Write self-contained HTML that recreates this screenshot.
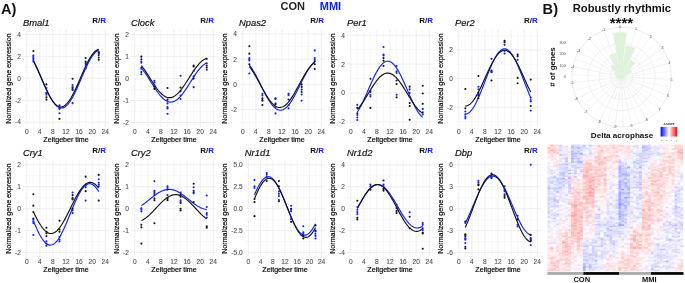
<!DOCTYPE html><html><head><meta charset="utf-8"><style>html,body{margin:0;padding:0;background:#fff;overflow:hidden}svg{display:block;will-change:transform}text{font-family:"Liberation Sans",sans-serif}</style></head><body><svg width="685" height="283" viewBox="0 0 685 283" font-family='"Liberation Sans", sans-serif'>
<rect width="685" height="283" fill="#fff"/>
<line x1="26.80" y1="29.70" x2="26.80" y2="126.90" stroke="#ebebeb" stroke-width="0.8"/>
<line x1="33.34" y1="29.70" x2="33.34" y2="126.90" stroke="#f3f3f3" stroke-width="0.6"/>
<line x1="39.88" y1="29.70" x2="39.88" y2="126.90" stroke="#ebebeb" stroke-width="0.8"/>
<line x1="46.42" y1="29.70" x2="46.42" y2="126.90" stroke="#f3f3f3" stroke-width="0.6"/>
<line x1="52.96" y1="29.70" x2="52.96" y2="126.90" stroke="#ebebeb" stroke-width="0.8"/>
<line x1="59.50" y1="29.70" x2="59.50" y2="126.90" stroke="#f3f3f3" stroke-width="0.6"/>
<line x1="66.04" y1="29.70" x2="66.04" y2="126.90" stroke="#ebebeb" stroke-width="0.8"/>
<line x1="72.58" y1="29.70" x2="72.58" y2="126.90" stroke="#f3f3f3" stroke-width="0.6"/>
<line x1="79.12" y1="29.70" x2="79.12" y2="126.90" stroke="#ebebeb" stroke-width="0.8"/>
<line x1="85.66" y1="29.70" x2="85.66" y2="126.90" stroke="#f3f3f3" stroke-width="0.6"/>
<line x1="92.20" y1="29.70" x2="92.20" y2="126.90" stroke="#ebebeb" stroke-width="0.8"/>
<line x1="98.74" y1="29.70" x2="98.74" y2="126.90" stroke="#f3f3f3" stroke-width="0.6"/>
<line x1="105.28" y1="29.70" x2="105.28" y2="126.90" stroke="#ebebeb" stroke-width="0.8"/>
<line x1="22.88" y1="122.09" x2="109.20" y2="122.09" stroke="#ebebeb" stroke-width="0.8"/>
<line x1="22.88" y1="100.17" x2="109.20" y2="100.17" stroke="#ebebeb" stroke-width="0.8"/>
<line x1="22.88" y1="78.25" x2="109.20" y2="78.25" stroke="#ebebeb" stroke-width="0.8"/>
<line x1="22.88" y1="56.33" x2="109.20" y2="56.33" stroke="#ebebeb" stroke-width="0.8"/>
<line x1="22.88" y1="34.41" x2="109.20" y2="34.41" stroke="#ebebeb" stroke-width="0.8"/>
<line x1="22.88" y1="111.13" x2="109.20" y2="111.13" stroke="#f3f3f3" stroke-width="0.6"/>
<line x1="22.88" y1="89.21" x2="109.20" y2="89.21" stroke="#f3f3f3" stroke-width="0.6"/>
<line x1="22.88" y1="67.29" x2="109.20" y2="67.29" stroke="#f3f3f3" stroke-width="0.6"/>
<line x1="22.88" y1="45.37" x2="109.20" y2="45.37" stroke="#f3f3f3" stroke-width="0.6"/>
<line x1="134.80" y1="29.70" x2="134.80" y2="126.90" stroke="#ebebeb" stroke-width="0.8"/>
<line x1="141.34" y1="29.70" x2="141.34" y2="126.90" stroke="#f3f3f3" stroke-width="0.6"/>
<line x1="147.88" y1="29.70" x2="147.88" y2="126.90" stroke="#ebebeb" stroke-width="0.8"/>
<line x1="154.42" y1="29.70" x2="154.42" y2="126.90" stroke="#f3f3f3" stroke-width="0.6"/>
<line x1="160.96" y1="29.70" x2="160.96" y2="126.90" stroke="#ebebeb" stroke-width="0.8"/>
<line x1="167.50" y1="29.70" x2="167.50" y2="126.90" stroke="#f3f3f3" stroke-width="0.6"/>
<line x1="174.04" y1="29.70" x2="174.04" y2="126.90" stroke="#ebebeb" stroke-width="0.8"/>
<line x1="180.58" y1="29.70" x2="180.58" y2="126.90" stroke="#f3f3f3" stroke-width="0.6"/>
<line x1="187.12" y1="29.70" x2="187.12" y2="126.90" stroke="#ebebeb" stroke-width="0.8"/>
<line x1="193.66" y1="29.70" x2="193.66" y2="126.90" stroke="#f3f3f3" stroke-width="0.6"/>
<line x1="200.20" y1="29.70" x2="200.20" y2="126.90" stroke="#ebebeb" stroke-width="0.8"/>
<line x1="206.74" y1="29.70" x2="206.74" y2="126.90" stroke="#f3f3f3" stroke-width="0.6"/>
<line x1="213.28" y1="29.70" x2="213.28" y2="126.90" stroke="#ebebeb" stroke-width="0.8"/>
<line x1="130.88" y1="122.50" x2="217.20" y2="122.50" stroke="#ebebeb" stroke-width="0.8"/>
<line x1="130.88" y1="100.55" x2="217.20" y2="100.55" stroke="#ebebeb" stroke-width="0.8"/>
<line x1="130.88" y1="78.60" x2="217.20" y2="78.60" stroke="#ebebeb" stroke-width="0.8"/>
<line x1="130.88" y1="56.65" x2="217.20" y2="56.65" stroke="#ebebeb" stroke-width="0.8"/>
<line x1="130.88" y1="34.70" x2="217.20" y2="34.70" stroke="#ebebeb" stroke-width="0.8"/>
<line x1="130.88" y1="111.52" x2="217.20" y2="111.52" stroke="#f3f3f3" stroke-width="0.6"/>
<line x1="130.88" y1="89.57" x2="217.20" y2="89.57" stroke="#f3f3f3" stroke-width="0.6"/>
<line x1="130.88" y1="67.62" x2="217.20" y2="67.62" stroke="#f3f3f3" stroke-width="0.6"/>
<line x1="130.88" y1="45.67" x2="217.20" y2="45.67" stroke="#f3f3f3" stroke-width="0.6"/>
<line x1="242.80" y1="29.70" x2="242.80" y2="126.90" stroke="#ebebeb" stroke-width="0.8"/>
<line x1="249.34" y1="29.70" x2="249.34" y2="126.90" stroke="#f3f3f3" stroke-width="0.6"/>
<line x1="255.88" y1="29.70" x2="255.88" y2="126.90" stroke="#ebebeb" stroke-width="0.8"/>
<line x1="262.42" y1="29.70" x2="262.42" y2="126.90" stroke="#f3f3f3" stroke-width="0.6"/>
<line x1="268.96" y1="29.70" x2="268.96" y2="126.90" stroke="#ebebeb" stroke-width="0.8"/>
<line x1="275.50" y1="29.70" x2="275.50" y2="126.90" stroke="#f3f3f3" stroke-width="0.6"/>
<line x1="282.04" y1="29.70" x2="282.04" y2="126.90" stroke="#ebebeb" stroke-width="0.8"/>
<line x1="288.58" y1="29.70" x2="288.58" y2="126.90" stroke="#f3f3f3" stroke-width="0.6"/>
<line x1="295.12" y1="29.70" x2="295.12" y2="126.90" stroke="#ebebeb" stroke-width="0.8"/>
<line x1="301.66" y1="29.70" x2="301.66" y2="126.90" stroke="#f3f3f3" stroke-width="0.6"/>
<line x1="308.20" y1="29.70" x2="308.20" y2="126.90" stroke="#ebebeb" stroke-width="0.8"/>
<line x1="314.74" y1="29.70" x2="314.74" y2="126.90" stroke="#f3f3f3" stroke-width="0.6"/>
<line x1="321.28" y1="29.70" x2="321.28" y2="126.90" stroke="#ebebeb" stroke-width="0.8"/>
<line x1="238.88" y1="109.60" x2="325.20" y2="109.60" stroke="#ebebeb" stroke-width="0.8"/>
<line x1="238.88" y1="84.40" x2="325.20" y2="84.40" stroke="#ebebeb" stroke-width="0.8"/>
<line x1="238.88" y1="59.20" x2="325.20" y2="59.20" stroke="#ebebeb" stroke-width="0.8"/>
<line x1="238.88" y1="34.00" x2="325.20" y2="34.00" stroke="#ebebeb" stroke-width="0.8"/>
<line x1="238.88" y1="122.20" x2="325.20" y2="122.20" stroke="#f3f3f3" stroke-width="0.6"/>
<line x1="238.88" y1="97.00" x2="325.20" y2="97.00" stroke="#f3f3f3" stroke-width="0.6"/>
<line x1="238.88" y1="71.80" x2="325.20" y2="71.80" stroke="#f3f3f3" stroke-width="0.6"/>
<line x1="238.88" y1="46.60" x2="325.20" y2="46.60" stroke="#f3f3f3" stroke-width="0.6"/>
<line x1="350.80" y1="29.70" x2="350.80" y2="126.90" stroke="#ebebeb" stroke-width="0.8"/>
<line x1="357.34" y1="29.70" x2="357.34" y2="126.90" stroke="#f3f3f3" stroke-width="0.6"/>
<line x1="363.88" y1="29.70" x2="363.88" y2="126.90" stroke="#ebebeb" stroke-width="0.8"/>
<line x1="370.42" y1="29.70" x2="370.42" y2="126.90" stroke="#f3f3f3" stroke-width="0.6"/>
<line x1="376.96" y1="29.70" x2="376.96" y2="126.90" stroke="#ebebeb" stroke-width="0.8"/>
<line x1="383.50" y1="29.70" x2="383.50" y2="126.90" stroke="#f3f3f3" stroke-width="0.6"/>
<line x1="390.04" y1="29.70" x2="390.04" y2="126.90" stroke="#ebebeb" stroke-width="0.8"/>
<line x1="396.58" y1="29.70" x2="396.58" y2="126.90" stroke="#f3f3f3" stroke-width="0.6"/>
<line x1="403.12" y1="29.70" x2="403.12" y2="126.90" stroke="#ebebeb" stroke-width="0.8"/>
<line x1="409.66" y1="29.70" x2="409.66" y2="126.90" stroke="#f3f3f3" stroke-width="0.6"/>
<line x1="416.20" y1="29.70" x2="416.20" y2="126.90" stroke="#ebebeb" stroke-width="0.8"/>
<line x1="422.74" y1="29.70" x2="422.74" y2="126.90" stroke="#f3f3f3" stroke-width="0.6"/>
<line x1="429.28" y1="29.70" x2="429.28" y2="126.90" stroke="#ebebeb" stroke-width="0.8"/>
<line x1="346.88" y1="121.90" x2="433.20" y2="121.90" stroke="#ebebeb" stroke-width="0.8"/>
<line x1="346.88" y1="93.00" x2="433.20" y2="93.00" stroke="#ebebeb" stroke-width="0.8"/>
<line x1="346.88" y1="64.10" x2="433.20" y2="64.10" stroke="#ebebeb" stroke-width="0.8"/>
<line x1="346.88" y1="35.20" x2="433.20" y2="35.20" stroke="#ebebeb" stroke-width="0.8"/>
<line x1="346.88" y1="107.45" x2="433.20" y2="107.45" stroke="#f3f3f3" stroke-width="0.6"/>
<line x1="346.88" y1="78.55" x2="433.20" y2="78.55" stroke="#f3f3f3" stroke-width="0.6"/>
<line x1="346.88" y1="49.65" x2="433.20" y2="49.65" stroke="#f3f3f3" stroke-width="0.6"/>
<line x1="458.80" y1="29.70" x2="458.80" y2="126.90" stroke="#ebebeb" stroke-width="0.8"/>
<line x1="465.34" y1="29.70" x2="465.34" y2="126.90" stroke="#f3f3f3" stroke-width="0.6"/>
<line x1="471.88" y1="29.70" x2="471.88" y2="126.90" stroke="#ebebeb" stroke-width="0.8"/>
<line x1="478.42" y1="29.70" x2="478.42" y2="126.90" stroke="#f3f3f3" stroke-width="0.6"/>
<line x1="484.96" y1="29.70" x2="484.96" y2="126.90" stroke="#ebebeb" stroke-width="0.8"/>
<line x1="491.50" y1="29.70" x2="491.50" y2="126.90" stroke="#f3f3f3" stroke-width="0.6"/>
<line x1="498.04" y1="29.70" x2="498.04" y2="126.90" stroke="#ebebeb" stroke-width="0.8"/>
<line x1="504.58" y1="29.70" x2="504.58" y2="126.90" stroke="#f3f3f3" stroke-width="0.6"/>
<line x1="511.12" y1="29.70" x2="511.12" y2="126.90" stroke="#ebebeb" stroke-width="0.8"/>
<line x1="517.66" y1="29.70" x2="517.66" y2="126.90" stroke="#f3f3f3" stroke-width="0.6"/>
<line x1="524.20" y1="29.70" x2="524.20" y2="126.90" stroke="#ebebeb" stroke-width="0.8"/>
<line x1="530.74" y1="29.70" x2="530.74" y2="126.90" stroke="#f3f3f3" stroke-width="0.6"/>
<line x1="537.28" y1="29.70" x2="537.28" y2="126.90" stroke="#ebebeb" stroke-width="0.8"/>
<line x1="454.88" y1="107.20" x2="541.20" y2="107.20" stroke="#ebebeb" stroke-width="0.8"/>
<line x1="454.88" y1="78.60" x2="541.20" y2="78.60" stroke="#ebebeb" stroke-width="0.8"/>
<line x1="454.88" y1="50.00" x2="541.20" y2="50.00" stroke="#ebebeb" stroke-width="0.8"/>
<line x1="454.88" y1="121.50" x2="541.20" y2="121.50" stroke="#f3f3f3" stroke-width="0.6"/>
<line x1="454.88" y1="92.90" x2="541.20" y2="92.90" stroke="#f3f3f3" stroke-width="0.6"/>
<line x1="454.88" y1="64.30" x2="541.20" y2="64.30" stroke="#f3f3f3" stroke-width="0.6"/>
<line x1="454.88" y1="35.70" x2="541.20" y2="35.70" stroke="#f3f3f3" stroke-width="0.6"/>
<line x1="26.80" y1="159.70" x2="26.80" y2="256.90" stroke="#ebebeb" stroke-width="0.8"/>
<line x1="33.34" y1="159.70" x2="33.34" y2="256.90" stroke="#f3f3f3" stroke-width="0.6"/>
<line x1="39.88" y1="159.70" x2="39.88" y2="256.90" stroke="#ebebeb" stroke-width="0.8"/>
<line x1="46.42" y1="159.70" x2="46.42" y2="256.90" stroke="#f3f3f3" stroke-width="0.6"/>
<line x1="52.96" y1="159.70" x2="52.96" y2="256.90" stroke="#ebebeb" stroke-width="0.8"/>
<line x1="59.50" y1="159.70" x2="59.50" y2="256.90" stroke="#f3f3f3" stroke-width="0.6"/>
<line x1="66.04" y1="159.70" x2="66.04" y2="256.90" stroke="#ebebeb" stroke-width="0.8"/>
<line x1="72.58" y1="159.70" x2="72.58" y2="256.90" stroke="#f3f3f3" stroke-width="0.6"/>
<line x1="79.12" y1="159.70" x2="79.12" y2="256.90" stroke="#ebebeb" stroke-width="0.8"/>
<line x1="85.66" y1="159.70" x2="85.66" y2="256.90" stroke="#f3f3f3" stroke-width="0.6"/>
<line x1="92.20" y1="159.70" x2="92.20" y2="256.90" stroke="#ebebeb" stroke-width="0.8"/>
<line x1="98.74" y1="159.70" x2="98.74" y2="256.90" stroke="#f3f3f3" stroke-width="0.6"/>
<line x1="105.28" y1="159.70" x2="105.28" y2="256.90" stroke="#ebebeb" stroke-width="0.8"/>
<line x1="22.88" y1="252.60" x2="109.20" y2="252.60" stroke="#ebebeb" stroke-width="0.8"/>
<line x1="22.88" y1="230.65" x2="109.20" y2="230.65" stroke="#ebebeb" stroke-width="0.8"/>
<line x1="22.88" y1="208.70" x2="109.20" y2="208.70" stroke="#ebebeb" stroke-width="0.8"/>
<line x1="22.88" y1="186.75" x2="109.20" y2="186.75" stroke="#ebebeb" stroke-width="0.8"/>
<line x1="22.88" y1="164.80" x2="109.20" y2="164.80" stroke="#ebebeb" stroke-width="0.8"/>
<line x1="22.88" y1="241.62" x2="109.20" y2="241.62" stroke="#f3f3f3" stroke-width="0.6"/>
<line x1="22.88" y1="219.67" x2="109.20" y2="219.67" stroke="#f3f3f3" stroke-width="0.6"/>
<line x1="22.88" y1="197.72" x2="109.20" y2="197.72" stroke="#f3f3f3" stroke-width="0.6"/>
<line x1="22.88" y1="175.77" x2="109.20" y2="175.77" stroke="#f3f3f3" stroke-width="0.6"/>
<line x1="134.80" y1="159.70" x2="134.80" y2="256.90" stroke="#ebebeb" stroke-width="0.8"/>
<line x1="141.34" y1="159.70" x2="141.34" y2="256.90" stroke="#f3f3f3" stroke-width="0.6"/>
<line x1="147.88" y1="159.70" x2="147.88" y2="256.90" stroke="#ebebeb" stroke-width="0.8"/>
<line x1="154.42" y1="159.70" x2="154.42" y2="256.90" stroke="#f3f3f3" stroke-width="0.6"/>
<line x1="160.96" y1="159.70" x2="160.96" y2="256.90" stroke="#ebebeb" stroke-width="0.8"/>
<line x1="167.50" y1="159.70" x2="167.50" y2="256.90" stroke="#f3f3f3" stroke-width="0.6"/>
<line x1="174.04" y1="159.70" x2="174.04" y2="256.90" stroke="#ebebeb" stroke-width="0.8"/>
<line x1="180.58" y1="159.70" x2="180.58" y2="256.90" stroke="#f3f3f3" stroke-width="0.6"/>
<line x1="187.12" y1="159.70" x2="187.12" y2="256.90" stroke="#ebebeb" stroke-width="0.8"/>
<line x1="193.66" y1="159.70" x2="193.66" y2="256.90" stroke="#f3f3f3" stroke-width="0.6"/>
<line x1="200.20" y1="159.70" x2="200.20" y2="256.90" stroke="#ebebeb" stroke-width="0.8"/>
<line x1="206.74" y1="159.70" x2="206.74" y2="256.90" stroke="#f3f3f3" stroke-width="0.6"/>
<line x1="213.28" y1="159.70" x2="213.28" y2="256.90" stroke="#ebebeb" stroke-width="0.8"/>
<line x1="130.88" y1="252.60" x2="217.20" y2="252.60" stroke="#ebebeb" stroke-width="0.8"/>
<line x1="130.88" y1="230.65" x2="217.20" y2="230.65" stroke="#ebebeb" stroke-width="0.8"/>
<line x1="130.88" y1="208.70" x2="217.20" y2="208.70" stroke="#ebebeb" stroke-width="0.8"/>
<line x1="130.88" y1="186.75" x2="217.20" y2="186.75" stroke="#ebebeb" stroke-width="0.8"/>
<line x1="130.88" y1="164.80" x2="217.20" y2="164.80" stroke="#ebebeb" stroke-width="0.8"/>
<line x1="130.88" y1="241.62" x2="217.20" y2="241.62" stroke="#f3f3f3" stroke-width="0.6"/>
<line x1="130.88" y1="219.67" x2="217.20" y2="219.67" stroke="#f3f3f3" stroke-width="0.6"/>
<line x1="130.88" y1="197.72" x2="217.20" y2="197.72" stroke="#f3f3f3" stroke-width="0.6"/>
<line x1="130.88" y1="175.77" x2="217.20" y2="175.77" stroke="#f3f3f3" stroke-width="0.6"/>
<line x1="248.40" y1="159.70" x2="248.40" y2="256.90" stroke="#ebebeb" stroke-width="0.8"/>
<line x1="254.50" y1="159.70" x2="254.50" y2="256.90" stroke="#f3f3f3" stroke-width="0.6"/>
<line x1="260.60" y1="159.70" x2="260.60" y2="256.90" stroke="#ebebeb" stroke-width="0.8"/>
<line x1="266.70" y1="159.70" x2="266.70" y2="256.90" stroke="#f3f3f3" stroke-width="0.6"/>
<line x1="272.80" y1="159.70" x2="272.80" y2="256.90" stroke="#ebebeb" stroke-width="0.8"/>
<line x1="278.90" y1="159.70" x2="278.90" y2="256.90" stroke="#f3f3f3" stroke-width="0.6"/>
<line x1="285.00" y1="159.70" x2="285.00" y2="256.90" stroke="#ebebeb" stroke-width="0.8"/>
<line x1="291.10" y1="159.70" x2="291.10" y2="256.90" stroke="#f3f3f3" stroke-width="0.6"/>
<line x1="297.20" y1="159.70" x2="297.20" y2="256.90" stroke="#ebebeb" stroke-width="0.8"/>
<line x1="303.30" y1="159.70" x2="303.30" y2="256.90" stroke="#f3f3f3" stroke-width="0.6"/>
<line x1="309.40" y1="159.70" x2="309.40" y2="256.90" stroke="#ebebeb" stroke-width="0.8"/>
<line x1="315.50" y1="159.70" x2="315.50" y2="256.90" stroke="#f3f3f3" stroke-width="0.6"/>
<line x1="321.60" y1="159.70" x2="321.60" y2="256.90" stroke="#ebebeb" stroke-width="0.8"/>
<line x1="244.74" y1="252.60" x2="325.26" y2="252.60" stroke="#ebebeb" stroke-width="0.8"/>
<line x1="244.74" y1="230.65" x2="325.26" y2="230.65" stroke="#ebebeb" stroke-width="0.8"/>
<line x1="244.74" y1="208.70" x2="325.26" y2="208.70" stroke="#ebebeb" stroke-width="0.8"/>
<line x1="244.74" y1="186.75" x2="325.26" y2="186.75" stroke="#ebebeb" stroke-width="0.8"/>
<line x1="244.74" y1="164.80" x2="325.26" y2="164.80" stroke="#ebebeb" stroke-width="0.8"/>
<line x1="244.74" y1="241.62" x2="325.26" y2="241.62" stroke="#f3f3f3" stroke-width="0.6"/>
<line x1="244.74" y1="219.67" x2="325.26" y2="219.67" stroke="#f3f3f3" stroke-width="0.6"/>
<line x1="244.74" y1="197.72" x2="325.26" y2="197.72" stroke="#f3f3f3" stroke-width="0.6"/>
<line x1="244.74" y1="175.77" x2="325.26" y2="175.77" stroke="#f3f3f3" stroke-width="0.6"/>
<line x1="350.80" y1="159.70" x2="350.80" y2="256.90" stroke="#ebebeb" stroke-width="0.8"/>
<line x1="357.34" y1="159.70" x2="357.34" y2="256.90" stroke="#f3f3f3" stroke-width="0.6"/>
<line x1="363.88" y1="159.70" x2="363.88" y2="256.90" stroke="#ebebeb" stroke-width="0.8"/>
<line x1="370.42" y1="159.70" x2="370.42" y2="256.90" stroke="#f3f3f3" stroke-width="0.6"/>
<line x1="376.96" y1="159.70" x2="376.96" y2="256.90" stroke="#ebebeb" stroke-width="0.8"/>
<line x1="383.50" y1="159.70" x2="383.50" y2="256.90" stroke="#f3f3f3" stroke-width="0.6"/>
<line x1="390.04" y1="159.70" x2="390.04" y2="256.90" stroke="#ebebeb" stroke-width="0.8"/>
<line x1="396.58" y1="159.70" x2="396.58" y2="256.90" stroke="#f3f3f3" stroke-width="0.6"/>
<line x1="403.12" y1="159.70" x2="403.12" y2="256.90" stroke="#ebebeb" stroke-width="0.8"/>
<line x1="409.66" y1="159.70" x2="409.66" y2="256.90" stroke="#f3f3f3" stroke-width="0.6"/>
<line x1="416.20" y1="159.70" x2="416.20" y2="256.90" stroke="#ebebeb" stroke-width="0.8"/>
<line x1="422.74" y1="159.70" x2="422.74" y2="256.90" stroke="#f3f3f3" stroke-width="0.6"/>
<line x1="429.28" y1="159.70" x2="429.28" y2="256.90" stroke="#ebebeb" stroke-width="0.8"/>
<line x1="346.88" y1="252.50" x2="433.20" y2="252.50" stroke="#ebebeb" stroke-width="0.8"/>
<line x1="346.88" y1="230.60" x2="433.20" y2="230.60" stroke="#ebebeb" stroke-width="0.8"/>
<line x1="346.88" y1="208.70" x2="433.20" y2="208.70" stroke="#ebebeb" stroke-width="0.8"/>
<line x1="346.88" y1="186.80" x2="433.20" y2="186.80" stroke="#ebebeb" stroke-width="0.8"/>
<line x1="346.88" y1="164.90" x2="433.20" y2="164.90" stroke="#ebebeb" stroke-width="0.8"/>
<line x1="346.88" y1="241.55" x2="433.20" y2="241.55" stroke="#f3f3f3" stroke-width="0.6"/>
<line x1="346.88" y1="219.65" x2="433.20" y2="219.65" stroke="#f3f3f3" stroke-width="0.6"/>
<line x1="346.88" y1="197.75" x2="433.20" y2="197.75" stroke="#f3f3f3" stroke-width="0.6"/>
<line x1="346.88" y1="175.85" x2="433.20" y2="175.85" stroke="#f3f3f3" stroke-width="0.6"/>
<line x1="458.80" y1="159.70" x2="458.80" y2="256.90" stroke="#ebebeb" stroke-width="0.8"/>
<line x1="465.34" y1="159.70" x2="465.34" y2="256.90" stroke="#f3f3f3" stroke-width="0.6"/>
<line x1="471.88" y1="159.70" x2="471.88" y2="256.90" stroke="#ebebeb" stroke-width="0.8"/>
<line x1="478.42" y1="159.70" x2="478.42" y2="256.90" stroke="#f3f3f3" stroke-width="0.6"/>
<line x1="484.96" y1="159.70" x2="484.96" y2="256.90" stroke="#ebebeb" stroke-width="0.8"/>
<line x1="491.50" y1="159.70" x2="491.50" y2="256.90" stroke="#f3f3f3" stroke-width="0.6"/>
<line x1="498.04" y1="159.70" x2="498.04" y2="256.90" stroke="#ebebeb" stroke-width="0.8"/>
<line x1="504.58" y1="159.70" x2="504.58" y2="256.90" stroke="#f3f3f3" stroke-width="0.6"/>
<line x1="511.12" y1="159.70" x2="511.12" y2="256.90" stroke="#ebebeb" stroke-width="0.8"/>
<line x1="517.66" y1="159.70" x2="517.66" y2="256.90" stroke="#f3f3f3" stroke-width="0.6"/>
<line x1="524.20" y1="159.70" x2="524.20" y2="256.90" stroke="#ebebeb" stroke-width="0.8"/>
<line x1="530.74" y1="159.70" x2="530.74" y2="256.90" stroke="#f3f3f3" stroke-width="0.6"/>
<line x1="537.28" y1="159.70" x2="537.28" y2="256.90" stroke="#ebebeb" stroke-width="0.8"/>
<line x1="454.88" y1="252.62" x2="541.20" y2="252.62" stroke="#ebebeb" stroke-width="0.8"/>
<line x1="454.88" y1="230.66" x2="541.20" y2="230.66" stroke="#ebebeb" stroke-width="0.8"/>
<line x1="454.88" y1="208.70" x2="541.20" y2="208.70" stroke="#ebebeb" stroke-width="0.8"/>
<line x1="454.88" y1="186.74" x2="541.20" y2="186.74" stroke="#ebebeb" stroke-width="0.8"/>
<line x1="454.88" y1="164.78" x2="541.20" y2="164.78" stroke="#ebebeb" stroke-width="0.8"/>
<line x1="454.88" y1="241.64" x2="541.20" y2="241.64" stroke="#f3f3f3" stroke-width="0.6"/>
<line x1="454.88" y1="219.68" x2="541.20" y2="219.68" stroke="#f3f3f3" stroke-width="0.6"/>
<line x1="454.88" y1="197.72" x2="541.20" y2="197.72" stroke="#f3f3f3" stroke-width="0.6"/>
<line x1="454.88" y1="175.76" x2="541.20" y2="175.76" stroke="#f3f3f3" stroke-width="0.6"/>
<circle cx="621.5" cy="77.0" r="11.20" fill="none" stroke="#e6e6e6" stroke-width="0.6"/>
<circle cx="621.5" cy="77.0" r="22.40" fill="none" stroke="#e6e6e6" stroke-width="0.6"/>
<circle cx="621.5" cy="77.0" r="33.60" fill="none" stroke="#e6e6e6" stroke-width="0.6"/>
<circle cx="621.5" cy="77.0" r="49.8" fill="none" stroke="#e2e2e2" stroke-width="0.65"/>
<line x1="621.5" y1="77.0" x2="623.26" y2="126.77" stroke="#efefef" stroke-width="0.55"/>
<line x1="621.5" y1="77.0" x2="615.04" y2="126.38" stroke="#e5e5e5" stroke-width="0.55"/>
<line x1="621.5" y1="77.0" x2="607.00" y2="124.64" stroke="#efefef" stroke-width="0.55"/>
<line x1="621.5" y1="77.0" x2="599.36" y2="121.61" stroke="#e5e5e5" stroke-width="0.55"/>
<line x1="621.5" y1="77.0" x2="592.32" y2="117.35" stroke="#efefef" stroke-width="0.55"/>
<line x1="621.5" y1="77.0" x2="586.07" y2="112.00" stroke="#e5e5e5" stroke-width="0.55"/>
<line x1="621.5" y1="77.0" x2="580.79" y2="105.69" stroke="#efefef" stroke-width="0.55"/>
<line x1="621.5" y1="77.0" x2="576.63" y2="98.60" stroke="#e5e5e5" stroke-width="0.55"/>
<line x1="621.5" y1="77.0" x2="573.68" y2="90.91" stroke="#efefef" stroke-width="0.55"/>
<line x1="621.5" y1="77.0" x2="572.05" y2="82.85" stroke="#e5e5e5" stroke-width="0.55"/>
<line x1="621.5" y1="77.0" x2="571.76" y2="74.63" stroke="#efefef" stroke-width="0.55"/>
<line x1="621.5" y1="77.0" x2="572.82" y2="66.48" stroke="#e5e5e5" stroke-width="0.55"/>
<line x1="621.5" y1="77.0" x2="575.22" y2="58.61" stroke="#efefef" stroke-width="0.55"/>
<line x1="621.5" y1="77.0" x2="578.88" y2="51.24" stroke="#e5e5e5" stroke-width="0.55"/>
<line x1="621.5" y1="77.0" x2="583.70" y2="44.57" stroke="#efefef" stroke-width="0.55"/>
<line x1="621.5" y1="77.0" x2="589.56" y2="38.80" stroke="#e5e5e5" stroke-width="0.55"/>
<line x1="621.5" y1="77.0" x2="596.28" y2="34.06" stroke="#efefef" stroke-width="0.55"/>
<line x1="621.5" y1="77.0" x2="603.69" y2="30.49" stroke="#e5e5e5" stroke-width="0.55"/>
<line x1="621.5" y1="77.0" x2="611.59" y2="28.20" stroke="#efefef" stroke-width="0.55"/>
<line x1="621.5" y1="77.0" x2="619.76" y2="27.23" stroke="#e5e5e5" stroke-width="0.55"/>
<line x1="621.5" y1="77.0" x2="627.98" y2="27.62" stroke="#efefef" stroke-width="0.55"/>
<line x1="621.5" y1="77.0" x2="636.02" y2="29.36" stroke="#e5e5e5" stroke-width="0.55"/>
<line x1="621.5" y1="77.0" x2="643.66" y2="32.40" stroke="#efefef" stroke-width="0.55"/>
<line x1="621.5" y1="77.0" x2="650.70" y2="36.66" stroke="#e5e5e5" stroke-width="0.55"/>
<line x1="621.5" y1="77.0" x2="656.94" y2="42.02" stroke="#efefef" stroke-width="0.55"/>
<line x1="621.5" y1="77.0" x2="662.22" y2="48.33" stroke="#e5e5e5" stroke-width="0.55"/>
<line x1="621.5" y1="77.0" x2="666.38" y2="55.42" stroke="#efefef" stroke-width="0.55"/>
<line x1="621.5" y1="77.0" x2="669.32" y2="63.11" stroke="#e5e5e5" stroke-width="0.55"/>
<line x1="621.5" y1="77.0" x2="670.96" y2="71.17" stroke="#efefef" stroke-width="0.55"/>
<line x1="621.5" y1="77.0" x2="671.24" y2="79.39" stroke="#e5e5e5" stroke-width="0.55"/>
<line x1="621.5" y1="77.0" x2="670.17" y2="87.55" stroke="#efefef" stroke-width="0.55"/>
<line x1="621.5" y1="77.0" x2="667.77" y2="95.41" stroke="#e5e5e5" stroke-width="0.55"/>
<line x1="621.5" y1="77.0" x2="664.11" y2="102.78" stroke="#efefef" stroke-width="0.55"/>
<line x1="621.5" y1="77.0" x2="659.28" y2="109.44" stroke="#e5e5e5" stroke-width="0.55"/>
<line x1="621.5" y1="77.0" x2="653.43" y2="115.22" stroke="#efefef" stroke-width="0.55"/>
<line x1="621.5" y1="77.0" x2="646.70" y2="119.95" stroke="#e5e5e5" stroke-width="0.55"/>
<line x1="621.5" y1="77.0" x2="639.29" y2="123.52" stroke="#efefef" stroke-width="0.55"/>
<line x1="621.5" y1="77.0" x2="631.39" y2="125.81" stroke="#e5e5e5" stroke-width="0.55"/>
<line x1="621.5" y1="77.0" x2="623.22" y2="126.77" stroke="#efefef" stroke-width="0.55"/>
<polygon points="621.3,77.2 613.12,33.05 614.76,32.78 616.41,32.57 618.07,32.42 619.73,32.33 621.40,32.30 623.06,32.33 624.73,32.43 626.38,32.59" fill="#def1d7" fill-opacity="0.93"/>
<polygon points="621.3,77.2 626.05,45.25 627.23,45.45 628.40,45.69 629.56,45.98 630.72,46.30 631.86,46.67 632.98,47.09 634.09,47.54 635.18,48.03" fill="#def1d7" fill-opacity="0.93"/>
<polygon points="621.3,77.2 609.01,55.43 609.82,54.99 610.66,54.58 611.50,54.20 612.36,53.85 613.23,53.54 614.12,53.25 615.01,53.00 615.91,52.79" fill="#def1d7" fill-opacity="0.93"/>
<polygon points="621.3,77.2 630.50,59.44 631.16,59.80 631.79,60.17 632.42,60.58 633.03,61.00 633.62,61.45 634.20,61.91 634.75,62.40 635.29,62.91" fill="#def1d7" fill-opacity="0.93"/>
<polygon points="621.3,77.2 610.08,67.24 610.46,66.83 610.85,66.44 611.26,66.06 611.68,65.69 612.11,65.34 612.56,65.01 613.02,64.70 613.48,64.40" fill="#def1d7" fill-opacity="0.93"/>
<polygon points="621.3,77.2 629.98,68.92 630.28,69.24 630.57,69.58 630.85,69.93 631.11,70.29 631.36,70.66 631.60,71.04 631.82,71.42 632.03,71.82" fill="#def1d7" fill-opacity="0.93"/>
<polygon points="621.3,77.2 613.92,74.12 614.04,73.85 614.17,73.58 614.30,73.32 614.45,73.06 614.61,72.81 614.78,72.57 614.96,72.33 615.14,72.10" fill="#def1d7" fill-opacity="0.93"/>
<polygon points="621.3,77.2 625.39,75.32 625.46,75.47 625.52,75.63 625.57,75.79 625.62,75.94 625.66,76.11 625.70,76.27 625.73,76.43 625.76,76.60" fill="#def1d7" fill-opacity="0.93"/>
<polygon points="621.3,77.2 616.31,76.88 616.33,76.69 616.35,76.51 616.38,76.33 616.41,76.14 616.46,75.96 616.50,75.78 616.56,75.61 616.62,75.43" fill="#def1d7" fill-opacity="0.93"/>
<polygon points="621.3,77.2 624.78,76.85 624.79,76.98 624.80,77.11 624.80,77.24 624.80,77.37 624.79,77.50 624.77,77.63 624.76,77.76 624.73,77.88" fill="#def1d7" fill-opacity="0.93"/>
<polygon points="621.3,77.2 617.92,78.12 617.89,77.99 617.86,77.87 617.84,77.74 617.82,77.61 617.81,77.48 617.80,77.35 617.80,77.22 617.80,77.09" fill="#def1d7" fill-opacity="0.93"/>
<polygon points="621.3,77.2 624.22,77.89 624.19,77.99 624.16,78.10 624.13,78.21 624.09,78.31 624.04,78.41 624.00,78.51 623.95,78.61 623.89,78.71" fill="#def1d7" fill-opacity="0.93"/>
<polygon points="621.3,77.2 618.82,78.89 618.76,78.79 618.70,78.70 618.65,78.60 618.60,78.50 618.55,78.40 618.51,78.30 618.47,78.19 618.43,78.09" fill="#def1d7" fill-opacity="0.93"/>
<polygon points="621.3,77.2 623.42,78.53 623.37,78.61 623.31,78.68 623.26,78.76 623.20,78.83 623.14,78.90 623.07,78.96 623.00,79.03 622.94,79.09" fill="#def1d7" fill-opacity="0.93"/>
<polygon points="621.3,77.2 619.80,79.20 619.73,79.14 619.66,79.08 619.59,79.02 619.52,78.96 619.46,78.89 619.40,78.82 619.34,78.75 619.28,78.67" fill="#def1d7" fill-opacity="0.93"/>
<text x="615.02" y="127.68" font-size="3.6" text-anchor="middle" fill="#555">-9</text>
<text x="599.27" y="122.89" font-size="3.6" text-anchor="middle" fill="#555">-8</text>
<text x="585.93" y="113.24" font-size="3.6" text-anchor="middle" fill="#555">-7</text>
<text x="576.45" y="99.78" font-size="3.6" text-anchor="middle" fill="#555">-6</text>
<text x="571.85" y="83.98" font-size="3.6" text-anchor="middle" fill="#555">-5</text>
<text x="572.63" y="67.53" font-size="3.6" text-anchor="middle" fill="#555">-4</text>
<text x="578.71" y="52.24" font-size="3.6" text-anchor="middle" fill="#555">-3</text>
<text x="589.43" y="39.74" font-size="3.6" text-anchor="middle" fill="#555">-2</text>
<text x="603.62" y="31.41" font-size="3.6" text-anchor="middle" fill="#555">-1</text>
<text x="619.76" y="28.13" font-size="3.6" text-anchor="middle" fill="#555">0</text>
<text x="636.08" y="30.27" font-size="3.6" text-anchor="middle" fill="#555">1</text>
<text x="650.82" y="37.60" font-size="3.6" text-anchor="middle" fill="#555">2</text>
<text x="662.38" y="49.31" font-size="3.6" text-anchor="middle" fill="#555">3</text>
<text x="669.51" y="64.15" font-size="3.6" text-anchor="middle" fill="#555">4</text>
<text x="671.44" y="80.50" font-size="3.6" text-anchor="middle" fill="#555">5</text>
<text x="667.96" y="96.59" font-size="3.6" text-anchor="middle" fill="#555">6</text>
<text x="659.44" y="110.67" font-size="3.6" text-anchor="middle" fill="#555">7</text>
<text x="646.80" y="121.23" font-size="3.6" text-anchor="middle" fill="#555">8</text>
<text x="631.43" y="127.10" font-size="3.6" text-anchor="middle" fill="#555">9</text>
<text x="565.80" y="77.80" font-size="3.8" text-anchor="end" fill="#555">0</text>
<text x="565.80" y="66.60" font-size="3.8" text-anchor="end" fill="#555">100</text>
<text x="565.80" y="55.30" font-size="3.8" text-anchor="end" fill="#555">200</text>
<text x="565.80" y="43.90" font-size="3.8" text-anchor="end" fill="#555">300</text>
<text x="20.88" y="124.49" font-size="6.6" text-anchor="end" font-weight="normal" font-style="normal" fill="#4d4d4d" stroke="#4d4d4d" stroke-width="0.08" >-4</text>
<text x="20.88" y="102.57" font-size="6.6" text-anchor="end" font-weight="normal" font-style="normal" fill="#4d4d4d" stroke="#4d4d4d" stroke-width="0.08" >-2</text>
<text x="20.88" y="80.65" font-size="6.6" text-anchor="end" font-weight="normal" font-style="normal" fill="#4d4d4d" stroke="#4d4d4d" stroke-width="0.08" >0</text>
<text x="20.88" y="58.73" font-size="6.6" text-anchor="end" font-weight="normal" font-style="normal" fill="#4d4d4d" stroke="#4d4d4d" stroke-width="0.08" >2</text>
<text x="20.88" y="36.81" font-size="6.6" text-anchor="end" font-weight="normal" font-style="normal" fill="#4d4d4d" stroke="#4d4d4d" stroke-width="0.08" >4</text>
<text x="26.80" y="133.90" font-size="6.6" text-anchor="middle" font-weight="normal" font-style="normal" fill="#4d4d4d" stroke="#4d4d4d" stroke-width="0.08" >0</text>
<text x="39.88" y="133.90" font-size="6.6" text-anchor="middle" font-weight="normal" font-style="normal" fill="#4d4d4d" stroke="#4d4d4d" stroke-width="0.08" >4</text>
<text x="52.96" y="133.90" font-size="6.6" text-anchor="middle" font-weight="normal" font-style="normal" fill="#4d4d4d" stroke="#4d4d4d" stroke-width="0.08" >8</text>
<text x="66.04" y="133.90" font-size="6.6" text-anchor="middle" font-weight="normal" font-style="normal" fill="#4d4d4d" stroke="#4d4d4d" stroke-width="0.08" >12</text>
<text x="79.12" y="133.90" font-size="6.6" text-anchor="middle" font-weight="normal" font-style="normal" fill="#4d4d4d" stroke="#4d4d4d" stroke-width="0.08" >16</text>
<text x="92.20" y="133.90" font-size="6.6" text-anchor="middle" font-weight="normal" font-style="normal" fill="#4d4d4d" stroke="#4d4d4d" stroke-width="0.08" >20</text>
<text x="105.28" y="133.90" font-size="6.6" text-anchor="middle" font-weight="normal" font-style="normal" fill="#4d4d4d" stroke="#4d4d4d" stroke-width="0.08" >24</text>
<text x="66.04" y="141.70" font-size="7.1" text-anchor="middle" font-weight="normal" font-style="normal" fill="#000" stroke="#000" stroke-width="0.18" >Zeitgeber time</text>
<text x="0.00" y="0.00" font-size="7.15" text-anchor="middle" font-weight="normal" font-style="normal" fill="#000" stroke="#000" stroke-width="0.18" transform="translate(11.10,78.60) rotate(-90)">Normalized gene expression</text>
<text x="22.98" y="25.80" font-size="9.4" text-anchor="start" font-weight="normal" font-style="italic" fill="#111" stroke="#111" stroke-width="0.18" >Bmal1</text>
<text x="106.10" y="23.10" font-size="8" font-weight="bold" text-anchor="end"><tspan fill="#111">R/</tspan><tspan fill="#0d20f6">R</tspan></text>
<text x="128.88" y="124.90" font-size="6.6" text-anchor="end" font-weight="normal" font-style="normal" fill="#4d4d4d" stroke="#4d4d4d" stroke-width="0.08" >-2</text>
<text x="128.88" y="102.95" font-size="6.6" text-anchor="end" font-weight="normal" font-style="normal" fill="#4d4d4d" stroke="#4d4d4d" stroke-width="0.08" >-1</text>
<text x="128.88" y="81.00" font-size="6.6" text-anchor="end" font-weight="normal" font-style="normal" fill="#4d4d4d" stroke="#4d4d4d" stroke-width="0.08" >0</text>
<text x="128.88" y="59.05" font-size="6.6" text-anchor="end" font-weight="normal" font-style="normal" fill="#4d4d4d" stroke="#4d4d4d" stroke-width="0.08" >1</text>
<text x="128.88" y="37.10" font-size="6.6" text-anchor="end" font-weight="normal" font-style="normal" fill="#4d4d4d" stroke="#4d4d4d" stroke-width="0.08" >2</text>
<text x="134.80" y="133.90" font-size="6.6" text-anchor="middle" font-weight="normal" font-style="normal" fill="#4d4d4d" stroke="#4d4d4d" stroke-width="0.08" >0</text>
<text x="147.88" y="133.90" font-size="6.6" text-anchor="middle" font-weight="normal" font-style="normal" fill="#4d4d4d" stroke="#4d4d4d" stroke-width="0.08" >4</text>
<text x="160.96" y="133.90" font-size="6.6" text-anchor="middle" font-weight="normal" font-style="normal" fill="#4d4d4d" stroke="#4d4d4d" stroke-width="0.08" >8</text>
<text x="174.04" y="133.90" font-size="6.6" text-anchor="middle" font-weight="normal" font-style="normal" fill="#4d4d4d" stroke="#4d4d4d" stroke-width="0.08" >12</text>
<text x="187.12" y="133.90" font-size="6.6" text-anchor="middle" font-weight="normal" font-style="normal" fill="#4d4d4d" stroke="#4d4d4d" stroke-width="0.08" >16</text>
<text x="200.20" y="133.90" font-size="6.6" text-anchor="middle" font-weight="normal" font-style="normal" fill="#4d4d4d" stroke="#4d4d4d" stroke-width="0.08" >20</text>
<text x="213.28" y="133.90" font-size="6.6" text-anchor="middle" font-weight="normal" font-style="normal" fill="#4d4d4d" stroke="#4d4d4d" stroke-width="0.08" >24</text>
<text x="174.04" y="141.70" font-size="7.1" text-anchor="middle" font-weight="normal" font-style="normal" fill="#000" stroke="#000" stroke-width="0.18" >Zeitgeber time</text>
<text x="0.00" y="0.00" font-size="7.15" text-anchor="middle" font-weight="normal" font-style="normal" fill="#000" stroke="#000" stroke-width="0.18" transform="translate(119.10,78.60) rotate(-90)">Normalized gene expression</text>
<text x="130.98" y="25.80" font-size="9.4" text-anchor="start" font-weight="normal" font-style="italic" fill="#111" stroke="#111" stroke-width="0.18" >Clock</text>
<text x="214.10" y="23.10" font-size="8" font-weight="bold" text-anchor="end"><tspan fill="#111">R/</tspan><tspan fill="#0d20f6">R</tspan></text>
<text x="236.88" y="112.00" font-size="6.6" text-anchor="end" font-weight="normal" font-style="normal" fill="#4d4d4d" stroke="#4d4d4d" stroke-width="0.08" >-2</text>
<text x="236.88" y="86.80" font-size="6.6" text-anchor="end" font-weight="normal" font-style="normal" fill="#4d4d4d" stroke="#4d4d4d" stroke-width="0.08" >0</text>
<text x="236.88" y="61.60" font-size="6.6" text-anchor="end" font-weight="normal" font-style="normal" fill="#4d4d4d" stroke="#4d4d4d" stroke-width="0.08" >2</text>
<text x="236.88" y="36.40" font-size="6.6" text-anchor="end" font-weight="normal" font-style="normal" fill="#4d4d4d" stroke="#4d4d4d" stroke-width="0.08" >4</text>
<text x="242.80" y="133.90" font-size="6.6" text-anchor="middle" font-weight="normal" font-style="normal" fill="#4d4d4d" stroke="#4d4d4d" stroke-width="0.08" >0</text>
<text x="255.88" y="133.90" font-size="6.6" text-anchor="middle" font-weight="normal" font-style="normal" fill="#4d4d4d" stroke="#4d4d4d" stroke-width="0.08" >4</text>
<text x="268.96" y="133.90" font-size="6.6" text-anchor="middle" font-weight="normal" font-style="normal" fill="#4d4d4d" stroke="#4d4d4d" stroke-width="0.08" >8</text>
<text x="282.04" y="133.90" font-size="6.6" text-anchor="middle" font-weight="normal" font-style="normal" fill="#4d4d4d" stroke="#4d4d4d" stroke-width="0.08" >12</text>
<text x="295.12" y="133.90" font-size="6.6" text-anchor="middle" font-weight="normal" font-style="normal" fill="#4d4d4d" stroke="#4d4d4d" stroke-width="0.08" >16</text>
<text x="308.20" y="133.90" font-size="6.6" text-anchor="middle" font-weight="normal" font-style="normal" fill="#4d4d4d" stroke="#4d4d4d" stroke-width="0.08" >20</text>
<text x="321.28" y="133.90" font-size="6.6" text-anchor="middle" font-weight="normal" font-style="normal" fill="#4d4d4d" stroke="#4d4d4d" stroke-width="0.08" >24</text>
<text x="282.04" y="141.70" font-size="7.1" text-anchor="middle" font-weight="normal" font-style="normal" fill="#000" stroke="#000" stroke-width="0.18" >Zeitgeber time</text>
<text x="0.00" y="0.00" font-size="7.15" text-anchor="middle" font-weight="normal" font-style="normal" fill="#000" stroke="#000" stroke-width="0.18" transform="translate(227.10,78.60) rotate(-90)">Normalized gene expression</text>
<text x="238.98" y="25.80" font-size="9.4" text-anchor="start" font-weight="normal" font-style="italic" fill="#111" stroke="#111" stroke-width="0.18" >Npas2</text>
<text x="324.10" y="23.10" font-size="8" font-weight="bold" text-anchor="end"><tspan fill="#111">R/</tspan><tspan fill="#0d20f6">R</tspan></text>
<text x="344.88" y="124.30" font-size="6.6" text-anchor="end" font-weight="normal" font-style="normal" fill="#4d4d4d" stroke="#4d4d4d" stroke-width="0.08" >-2</text>
<text x="344.88" y="95.40" font-size="6.6" text-anchor="end" font-weight="normal" font-style="normal" fill="#4d4d4d" stroke="#4d4d4d" stroke-width="0.08" >0</text>
<text x="344.88" y="66.50" font-size="6.6" text-anchor="end" font-weight="normal" font-style="normal" fill="#4d4d4d" stroke="#4d4d4d" stroke-width="0.08" >2</text>
<text x="344.88" y="37.60" font-size="6.6" text-anchor="end" font-weight="normal" font-style="normal" fill="#4d4d4d" stroke="#4d4d4d" stroke-width="0.08" >4</text>
<text x="350.80" y="133.90" font-size="6.6" text-anchor="middle" font-weight="normal" font-style="normal" fill="#4d4d4d" stroke="#4d4d4d" stroke-width="0.08" >0</text>
<text x="363.88" y="133.90" font-size="6.6" text-anchor="middle" font-weight="normal" font-style="normal" fill="#4d4d4d" stroke="#4d4d4d" stroke-width="0.08" >4</text>
<text x="376.96" y="133.90" font-size="6.6" text-anchor="middle" font-weight="normal" font-style="normal" fill="#4d4d4d" stroke="#4d4d4d" stroke-width="0.08" >8</text>
<text x="390.04" y="133.90" font-size="6.6" text-anchor="middle" font-weight="normal" font-style="normal" fill="#4d4d4d" stroke="#4d4d4d" stroke-width="0.08" >12</text>
<text x="403.12" y="133.90" font-size="6.6" text-anchor="middle" font-weight="normal" font-style="normal" fill="#4d4d4d" stroke="#4d4d4d" stroke-width="0.08" >16</text>
<text x="416.20" y="133.90" font-size="6.6" text-anchor="middle" font-weight="normal" font-style="normal" fill="#4d4d4d" stroke="#4d4d4d" stroke-width="0.08" >20</text>
<text x="429.28" y="133.90" font-size="6.6" text-anchor="middle" font-weight="normal" font-style="normal" fill="#4d4d4d" stroke="#4d4d4d" stroke-width="0.08" >24</text>
<text x="390.04" y="141.70" font-size="7.1" text-anchor="middle" font-weight="normal" font-style="normal" fill="#000" stroke="#000" stroke-width="0.18" >Zeitgeber time</text>
<text x="0.00" y="0.00" font-size="7.15" text-anchor="middle" font-weight="normal" font-style="normal" fill="#000" stroke="#000" stroke-width="0.18" transform="translate(335.10,78.60) rotate(-90)">Normalized gene expression</text>
<text x="346.98" y="25.80" font-size="9.4" text-anchor="start" font-weight="normal" font-style="italic" fill="#111" stroke="#111" stroke-width="0.18" >Per1</text>
<text x="433.10" y="23.10" font-size="8" font-weight="bold" text-anchor="end"><tspan fill="#111">R/</tspan><tspan fill="#0d20f6">R</tspan></text>
<text x="452.88" y="109.60" font-size="6.6" text-anchor="end" font-weight="normal" font-style="normal" fill="#4d4d4d" stroke="#4d4d4d" stroke-width="0.08" >-2</text>
<text x="452.88" y="81.00" font-size="6.6" text-anchor="end" font-weight="normal" font-style="normal" fill="#4d4d4d" stroke="#4d4d4d" stroke-width="0.08" >0</text>
<text x="452.88" y="52.40" font-size="6.6" text-anchor="end" font-weight="normal" font-style="normal" fill="#4d4d4d" stroke="#4d4d4d" stroke-width="0.08" >2</text>
<text x="458.80" y="133.90" font-size="6.6" text-anchor="middle" font-weight="normal" font-style="normal" fill="#4d4d4d" stroke="#4d4d4d" stroke-width="0.08" >0</text>
<text x="471.88" y="133.90" font-size="6.6" text-anchor="middle" font-weight="normal" font-style="normal" fill="#4d4d4d" stroke="#4d4d4d" stroke-width="0.08" >4</text>
<text x="484.96" y="133.90" font-size="6.6" text-anchor="middle" font-weight="normal" font-style="normal" fill="#4d4d4d" stroke="#4d4d4d" stroke-width="0.08" >8</text>
<text x="498.04" y="133.90" font-size="6.6" text-anchor="middle" font-weight="normal" font-style="normal" fill="#4d4d4d" stroke="#4d4d4d" stroke-width="0.08" >12</text>
<text x="511.12" y="133.90" font-size="6.6" text-anchor="middle" font-weight="normal" font-style="normal" fill="#4d4d4d" stroke="#4d4d4d" stroke-width="0.08" >16</text>
<text x="524.20" y="133.90" font-size="6.6" text-anchor="middle" font-weight="normal" font-style="normal" fill="#4d4d4d" stroke="#4d4d4d" stroke-width="0.08" >20</text>
<text x="537.28" y="133.90" font-size="6.6" text-anchor="middle" font-weight="normal" font-style="normal" fill="#4d4d4d" stroke="#4d4d4d" stroke-width="0.08" >24</text>
<text x="498.04" y="141.70" font-size="7.1" text-anchor="middle" font-weight="normal" font-style="normal" fill="#000" stroke="#000" stroke-width="0.18" >Zeitgeber time</text>
<text x="0.00" y="0.00" font-size="7.15" text-anchor="middle" font-weight="normal" font-style="normal" fill="#000" stroke="#000" stroke-width="0.18" transform="translate(443.10,78.60) rotate(-90)">Normalized gene expression</text>
<text x="454.98" y="25.80" font-size="9.4" text-anchor="start" font-weight="normal" font-style="italic" fill="#111" stroke="#111" stroke-width="0.18" >Per2</text>
<text x="537.80" y="23.10" font-size="8" font-weight="bold" text-anchor="end"><tspan fill="#111">R/</tspan><tspan fill="#0d20f6">R</tspan></text>
<text x="20.88" y="255.00" font-size="6.6" text-anchor="end" font-weight="normal" font-style="normal" fill="#4d4d4d" stroke="#4d4d4d" stroke-width="0.08" >-2</text>
<text x="20.88" y="233.05" font-size="6.6" text-anchor="end" font-weight="normal" font-style="normal" fill="#4d4d4d" stroke="#4d4d4d" stroke-width="0.08" >-1</text>
<text x="20.88" y="211.10" font-size="6.6" text-anchor="end" font-weight="normal" font-style="normal" fill="#4d4d4d" stroke="#4d4d4d" stroke-width="0.08" >0</text>
<text x="20.88" y="189.15" font-size="6.6" text-anchor="end" font-weight="normal" font-style="normal" fill="#4d4d4d" stroke="#4d4d4d" stroke-width="0.08" >1</text>
<text x="20.88" y="167.20" font-size="6.6" text-anchor="end" font-weight="normal" font-style="normal" fill="#4d4d4d" stroke="#4d4d4d" stroke-width="0.08" >2</text>
<text x="26.80" y="263.90" font-size="6.6" text-anchor="middle" font-weight="normal" font-style="normal" fill="#4d4d4d" stroke="#4d4d4d" stroke-width="0.08" >0</text>
<text x="39.88" y="263.90" font-size="6.6" text-anchor="middle" font-weight="normal" font-style="normal" fill="#4d4d4d" stroke="#4d4d4d" stroke-width="0.08" >4</text>
<text x="52.96" y="263.90" font-size="6.6" text-anchor="middle" font-weight="normal" font-style="normal" fill="#4d4d4d" stroke="#4d4d4d" stroke-width="0.08" >8</text>
<text x="66.04" y="263.90" font-size="6.6" text-anchor="middle" font-weight="normal" font-style="normal" fill="#4d4d4d" stroke="#4d4d4d" stroke-width="0.08" >12</text>
<text x="79.12" y="263.90" font-size="6.6" text-anchor="middle" font-weight="normal" font-style="normal" fill="#4d4d4d" stroke="#4d4d4d" stroke-width="0.08" >16</text>
<text x="92.20" y="263.90" font-size="6.6" text-anchor="middle" font-weight="normal" font-style="normal" fill="#4d4d4d" stroke="#4d4d4d" stroke-width="0.08" >20</text>
<text x="105.28" y="263.90" font-size="6.6" text-anchor="middle" font-weight="normal" font-style="normal" fill="#4d4d4d" stroke="#4d4d4d" stroke-width="0.08" >24</text>
<text x="66.04" y="271.70" font-size="7.1" text-anchor="middle" font-weight="normal" font-style="normal" fill="#000" stroke="#000" stroke-width="0.18" >Zeitgeber time</text>
<text x="0.00" y="0.00" font-size="7.15" text-anchor="middle" font-weight="normal" font-style="normal" fill="#000" stroke="#000" stroke-width="0.18" transform="translate(11.10,208.60) rotate(-90)">Normalized gene expression</text>
<text x="22.98" y="155.80" font-size="9.4" text-anchor="start" font-weight="normal" font-style="italic" fill="#111" stroke="#111" stroke-width="0.18" >Cry1</text>
<text x="106.10" y="153.10" font-size="8" font-weight="bold" text-anchor="end"><tspan fill="#111">R/</tspan><tspan fill="#0d20f6">R</tspan></text>
<text x="128.88" y="255.00" font-size="6.6" text-anchor="end" font-weight="normal" font-style="normal" fill="#4d4d4d" stroke="#4d4d4d" stroke-width="0.08" >-2</text>
<text x="128.88" y="233.05" font-size="6.6" text-anchor="end" font-weight="normal" font-style="normal" fill="#4d4d4d" stroke="#4d4d4d" stroke-width="0.08" >-1</text>
<text x="128.88" y="211.10" font-size="6.6" text-anchor="end" font-weight="normal" font-style="normal" fill="#4d4d4d" stroke="#4d4d4d" stroke-width="0.08" >0</text>
<text x="128.88" y="189.15" font-size="6.6" text-anchor="end" font-weight="normal" font-style="normal" fill="#4d4d4d" stroke="#4d4d4d" stroke-width="0.08" >1</text>
<text x="128.88" y="167.20" font-size="6.6" text-anchor="end" font-weight="normal" font-style="normal" fill="#4d4d4d" stroke="#4d4d4d" stroke-width="0.08" >2</text>
<text x="134.80" y="263.90" font-size="6.6" text-anchor="middle" font-weight="normal" font-style="normal" fill="#4d4d4d" stroke="#4d4d4d" stroke-width="0.08" >0</text>
<text x="147.88" y="263.90" font-size="6.6" text-anchor="middle" font-weight="normal" font-style="normal" fill="#4d4d4d" stroke="#4d4d4d" stroke-width="0.08" >4</text>
<text x="160.96" y="263.90" font-size="6.6" text-anchor="middle" font-weight="normal" font-style="normal" fill="#4d4d4d" stroke="#4d4d4d" stroke-width="0.08" >8</text>
<text x="174.04" y="263.90" font-size="6.6" text-anchor="middle" font-weight="normal" font-style="normal" fill="#4d4d4d" stroke="#4d4d4d" stroke-width="0.08" >12</text>
<text x="187.12" y="263.90" font-size="6.6" text-anchor="middle" font-weight="normal" font-style="normal" fill="#4d4d4d" stroke="#4d4d4d" stroke-width="0.08" >16</text>
<text x="200.20" y="263.90" font-size="6.6" text-anchor="middle" font-weight="normal" font-style="normal" fill="#4d4d4d" stroke="#4d4d4d" stroke-width="0.08" >20</text>
<text x="213.28" y="263.90" font-size="6.6" text-anchor="middle" font-weight="normal" font-style="normal" fill="#4d4d4d" stroke="#4d4d4d" stroke-width="0.08" >24</text>
<text x="174.04" y="271.70" font-size="7.1" text-anchor="middle" font-weight="normal" font-style="normal" fill="#000" stroke="#000" stroke-width="0.18" >Zeitgeber time</text>
<text x="0.00" y="0.00" font-size="7.15" text-anchor="middle" font-weight="normal" font-style="normal" fill="#000" stroke="#000" stroke-width="0.18" transform="translate(119.10,208.60) rotate(-90)">Normalized gene expression</text>
<text x="130.98" y="155.80" font-size="9.4" text-anchor="start" font-weight="normal" font-style="italic" fill="#111" stroke="#111" stroke-width="0.18" >Cry2</text>
<text x="214.10" y="153.10" font-size="8" font-weight="bold" text-anchor="end"><tspan fill="#111">R/</tspan><tspan fill="#0d20f6">R</tspan></text>
<text x="242.74" y="255.00" font-size="6.6" text-anchor="end" font-weight="normal" font-style="normal" fill="#4d4d4d" stroke="#4d4d4d" stroke-width="0.08" >-5.0</text>
<text x="242.74" y="233.05" font-size="6.6" text-anchor="end" font-weight="normal" font-style="normal" fill="#4d4d4d" stroke="#4d4d4d" stroke-width="0.08" >-2.5</text>
<text x="242.74" y="211.10" font-size="6.6" text-anchor="end" font-weight="normal" font-style="normal" fill="#4d4d4d" stroke="#4d4d4d" stroke-width="0.08" >0.0</text>
<text x="242.74" y="189.15" font-size="6.6" text-anchor="end" font-weight="normal" font-style="normal" fill="#4d4d4d" stroke="#4d4d4d" stroke-width="0.08" >2.5</text>
<text x="242.74" y="167.20" font-size="6.6" text-anchor="end" font-weight="normal" font-style="normal" fill="#4d4d4d" stroke="#4d4d4d" stroke-width="0.08" >5.0</text>
<text x="248.40" y="263.90" font-size="6.6" text-anchor="middle" font-weight="normal" font-style="normal" fill="#4d4d4d" stroke="#4d4d4d" stroke-width="0.08" >0</text>
<text x="260.60" y="263.90" font-size="6.6" text-anchor="middle" font-weight="normal" font-style="normal" fill="#4d4d4d" stroke="#4d4d4d" stroke-width="0.08" >4</text>
<text x="272.80" y="263.90" font-size="6.6" text-anchor="middle" font-weight="normal" font-style="normal" fill="#4d4d4d" stroke="#4d4d4d" stroke-width="0.08" >8</text>
<text x="285.00" y="263.90" font-size="6.6" text-anchor="middle" font-weight="normal" font-style="normal" fill="#4d4d4d" stroke="#4d4d4d" stroke-width="0.08" >12</text>
<text x="297.20" y="263.90" font-size="6.6" text-anchor="middle" font-weight="normal" font-style="normal" fill="#4d4d4d" stroke="#4d4d4d" stroke-width="0.08" >16</text>
<text x="309.40" y="263.90" font-size="6.6" text-anchor="middle" font-weight="normal" font-style="normal" fill="#4d4d4d" stroke="#4d4d4d" stroke-width="0.08" >20</text>
<text x="321.60" y="263.90" font-size="6.6" text-anchor="middle" font-weight="normal" font-style="normal" fill="#4d4d4d" stroke="#4d4d4d" stroke-width="0.08" >24</text>
<text x="285.00" y="271.70" font-size="7.1" text-anchor="middle" font-weight="normal" font-style="normal" fill="#000" stroke="#000" stroke-width="0.18" >Zeitgeber time</text>
<text x="0.00" y="0.00" font-size="7.15" text-anchor="middle" font-weight="normal" font-style="normal" fill="#000" stroke="#000" stroke-width="0.18" transform="translate(227.10,208.60) rotate(-90)">Normalized gene expression</text>
<text x="244.84" y="155.80" font-size="9.4" text-anchor="start" font-weight="normal" font-style="italic" fill="#111" stroke="#111" stroke-width="0.18" >Nr1d1</text>
<text x="324.10" y="153.10" font-size="8" font-weight="bold" text-anchor="end"><tspan fill="#111">R/</tspan><tspan fill="#0d20f6">R</tspan></text>
<text x="344.88" y="254.90" font-size="6.6" text-anchor="end" font-weight="normal" font-style="normal" fill="#4d4d4d" stroke="#4d4d4d" stroke-width="0.08" >-4</text>
<text x="344.88" y="233.00" font-size="6.6" text-anchor="end" font-weight="normal" font-style="normal" fill="#4d4d4d" stroke="#4d4d4d" stroke-width="0.08" >-2</text>
<text x="344.88" y="211.10" font-size="6.6" text-anchor="end" font-weight="normal" font-style="normal" fill="#4d4d4d" stroke="#4d4d4d" stroke-width="0.08" >0</text>
<text x="344.88" y="189.20" font-size="6.6" text-anchor="end" font-weight="normal" font-style="normal" fill="#4d4d4d" stroke="#4d4d4d" stroke-width="0.08" >2</text>
<text x="344.88" y="167.30" font-size="6.6" text-anchor="end" font-weight="normal" font-style="normal" fill="#4d4d4d" stroke="#4d4d4d" stroke-width="0.08" >4</text>
<text x="350.80" y="263.90" font-size="6.6" text-anchor="middle" font-weight="normal" font-style="normal" fill="#4d4d4d" stroke="#4d4d4d" stroke-width="0.08" >0</text>
<text x="363.88" y="263.90" font-size="6.6" text-anchor="middle" font-weight="normal" font-style="normal" fill="#4d4d4d" stroke="#4d4d4d" stroke-width="0.08" >4</text>
<text x="376.96" y="263.90" font-size="6.6" text-anchor="middle" font-weight="normal" font-style="normal" fill="#4d4d4d" stroke="#4d4d4d" stroke-width="0.08" >8</text>
<text x="390.04" y="263.90" font-size="6.6" text-anchor="middle" font-weight="normal" font-style="normal" fill="#4d4d4d" stroke="#4d4d4d" stroke-width="0.08" >12</text>
<text x="403.12" y="263.90" font-size="6.6" text-anchor="middle" font-weight="normal" font-style="normal" fill="#4d4d4d" stroke="#4d4d4d" stroke-width="0.08" >16</text>
<text x="416.20" y="263.90" font-size="6.6" text-anchor="middle" font-weight="normal" font-style="normal" fill="#4d4d4d" stroke="#4d4d4d" stroke-width="0.08" >20</text>
<text x="429.28" y="263.90" font-size="6.6" text-anchor="middle" font-weight="normal" font-style="normal" fill="#4d4d4d" stroke="#4d4d4d" stroke-width="0.08" >24</text>
<text x="390.04" y="271.70" font-size="7.1" text-anchor="middle" font-weight="normal" font-style="normal" fill="#000" stroke="#000" stroke-width="0.18" >Zeitgeber time</text>
<text x="0.00" y="0.00" font-size="7.15" text-anchor="middle" font-weight="normal" font-style="normal" fill="#000" stroke="#000" stroke-width="0.18" transform="translate(335.10,208.60) rotate(-90)">Normalized gene expression</text>
<text x="346.98" y="155.80" font-size="9.4" text-anchor="start" font-weight="normal" font-style="italic" fill="#111" stroke="#111" stroke-width="0.18" >Nr1d2</text>
<text x="433.10" y="153.10" font-size="8" font-weight="bold" text-anchor="end"><tspan fill="#111">R/</tspan><tspan fill="#0d20f6">R</tspan></text>
<text x="452.88" y="255.02" font-size="6.6" text-anchor="end" font-weight="normal" font-style="normal" fill="#4d4d4d" stroke="#4d4d4d" stroke-width="0.08" >-6</text>
<text x="452.88" y="233.06" font-size="6.6" text-anchor="end" font-weight="normal" font-style="normal" fill="#4d4d4d" stroke="#4d4d4d" stroke-width="0.08" >-3</text>
<text x="452.88" y="211.10" font-size="6.6" text-anchor="end" font-weight="normal" font-style="normal" fill="#4d4d4d" stroke="#4d4d4d" stroke-width="0.08" >0</text>
<text x="452.88" y="189.14" font-size="6.6" text-anchor="end" font-weight="normal" font-style="normal" fill="#4d4d4d" stroke="#4d4d4d" stroke-width="0.08" >3</text>
<text x="452.88" y="167.18" font-size="6.6" text-anchor="end" font-weight="normal" font-style="normal" fill="#4d4d4d" stroke="#4d4d4d" stroke-width="0.08" >6</text>
<text x="458.80" y="263.90" font-size="6.6" text-anchor="middle" font-weight="normal" font-style="normal" fill="#4d4d4d" stroke="#4d4d4d" stroke-width="0.08" >0</text>
<text x="471.88" y="263.90" font-size="6.6" text-anchor="middle" font-weight="normal" font-style="normal" fill="#4d4d4d" stroke="#4d4d4d" stroke-width="0.08" >4</text>
<text x="484.96" y="263.90" font-size="6.6" text-anchor="middle" font-weight="normal" font-style="normal" fill="#4d4d4d" stroke="#4d4d4d" stroke-width="0.08" >8</text>
<text x="498.04" y="263.90" font-size="6.6" text-anchor="middle" font-weight="normal" font-style="normal" fill="#4d4d4d" stroke="#4d4d4d" stroke-width="0.08" >12</text>
<text x="511.12" y="263.90" font-size="6.6" text-anchor="middle" font-weight="normal" font-style="normal" fill="#4d4d4d" stroke="#4d4d4d" stroke-width="0.08" >16</text>
<text x="524.20" y="263.90" font-size="6.6" text-anchor="middle" font-weight="normal" font-style="normal" fill="#4d4d4d" stroke="#4d4d4d" stroke-width="0.08" >20</text>
<text x="537.28" y="263.90" font-size="6.6" text-anchor="middle" font-weight="normal" font-style="normal" fill="#4d4d4d" stroke="#4d4d4d" stroke-width="0.08" >24</text>
<text x="498.04" y="271.70" font-size="7.1" text-anchor="middle" font-weight="normal" font-style="normal" fill="#000" stroke="#000" stroke-width="0.18" >Zeitgeber time</text>
<text x="0.00" y="0.00" font-size="7.15" text-anchor="middle" font-weight="normal" font-style="normal" fill="#000" stroke="#000" stroke-width="0.18" transform="translate(443.10,208.60) rotate(-90)">Normalized gene expression</text>
<text x="454.98" y="155.80" font-size="9.4" text-anchor="start" font-weight="normal" font-style="italic" fill="#111" stroke="#111" stroke-width="0.18" >Dbp</text>
<text x="537.80" y="153.10" font-size="8" font-weight="bold" text-anchor="end"><tspan fill="#111">R/</tspan><tspan fill="#0d20f6">R</tspan></text>
<polyline points="33.34,60.56 34.16,62.08 34.98,63.67 35.79,65.33 36.61,67.05 37.43,68.82 38.25,70.63 39.06,72.47 39.88,74.35 40.70,76.24 41.52,78.14 42.33,80.05 43.15,81.95 43.97,83.84 44.78,85.71 45.60,87.55 46.42,89.36 47.24,91.11 48.05,92.82 48.87,94.46 49.69,96.04 50.51,97.55 51.33,98.98 52.14,100.32 52.96,101.56 53.78,102.72 54.59,103.77 55.41,104.71 56.23,105.54 57.05,106.26 57.87,106.86 58.68,107.34 59.50,107.70 60.32,107.94 61.14,108.05 61.95,108.04 62.77,107.90 63.59,107.64 64.41,107.26 65.22,106.75 66.04,106.12 66.86,105.38 67.67,104.53 68.49,103.56 69.31,102.49 70.13,101.32 70.95,100.05 71.76,98.70 72.58,97.25 73.40,95.73 74.22,94.14 75.03,92.48 75.85,90.77 76.67,89.00 77.48,87.19 78.30,85.34 79.12,83.47 79.94,81.58 80.75,79.67 81.57,77.76 82.39,75.86 83.21,73.97 84.03,72.10 84.84,70.26 85.66,68.46 86.48,66.70 87.30,65.00 88.11,63.35 88.93,61.77 89.75,60.27 90.56,58.84 91.38,57.50 92.20,56.25 93.02,55.10 93.83,54.05 94.65,53.11 95.47,52.27 96.29,51.56 97.11,50.95 97.92,50.47 98.74,50.11" fill="none" stroke="#0d20f6" stroke-width="1.15" stroke-linejoin="round"/>
<polyline points="33.34,61.02 34.16,62.59 34.98,64.22 35.79,65.92 36.61,67.66 37.43,69.45 38.25,71.28 39.06,73.13 39.88,75.01 40.70,76.89 41.52,78.79 42.33,80.68 43.15,82.56 43.97,84.42 44.78,86.25 45.60,88.05 46.42,89.80 47.24,91.50 48.05,93.15 48.87,94.73 49.69,96.24 50.51,97.67 51.33,99.02 52.14,100.28 52.96,101.44 53.78,102.50 54.59,103.46 55.41,104.31 56.23,105.04 57.05,105.66 57.87,106.17 58.68,106.55 59.50,106.81 60.32,106.94 61.14,106.96 61.95,106.84 62.77,106.61 63.59,106.25 64.41,105.77 65.22,105.18 66.04,104.46 66.86,103.64 67.67,102.70 68.49,101.66 69.31,100.52 70.13,99.28 70.95,97.95 71.76,96.53 72.58,95.04 73.40,93.47 74.22,91.84 75.03,90.14 75.85,88.40 76.67,86.61 77.48,84.79 78.30,82.93 79.12,81.06 79.94,79.17 80.75,77.27 81.57,75.38 82.39,73.50 83.21,71.65 84.03,69.81 84.84,68.02 85.66,66.26 86.48,64.56 87.30,62.91 88.11,61.33 88.93,59.82 89.75,58.39 90.56,57.04 91.38,55.78 92.20,54.62 93.02,53.56 93.83,52.60 94.65,51.75 95.47,51.02 96.29,50.40 97.11,49.90 97.92,49.51 98.74,49.25" fill="none" stroke="#111111" stroke-width="1.15" stroke-linejoin="round"/>
<circle cx="33.34" cy="50.96" r="1.05" fill="#111111"/>
<circle cx="46.42" cy="84.39" r="1.05" fill="#111111"/>
<circle cx="46.42" cy="92.94" r="1.05" fill="#111111"/>
<circle cx="46.42" cy="97.32" r="1.05" fill="#111111"/>
<circle cx="46.42" cy="99.62" r="1.05" fill="#111111"/>
<circle cx="59.50" cy="108.83" r="1.05" fill="#111111"/>
<circle cx="59.50" cy="118.91" r="1.05" fill="#111111"/>
<circle cx="72.58" cy="78.80" r="1.05" fill="#111111"/>
<circle cx="72.58" cy="88.11" r="1.05" fill="#111111"/>
<circle cx="72.58" cy="89.98" r="1.05" fill="#111111"/>
<circle cx="85.66" cy="57.97" r="1.05" fill="#111111"/>
<circle cx="85.66" cy="61.48" r="1.05" fill="#111111"/>
<circle cx="85.66" cy="63.02" r="1.05" fill="#111111"/>
<circle cx="98.74" cy="52.71" r="1.05" fill="#111111"/>
<circle cx="98.74" cy="55.01" r="1.05" fill="#111111"/>
<circle cx="98.74" cy="57.54" r="1.05" fill="#111111"/>
<circle cx="98.74" cy="59.84" r="1.05" fill="#111111"/>
<circle cx="33.34" cy="55.45" r="1.05" fill="#0d20f6"/>
<circle cx="33.34" cy="56.99" r="1.05" fill="#0d20f6"/>
<circle cx="33.34" cy="58.52" r="1.05" fill="#0d20f6"/>
<circle cx="33.34" cy="59.95" r="1.05" fill="#0d20f6"/>
<circle cx="33.34" cy="61.48" r="1.05" fill="#0d20f6"/>
<circle cx="46.42" cy="88.00" r="1.05" fill="#0d20f6"/>
<circle cx="46.42" cy="92.94" r="1.05" fill="#0d20f6"/>
<circle cx="46.42" cy="94.69" r="1.05" fill="#0d20f6"/>
<circle cx="59.50" cy="105.32" r="1.05" fill="#0d20f6"/>
<circle cx="59.50" cy="106.53" r="1.05" fill="#0d20f6"/>
<circle cx="59.50" cy="107.84" r="1.05" fill="#0d20f6"/>
<circle cx="59.50" cy="113.21" r="1.05" fill="#0d20f6"/>
<circle cx="72.58" cy="85.05" r="1.05" fill="#0d20f6"/>
<circle cx="72.58" cy="87.02" r="1.05" fill="#0d20f6"/>
<circle cx="72.58" cy="89.43" r="1.05" fill="#0d20f6"/>
<circle cx="72.58" cy="103.13" r="1.05" fill="#0d20f6"/>
<circle cx="85.66" cy="68.28" r="1.05" fill="#0d20f6"/>
<circle cx="85.66" cy="65.10" r="1.05" fill="#0d20f6"/>
<circle cx="98.74" cy="51.84" r="1.05" fill="#0d20f6"/>
<circle cx="98.74" cy="53.48" r="1.05" fill="#0d20f6"/>
<polyline points="141.34,68.14 142.16,69.09 142.98,70.09 143.79,71.15 144.61,72.26 145.43,73.40 146.25,74.59 147.06,75.81 147.88,77.05 148.70,78.32 149.52,79.60 150.33,80.90 151.15,82.20 151.97,83.50 152.79,84.80 153.60,86.08 154.42,87.35 155.24,88.59 156.06,89.81 156.87,91.00 157.69,92.14 158.51,93.25 159.33,94.31 160.14,95.31 160.96,96.26 161.78,97.15 162.60,97.98 163.41,98.73 164.23,99.42 165.05,100.04 165.87,100.57 166.68,101.03 167.50,101.41 168.32,101.70 169.14,101.92 169.95,102.04 170.77,102.09 171.59,102.04 172.41,101.92 173.22,101.70 174.04,101.41 174.86,101.03 175.68,100.57 176.49,100.04 177.31,99.42 178.13,98.73 178.95,97.98 179.76,97.15 180.58,96.26 181.40,95.31 182.22,94.31 183.03,93.25 183.85,92.14 184.67,91.00 185.49,89.81 186.30,88.59 187.12,87.35 187.94,86.08 188.75,84.80 189.57,83.50 190.39,82.20 191.21,80.90 192.03,79.60 192.84,78.32 193.66,77.05 194.48,75.81 195.30,74.59 196.11,73.40 196.93,72.26 197.75,71.15 198.56,70.09 199.38,69.09 200.20,68.14 201.02,67.25 201.84,66.42 202.65,65.66 203.47,64.98 204.29,64.36 205.11,63.83 205.92,63.37 206.74,62.99" fill="none" stroke="#0d20f6" stroke-width="1.15" stroke-linejoin="round"/>
<polyline points="141.34,65.51 142.16,66.54 142.98,67.62 143.79,68.74 144.61,69.91 145.43,71.10 146.25,72.33 147.06,73.58 147.88,74.85 148.70,76.13 149.52,77.42 150.33,78.72 151.15,80.01 151.97,81.29 152.79,82.55 153.60,83.80 154.42,85.02 155.24,86.21 156.06,87.37 156.87,88.48 157.69,89.55 158.51,90.57 159.33,91.54 160.14,92.45 160.96,93.29 161.78,94.07 162.60,94.79 163.41,95.42 164.23,95.99 165.05,96.48 165.87,96.88 166.68,97.21 167.50,97.45 168.32,97.61 169.14,97.69 169.95,97.68 170.77,97.59 171.59,97.41 172.41,97.15 173.22,96.81 174.04,96.38 174.86,95.88 175.68,95.30 176.49,94.65 177.31,93.92 178.13,93.13 178.95,92.27 179.76,91.35 180.58,90.37 181.40,89.34 182.22,88.26 183.03,87.14 183.85,85.98 184.67,84.78 185.49,83.55 186.30,82.30 187.12,81.03 187.94,79.75 188.75,78.46 189.57,77.17 190.39,75.88 191.21,74.60 192.03,73.33 192.84,72.08 193.66,70.86 194.48,69.67 195.30,68.52 196.11,67.40 196.93,66.33 197.75,65.31 198.56,64.34 199.38,63.43 200.20,62.59 201.02,61.81 201.84,61.10 202.65,60.46 203.47,59.89 204.29,59.41 205.11,59.00 205.92,58.67 206.74,58.43" fill="none" stroke="#111111" stroke-width="1.15" stroke-linejoin="round"/>
<circle cx="141.34" cy="56.65" r="1.05" fill="#111111"/>
<circle cx="141.34" cy="59.28" r="1.05" fill="#111111"/>
<circle cx="141.34" cy="72.02" r="1.05" fill="#111111"/>
<circle cx="154.42" cy="86.50" r="1.05" fill="#111111"/>
<circle cx="154.42" cy="88.92" r="1.05" fill="#111111"/>
<circle cx="167.50" cy="88.04" r="1.05" fill="#111111"/>
<circle cx="167.50" cy="99.67" r="1.05" fill="#111111"/>
<circle cx="180.58" cy="87.60" r="1.05" fill="#111111"/>
<circle cx="180.58" cy="91.11" r="1.05" fill="#111111"/>
<circle cx="193.66" cy="65.43" r="1.05" fill="#111111"/>
<circle cx="193.66" cy="66.53" r="1.05" fill="#111111"/>
<circle cx="193.66" cy="78.60" r="1.05" fill="#111111"/>
<circle cx="206.74" cy="58.84" r="1.05" fill="#111111"/>
<circle cx="206.74" cy="65.43" r="1.05" fill="#111111"/>
<circle cx="206.74" cy="67.62" r="1.05" fill="#111111"/>
<circle cx="141.34" cy="61.48" r="1.05" fill="#0d20f6"/>
<circle cx="141.34" cy="62.80" r="1.05" fill="#0d20f6"/>
<circle cx="141.34" cy="67.62" r="1.05" fill="#0d20f6"/>
<circle cx="141.34" cy="68.72" r="1.05" fill="#0d20f6"/>
<circle cx="141.34" cy="74.21" r="1.05" fill="#0d20f6"/>
<circle cx="154.42" cy="80.79" r="1.05" fill="#0d20f6"/>
<circle cx="154.42" cy="82.33" r="1.05" fill="#0d20f6"/>
<circle cx="154.42" cy="85.18" r="1.05" fill="#0d20f6"/>
<circle cx="167.50" cy="103.40" r="1.05" fill="#0d20f6"/>
<circle cx="167.50" cy="107.13" r="1.05" fill="#0d20f6"/>
<circle cx="167.50" cy="108.45" r="1.05" fill="#0d20f6"/>
<circle cx="167.50" cy="113.72" r="1.05" fill="#0d20f6"/>
<circle cx="180.58" cy="75.75" r="1.05" fill="#0d20f6"/>
<circle cx="180.58" cy="95.50" r="1.05" fill="#0d20f6"/>
<circle cx="180.58" cy="99.01" r="1.05" fill="#0d20f6"/>
<circle cx="193.66" cy="70.92" r="1.05" fill="#0d20f6"/>
<circle cx="193.66" cy="76.41" r="1.05" fill="#0d20f6"/>
<circle cx="193.66" cy="87.16" r="1.05" fill="#0d20f6"/>
<circle cx="206.74" cy="63.23" r="1.05" fill="#0d20f6"/>
<circle cx="206.74" cy="69.82" r="1.05" fill="#0d20f6"/>
<polyline points="249.34,65.04 250.16,66.08 250.98,67.21 251.79,68.41 252.61,69.69 253.43,71.03 254.25,72.43 255.06,73.88 255.88,75.39 256.70,76.93 257.51,78.51 258.33,80.11 259.15,81.74 259.97,83.38 260.79,85.03 261.60,86.68 262.42,88.32 263.24,89.95 264.06,91.55 264.87,93.13 265.69,94.67 266.51,96.18 267.32,97.63 268.14,99.03 268.96,100.37 269.78,101.65 270.60,102.85 271.41,103.98 272.23,105.02 273.05,105.98 273.87,106.85 274.68,107.63 275.50,108.31 276.32,108.89 277.13,109.37 277.95,109.75 278.77,110.01 279.59,110.18 280.41,110.23 281.22,110.18 282.04,110.01 282.86,109.75 283.68,109.37 284.49,108.89 285.31,108.31 286.13,107.63 286.94,106.85 287.76,105.98 288.58,105.02 289.40,103.98 290.22,102.85 291.03,101.65 291.85,100.37 292.67,99.03 293.49,97.63 294.30,96.18 295.12,94.67 295.94,93.13 296.75,91.55 297.57,89.95 298.39,88.32 299.21,86.68 300.03,85.03 300.84,83.38 301.66,81.74 302.48,80.11 303.30,78.51 304.11,76.93 304.93,75.39 305.75,73.88 306.56,72.43 307.38,71.03 308.20,69.69 309.02,68.41 309.84,67.21 310.65,66.08 311.47,65.04 312.29,64.08 313.11,63.21 313.92,62.43 314.74,61.75" fill="none" stroke="#0d20f6" stroke-width="1.15" stroke-linejoin="round"/>
<polyline points="249.34,66.64 250.16,67.67 250.98,68.76 251.79,69.92 252.61,71.14 253.43,72.42 254.25,73.75 255.06,75.12 255.88,76.54 256.70,77.98 257.51,79.45 258.33,80.95 259.15,82.46 259.97,83.97 260.79,85.49 261.60,87.00 262.42,88.50 263.24,89.98 264.06,91.44 264.87,92.87 265.69,94.25 266.51,95.60 267.32,96.90 268.14,98.15 268.96,99.33 269.78,100.45 270.60,101.50 271.41,102.48 272.23,103.38 273.05,104.20 273.87,104.93 274.68,105.58 275.50,106.13 276.32,106.59 277.13,106.95 277.95,107.22 278.77,107.39 279.59,107.46 280.41,107.43 281.22,107.30 282.04,107.07 282.86,106.74 283.68,106.32 284.49,105.81 285.31,105.20 286.13,104.50 286.94,103.72 287.76,102.85 288.58,101.90 289.40,100.88 290.22,99.79 291.03,98.63 291.85,97.41 292.67,96.13 293.49,94.80 294.30,93.43 295.12,92.01 295.94,90.57 296.75,89.09 297.57,87.60 298.39,86.09 299.21,84.58 300.03,83.06 300.84,81.55 301.66,80.05 302.48,78.57 303.30,77.11 304.11,75.68 304.93,74.29 305.75,72.95 306.56,71.65 307.38,70.40 308.20,69.22 309.02,68.10 309.84,67.04 310.65,66.07 311.47,65.17 312.29,64.35 313.11,63.62 313.92,62.97 314.74,62.42" fill="none" stroke="#111111" stroke-width="1.15" stroke-linejoin="round"/>
<circle cx="249.34" cy="46.22" r="1.05" fill="#111111"/>
<circle cx="249.34" cy="53.66" r="1.05" fill="#111111"/>
<circle cx="249.34" cy="64.24" r="1.05" fill="#111111"/>
<circle cx="262.42" cy="98.26" r="1.05" fill="#111111"/>
<circle cx="262.42" cy="100.15" r="1.05" fill="#111111"/>
<circle cx="262.42" cy="104.94" r="1.05" fill="#111111"/>
<circle cx="275.50" cy="98.89" r="1.05" fill="#111111"/>
<circle cx="275.50" cy="103.43" r="1.05" fill="#111111"/>
<circle cx="275.50" cy="104.56" r="1.05" fill="#111111"/>
<circle cx="288.58" cy="99.52" r="1.05" fill="#111111"/>
<circle cx="301.66" cy="84.40" r="1.05" fill="#111111"/>
<circle cx="301.66" cy="86.92" r="1.05" fill="#111111"/>
<circle cx="301.66" cy="89.44" r="1.05" fill="#111111"/>
<circle cx="301.66" cy="91.96" r="1.05" fill="#111111"/>
<circle cx="314.74" cy="61.22" r="1.05" fill="#111111"/>
<circle cx="314.74" cy="64.24" r="1.05" fill="#111111"/>
<circle cx="314.74" cy="69.03" r="1.05" fill="#111111"/>
<circle cx="249.34" cy="57.94" r="1.05" fill="#0d20f6"/>
<circle cx="249.34" cy="59.20" r="1.05" fill="#0d20f6"/>
<circle cx="249.34" cy="60.46" r="1.05" fill="#0d20f6"/>
<circle cx="249.34" cy="73.44" r="1.05" fill="#0d20f6"/>
<circle cx="262.42" cy="93.85" r="1.05" fill="#0d20f6"/>
<circle cx="262.42" cy="95.49" r="1.05" fill="#0d20f6"/>
<circle cx="262.42" cy="100.78" r="1.05" fill="#0d20f6"/>
<circle cx="275.50" cy="98.26" r="1.05" fill="#0d20f6"/>
<circle cx="275.50" cy="106.95" r="1.05" fill="#0d20f6"/>
<circle cx="275.50" cy="113.38" r="1.05" fill="#0d20f6"/>
<circle cx="288.58" cy="93.85" r="1.05" fill="#0d20f6"/>
<circle cx="288.58" cy="95.11" r="1.05" fill="#0d20f6"/>
<circle cx="288.58" cy="105.19" r="1.05" fill="#0d20f6"/>
<circle cx="288.58" cy="108.34" r="1.05" fill="#0d20f6"/>
<circle cx="301.66" cy="94.48" r="1.05" fill="#0d20f6"/>
<circle cx="301.66" cy="100.78" r="1.05" fill="#0d20f6"/>
<circle cx="314.74" cy="50.38" r="1.05" fill="#0d20f6"/>
<circle cx="314.74" cy="57.94" r="1.05" fill="#0d20f6"/>
<circle cx="314.74" cy="59.83" r="1.05" fill="#0d20f6"/>
<polyline points="357.34,112.09 358.16,110.81 358.98,109.45 359.79,108.00 360.61,106.48 361.43,104.89 362.25,103.23 363.06,101.52 363.88,99.76 364.70,97.95 365.51,96.12 366.33,94.26 367.15,92.38 367.97,90.49 368.79,88.60 369.60,86.71 370.42,84.84 371.24,83.00 372.06,81.18 372.87,79.40 373.69,77.67 374.51,75.99 375.32,74.37 376.14,72.82 376.96,71.34 377.78,69.94 378.60,68.63 379.41,67.41 380.23,66.29 381.05,65.27 381.87,64.36 382.68,63.56 383.50,62.87 384.32,62.30 385.13,61.84 385.95,61.51 386.77,61.30 387.59,61.21 388.41,61.25 389.22,61.41 390.04,61.69 390.86,62.10 391.68,62.62 392.49,63.27 393.31,64.03 394.13,64.89 394.94,65.87 395.76,66.95 396.58,68.13 397.40,69.41 398.22,70.77 399.03,72.22 399.85,73.74 400.67,75.33 401.49,76.99 402.30,78.70 403.12,80.46 403.94,82.27 404.75,84.10 405.57,85.96 406.39,87.84 407.21,89.73 408.03,91.62 408.84,93.51 409.66,95.38 410.48,97.22 411.30,99.04 412.11,100.82 412.93,102.55 413.75,104.23 414.56,105.85 415.38,107.40 416.20,108.88 417.02,110.28 417.84,111.59 418.65,112.81 419.47,113.93 420.29,114.95 421.11,115.86 421.92,116.66 422.74,117.35" fill="none" stroke="#0d20f6" stroke-width="1.15" stroke-linejoin="round"/>
<polyline points="357.34,109.44 358.16,108.52 358.98,107.55 359.79,106.52 360.61,105.43 361.43,104.29 362.25,103.10 363.06,101.88 363.88,100.62 364.70,99.33 365.51,98.02 366.33,96.69 367.15,95.34 367.97,93.99 368.79,92.64 369.60,91.29 370.42,89.96 371.24,88.64 372.06,87.34 372.87,86.07 373.69,84.83 374.51,83.63 375.32,82.47 376.14,81.36 376.96,80.30 377.78,79.30 378.60,78.37 379.41,77.50 380.23,76.69 381.05,75.96 381.87,75.31 382.68,74.74 383.50,74.24 384.32,73.83 385.13,73.51 385.95,73.27 386.77,73.12 387.59,73.06 388.41,73.09 389.22,73.20 390.04,73.41 390.86,73.69 391.68,74.07 392.49,74.53 393.31,75.07 394.13,75.69 394.94,76.39 395.76,77.17 396.58,78.01 397.40,78.92 398.22,79.90 399.03,80.93 399.85,82.02 400.67,83.16 401.49,84.34 402.30,85.57 403.12,86.82 403.94,88.11 404.75,89.43 405.57,90.76 406.39,92.10 407.21,93.45 408.03,94.80 408.84,96.15 409.66,97.49 410.48,98.81 411.30,100.11 412.11,101.38 412.93,102.62 413.75,103.82 414.56,104.98 415.38,106.09 416.20,107.14 417.02,108.14 417.84,109.08 418.65,109.95 419.47,110.75 420.29,111.48 421.11,112.13 421.92,112.71 422.74,113.20" fill="none" stroke="#111111" stroke-width="1.15" stroke-linejoin="round"/>
<circle cx="357.34" cy="107.88" r="1.05" fill="#111111"/>
<circle cx="357.34" cy="113.23" r="1.05" fill="#111111"/>
<circle cx="370.42" cy="91.12" r="1.05" fill="#111111"/>
<circle cx="370.42" cy="107.88" r="1.05" fill="#111111"/>
<circle cx="383.50" cy="58.03" r="1.05" fill="#111111"/>
<circle cx="383.50" cy="60.63" r="1.05" fill="#111111"/>
<circle cx="383.50" cy="65.98" r="1.05" fill="#111111"/>
<circle cx="396.58" cy="80.43" r="1.05" fill="#111111"/>
<circle cx="396.58" cy="84.04" r="1.05" fill="#111111"/>
<circle cx="396.58" cy="97.33" r="1.05" fill="#111111"/>
<circle cx="409.66" cy="86.64" r="1.05" fill="#111111"/>
<circle cx="409.66" cy="103.11" r="1.05" fill="#111111"/>
<circle cx="409.66" cy="106.00" r="1.05" fill="#111111"/>
<circle cx="409.66" cy="119.73" r="1.05" fill="#111111"/>
<circle cx="422.74" cy="85.78" r="1.05" fill="#111111"/>
<circle cx="422.74" cy="93.43" r="1.05" fill="#111111"/>
<circle cx="422.74" cy="103.84" r="1.05" fill="#111111"/>
<circle cx="422.74" cy="112.36" r="1.05" fill="#111111"/>
<circle cx="357.34" cy="104.85" r="1.05" fill="#0d20f6"/>
<circle cx="357.34" cy="115.11" r="1.05" fill="#0d20f6"/>
<circle cx="357.34" cy="117.56" r="1.05" fill="#0d20f6"/>
<circle cx="357.34" cy="120.02" r="1.05" fill="#0d20f6"/>
<circle cx="370.42" cy="78.84" r="1.05" fill="#0d20f6"/>
<circle cx="370.42" cy="91.99" r="1.05" fill="#0d20f6"/>
<circle cx="370.42" cy="94.73" r="1.05" fill="#0d20f6"/>
<circle cx="370.42" cy="96.47" r="1.05" fill="#0d20f6"/>
<circle cx="383.50" cy="47.05" r="1.05" fill="#0d20f6"/>
<circle cx="383.50" cy="54.56" r="1.05" fill="#0d20f6"/>
<circle cx="383.50" cy="55.43" r="1.05" fill="#0d20f6"/>
<circle cx="396.58" cy="65.98" r="1.05" fill="#0d20f6"/>
<circle cx="396.58" cy="71.33" r="1.05" fill="#0d20f6"/>
<circle cx="396.58" cy="73.06" r="1.05" fill="#0d20f6"/>
<circle cx="396.58" cy="94.73" r="1.05" fill="#0d20f6"/>
<circle cx="409.66" cy="89.39" r="1.05" fill="#0d20f6"/>
<circle cx="409.66" cy="93.00" r="1.05" fill="#0d20f6"/>
<circle cx="422.74" cy="108.89" r="1.05" fill="#0d20f6"/>
<circle cx="422.74" cy="114.39" r="1.05" fill="#0d20f6"/>
<polyline points="465.34,114.06 466.16,113.99 466.98,113.79 467.79,113.44 468.61,112.95 469.43,112.33 470.25,111.58 471.06,110.70 471.88,109.70 472.70,108.57 473.51,107.33 474.33,105.97 475.15,104.51 475.97,102.96 476.79,101.31 477.60,99.57 478.42,97.76 479.24,95.88 480.06,93.94 480.87,91.94 481.69,89.90 482.51,87.82 483.32,85.72 484.14,83.59 484.96,81.46 485.78,79.33 486.60,77.20 487.41,75.10 488.23,73.02 489.05,70.98 489.87,68.98 490.68,67.04 491.50,65.16 492.32,63.35 493.13,61.61 493.95,59.96 494.77,58.41 495.59,56.95 496.41,55.59 497.22,54.35 498.04,53.22 498.86,52.22 499.68,51.34 500.49,50.59 501.31,49.97 502.13,49.48 502.94,49.13 503.76,48.93 504.58,48.86 505.40,48.93 506.22,49.13 507.03,49.48 507.85,49.97 508.67,50.59 509.49,51.34 510.30,52.22 511.12,53.22 511.94,54.35 512.75,55.59 513.57,56.95 514.39,58.41 515.21,59.96 516.02,61.61 516.84,63.35 517.66,65.16 518.48,67.04 519.29,68.98 520.11,70.98 520.93,73.02 521.75,75.10 522.57,77.20 523.38,79.33 524.20,81.46 525.02,83.59 525.84,85.72 526.65,87.82 527.47,89.90 528.29,91.94 529.11,93.94 529.92,95.88 530.74,97.76" fill="none" stroke="#0d20f6" stroke-width="1.15" stroke-linejoin="round"/>
<polyline points="465.34,106.06 466.16,106.00 466.98,105.82 467.79,105.52 468.61,105.11 469.43,104.58 470.25,103.93 471.06,103.18 471.88,102.32 472.70,101.36 473.51,100.29 474.33,99.14 475.15,97.89 475.97,96.56 476.79,95.15 477.60,93.66 478.42,92.11 479.24,90.50 480.06,88.84 480.87,87.13 481.69,85.39 482.51,83.61 483.32,81.81 484.14,79.99 484.96,78.17 485.78,76.35 486.60,74.53 487.41,72.73 488.23,70.95 489.05,69.21 489.87,67.50 490.68,65.84 491.50,64.23 492.32,62.68 493.13,61.20 493.95,59.79 494.77,58.45 495.59,57.21 496.41,56.05 497.22,54.99 498.04,54.02 498.86,53.16 499.68,52.41 500.49,51.77 501.31,51.24 502.13,50.82 502.94,50.52 503.76,50.35 504.58,50.29 505.40,50.35 506.22,50.52 507.03,50.82 507.85,51.24 508.67,51.77 509.49,52.41 510.30,53.16 511.12,54.02 511.94,54.99 512.75,56.05 513.57,57.21 514.39,58.45 515.21,59.79 516.02,61.20 516.84,62.68 517.66,64.23 518.48,65.84 519.29,67.50 520.11,69.21 520.93,70.95 521.75,72.73 522.57,74.53 523.38,76.35 524.20,78.17 525.02,79.99 525.84,81.81 526.65,83.61 527.47,85.39 528.29,87.13 529.11,88.84 529.92,90.50 530.74,92.11" fill="none" stroke="#111111" stroke-width="1.15" stroke-linejoin="round"/>
<circle cx="465.34" cy="89.04" r="1.05" fill="#111111"/>
<circle cx="465.34" cy="108.34" r="1.05" fill="#111111"/>
<circle cx="478.42" cy="76.03" r="1.05" fill="#111111"/>
<circle cx="478.42" cy="92.90" r="1.05" fill="#111111"/>
<circle cx="478.42" cy="95.76" r="1.05" fill="#111111"/>
<circle cx="478.42" cy="98.19" r="1.05" fill="#111111"/>
<circle cx="491.50" cy="70.45" r="1.05" fill="#111111"/>
<circle cx="491.50" cy="72.16" r="1.05" fill="#111111"/>
<circle cx="491.50" cy="80.46" r="1.05" fill="#111111"/>
<circle cx="504.58" cy="40.70" r="1.05" fill="#111111"/>
<circle cx="504.58" cy="42.13" r="1.05" fill="#111111"/>
<circle cx="517.66" cy="54.43" r="1.05" fill="#111111"/>
<circle cx="517.66" cy="56.15" r="1.05" fill="#111111"/>
<circle cx="517.66" cy="77.88" r="1.05" fill="#111111"/>
<circle cx="517.66" cy="83.18" r="1.05" fill="#111111"/>
<circle cx="530.74" cy="79.60" r="1.05" fill="#111111"/>
<circle cx="530.74" cy="106.06" r="1.05" fill="#111111"/>
<circle cx="465.34" cy="111.49" r="1.05" fill="#0d20f6"/>
<circle cx="465.34" cy="114.35" r="1.05" fill="#0d20f6"/>
<circle cx="465.34" cy="116.50" r="1.05" fill="#0d20f6"/>
<circle cx="465.34" cy="118.35" r="1.05" fill="#0d20f6"/>
<circle cx="478.42" cy="86.75" r="1.05" fill="#0d20f6"/>
<circle cx="478.42" cy="89.32" r="1.05" fill="#0d20f6"/>
<circle cx="478.42" cy="94.33" r="1.05" fill="#0d20f6"/>
<circle cx="491.50" cy="58.87" r="1.05" fill="#0d20f6"/>
<circle cx="491.50" cy="71.45" r="1.05" fill="#0d20f6"/>
<circle cx="504.58" cy="44.85" r="1.05" fill="#0d20f6"/>
<circle cx="504.58" cy="51.00" r="1.05" fill="#0d20f6"/>
<circle cx="504.58" cy="53.57" r="1.05" fill="#0d20f6"/>
<circle cx="517.66" cy="59.87" r="1.05" fill="#0d20f6"/>
<circle cx="530.74" cy="97.76" r="1.05" fill="#0d20f6"/>
<circle cx="530.74" cy="100.05" r="1.05" fill="#0d20f6"/>
<circle cx="530.74" cy="101.48" r="1.05" fill="#0d20f6"/>
<circle cx="530.74" cy="110.49" r="1.05" fill="#0d20f6"/>
<polyline points="33.34,220.80 34.16,222.75 34.98,224.66 35.79,226.54 36.61,228.36 37.43,230.12 38.25,231.81 39.06,233.43 39.88,234.97 40.70,236.42 41.52,237.77 42.33,239.03 43.15,240.18 43.97,241.22 44.78,242.14 45.60,242.95 46.42,243.63 47.24,244.19 48.05,244.62 48.87,244.92 49.69,245.09 50.51,245.13 51.33,245.04 52.14,244.82 52.96,244.47 53.78,243.98 54.59,243.37 55.41,242.64 56.23,241.79 57.05,240.82 57.87,239.73 58.68,238.54 59.50,237.24 60.32,235.85 61.14,234.36 61.95,232.79 62.77,231.14 63.59,229.42 64.41,227.64 65.22,225.79 66.04,223.90 66.86,221.97 67.67,220.01 68.49,218.02 69.31,216.02 70.13,214.00 70.95,212.00 71.76,210.00 72.58,208.02 73.40,206.07 74.22,204.15 75.03,202.28 75.85,200.46 76.67,198.69 77.48,197.00 78.30,195.38 79.12,193.84 79.94,192.40 80.75,191.04 81.57,189.78 82.39,188.63 83.21,187.60 84.03,186.67 84.84,185.86 85.66,185.18 86.48,184.62 87.30,184.19 88.11,183.89 88.93,183.72 89.75,183.68 90.56,183.77 91.38,184.00 92.20,184.35 93.02,184.83 93.83,185.44 94.65,186.17 95.47,187.03 96.29,188.00 97.11,189.08 97.92,190.27 98.74,191.57" fill="none" stroke="#0d20f6" stroke-width="1.15" stroke-linejoin="round"/>
<polyline points="33.34,211.93 34.16,213.58 34.98,215.19 35.79,216.78 36.61,218.33 37.43,219.84 38.25,221.29 39.06,222.69 39.88,224.02 40.70,225.29 41.52,226.48 42.33,227.59 43.15,228.62 43.97,229.56 44.78,230.40 45.60,231.15 46.42,231.81 47.24,232.35 48.05,232.80 48.87,233.13 49.69,233.36 50.51,233.48 51.33,233.49 52.14,233.40 52.96,233.19 53.78,232.87 54.59,232.45 55.41,231.92 56.23,231.29 57.05,230.56 57.87,229.74 58.68,228.81 59.50,227.80 60.32,226.71 61.14,225.53 61.95,224.28 62.77,222.96 63.59,221.58 64.41,220.13 65.22,218.64 66.04,217.10 66.86,215.51 67.67,213.90 68.49,212.26 69.31,210.60 70.13,208.94 70.95,207.26 71.76,205.59 72.58,203.93 73.40,202.29 74.22,200.67 75.03,199.08 75.85,197.53 76.67,196.03 77.48,194.57 78.30,193.17 79.12,191.84 79.94,190.57 80.75,189.38 81.57,188.27 82.39,187.24 83.21,186.31 84.03,185.46 84.84,184.71 85.66,184.06 86.48,183.51 87.30,183.07 88.11,182.73 88.93,182.50 89.75,182.38 90.56,182.37 91.38,182.47 92.20,182.67 93.02,182.99 93.83,183.41 94.65,183.94 95.47,184.57 96.29,185.30 97.11,186.13 97.92,187.05 98.74,188.06" fill="none" stroke="#111111" stroke-width="1.15" stroke-linejoin="round"/>
<circle cx="33.34" cy="194.21" r="1.05" fill="#111111"/>
<circle cx="33.34" cy="205.63" r="1.05" fill="#111111"/>
<circle cx="33.34" cy="211.99" r="1.05" fill="#111111"/>
<circle cx="33.34" cy="218.58" r="1.05" fill="#111111"/>
<circle cx="46.42" cy="227.80" r="1.05" fill="#111111"/>
<circle cx="46.42" cy="231.75" r="1.05" fill="#111111"/>
<circle cx="46.42" cy="233.50" r="1.05" fill="#111111"/>
<circle cx="59.50" cy="220.77" r="1.05" fill="#111111"/>
<circle cx="59.50" cy="229.55" r="1.05" fill="#111111"/>
<circle cx="59.50" cy="231.75" r="1.05" fill="#111111"/>
<circle cx="72.58" cy="195.09" r="1.05" fill="#111111"/>
<circle cx="72.58" cy="197.72" r="1.05" fill="#111111"/>
<circle cx="72.58" cy="199.48" r="1.05" fill="#111111"/>
<circle cx="72.58" cy="208.70" r="1.05" fill="#111111"/>
<circle cx="85.66" cy="176.65" r="1.05" fill="#111111"/>
<circle cx="85.66" cy="191.14" r="1.05" fill="#111111"/>
<circle cx="98.74" cy="174.90" r="1.05" fill="#111111"/>
<circle cx="98.74" cy="200.58" r="1.05" fill="#111111"/>
<circle cx="33.34" cy="219.46" r="1.05" fill="#0d20f6"/>
<circle cx="33.34" cy="221.21" r="1.05" fill="#0d20f6"/>
<circle cx="33.34" cy="222.97" r="1.05" fill="#0d20f6"/>
<circle cx="33.34" cy="235.04" r="1.05" fill="#0d20f6"/>
<circle cx="46.42" cy="236.14" r="1.05" fill="#0d20f6"/>
<circle cx="46.42" cy="241.41" r="1.05" fill="#0d20f6"/>
<circle cx="46.42" cy="243.82" r="1.05" fill="#0d20f6"/>
<circle cx="46.42" cy="245.80" r="1.05" fill="#0d20f6"/>
<circle cx="59.50" cy="237.02" r="1.05" fill="#0d20f6"/>
<circle cx="59.50" cy="239.43" r="1.05" fill="#0d20f6"/>
<circle cx="59.50" cy="241.41" r="1.05" fill="#0d20f6"/>
<circle cx="72.58" cy="192.46" r="1.05" fill="#0d20f6"/>
<circle cx="72.58" cy="198.82" r="1.05" fill="#0d20f6"/>
<circle cx="72.58" cy="210.46" r="1.05" fill="#0d20f6"/>
<circle cx="72.58" cy="213.09" r="1.05" fill="#0d20f6"/>
<circle cx="85.66" cy="185.43" r="1.05" fill="#0d20f6"/>
<circle cx="85.66" cy="187.19" r="1.05" fill="#0d20f6"/>
<circle cx="85.66" cy="200.58" r="1.05" fill="#0d20f6"/>
<circle cx="98.74" cy="179.29" r="1.05" fill="#0d20f6"/>
<circle cx="98.74" cy="182.80" r="1.05" fill="#0d20f6"/>
<circle cx="98.74" cy="184.55" r="1.05" fill="#0d20f6"/>
<circle cx="98.74" cy="186.31" r="1.05" fill="#0d20f6"/>
<polyline points="141.34,205.63 142.16,205.09 142.98,204.53 143.79,203.95 144.61,203.34 145.43,202.73 146.25,202.09 147.06,201.45 147.88,200.80 148.70,200.14 149.52,199.48 150.33,198.82 151.15,198.16 151.97,197.51 152.79,196.87 153.60,196.24 154.42,195.62 155.24,195.02 156.06,194.43 156.87,193.87 157.69,193.33 158.51,192.82 159.33,192.34 160.14,191.89 160.96,191.47 161.78,191.09 162.60,190.74 163.41,190.43 164.23,190.15 165.05,189.92 165.87,189.73 166.68,189.58 167.50,189.47 168.32,189.41 169.14,189.38 169.95,189.41 170.77,189.47 171.59,189.58 172.41,189.73 173.22,189.92 174.04,190.15 174.86,190.43 175.68,190.74 176.49,191.09 177.31,191.47 178.13,191.89 178.95,192.34 179.76,192.82 180.58,193.33 181.40,193.87 182.22,194.43 183.03,195.02 183.85,195.62 184.67,196.24 185.49,196.87 186.30,197.51 187.12,198.16 187.94,198.82 188.75,199.48 189.57,200.14 190.39,200.80 191.21,201.45 192.03,202.09 192.84,202.73 193.66,203.34 194.48,203.95 195.30,204.53 196.11,205.09 196.93,205.63 197.75,206.14 198.56,206.62 199.38,207.07 200.20,207.49 201.02,207.88 201.84,208.23 202.65,208.54 203.47,208.81 204.29,209.04 205.11,209.23 205.92,209.38 206.74,209.49" fill="none" stroke="#0d20f6" stroke-width="1.15" stroke-linejoin="round"/>
<polyline points="141.34,220.54 142.16,220.18 142.98,219.76 143.79,219.30 144.61,218.78 145.43,218.22 146.25,217.62 147.06,216.98 147.88,216.30 148.70,215.58 149.52,214.84 150.33,214.06 151.15,213.26 151.97,212.43 152.79,211.59 153.60,210.73 154.42,209.86 155.24,208.99 156.06,208.11 156.87,207.23 157.69,206.35 158.51,205.48 159.33,204.62 160.14,203.78 160.96,202.96 161.78,202.16 162.60,201.38 163.41,200.63 164.23,199.92 165.05,199.24 165.87,198.59 166.68,197.99 167.50,197.43 168.32,196.92 169.14,196.45 169.95,196.04 170.77,195.68 171.59,195.37 172.41,195.11 173.22,194.91 174.04,194.77 174.86,194.68 175.68,194.65 176.49,194.68 177.31,194.77 178.13,194.91 178.95,195.11 179.76,195.37 180.58,195.68 181.40,196.04 182.22,196.45 183.03,196.92 183.85,197.43 184.67,197.99 185.49,198.59 186.30,199.24 187.12,199.92 187.94,200.63 188.75,201.38 189.57,202.16 190.39,202.96 191.21,203.78 192.03,204.62 192.84,205.48 193.66,206.35 194.48,207.23 195.30,208.11 196.11,208.99 196.93,209.86 197.75,210.73 198.56,211.59 199.38,212.43 200.20,213.26 201.02,214.06 201.84,214.84 202.65,215.58 203.47,216.30 204.29,216.98 205.11,217.62 205.92,218.22 206.74,218.78" fill="none" stroke="#111111" stroke-width="1.15" stroke-linejoin="round"/>
<circle cx="141.34" cy="224.72" r="1.05" fill="#111111"/>
<circle cx="141.34" cy="227.36" r="1.05" fill="#111111"/>
<circle cx="141.34" cy="243.60" r="1.05" fill="#111111"/>
<circle cx="154.42" cy="198.60" r="1.05" fill="#111111"/>
<circle cx="154.42" cy="200.36" r="1.05" fill="#111111"/>
<circle cx="154.42" cy="223.19" r="1.05" fill="#111111"/>
<circle cx="167.50" cy="198.38" r="1.05" fill="#111111"/>
<circle cx="167.50" cy="200.14" r="1.05" fill="#111111"/>
<circle cx="180.58" cy="195.09" r="1.05" fill="#111111"/>
<circle cx="180.58" cy="196.63" r="1.05" fill="#111111"/>
<circle cx="180.58" cy="202.99" r="1.05" fill="#111111"/>
<circle cx="180.58" cy="208.70" r="1.05" fill="#111111"/>
<circle cx="180.58" cy="210.46" r="1.05" fill="#111111"/>
<circle cx="193.66" cy="183.68" r="1.05" fill="#111111"/>
<circle cx="193.66" cy="190.70" r="1.05" fill="#111111"/>
<circle cx="193.66" cy="192.46" r="1.05" fill="#111111"/>
<circle cx="193.66" cy="202.11" r="1.05" fill="#111111"/>
<circle cx="206.74" cy="226.26" r="1.05" fill="#111111"/>
<circle cx="206.74" cy="227.80" r="1.05" fill="#111111"/>
<circle cx="141.34" cy="208.26" r="1.05" fill="#0d20f6"/>
<circle cx="141.34" cy="209.58" r="1.05" fill="#0d20f6"/>
<circle cx="141.34" cy="211.33" r="1.05" fill="#0d20f6"/>
<circle cx="154.42" cy="181.26" r="1.05" fill="#0d20f6"/>
<circle cx="154.42" cy="190.70" r="1.05" fill="#0d20f6"/>
<circle cx="154.42" cy="192.02" r="1.05" fill="#0d20f6"/>
<circle cx="154.42" cy="193.33" r="1.05" fill="#0d20f6"/>
<circle cx="154.42" cy="195.09" r="1.05" fill="#0d20f6"/>
<circle cx="167.50" cy="186.31" r="1.05" fill="#0d20f6"/>
<circle cx="167.50" cy="188.07" r="1.05" fill="#0d20f6"/>
<circle cx="167.50" cy="189.82" r="1.05" fill="#0d20f6"/>
<circle cx="167.50" cy="195.09" r="1.05" fill="#0d20f6"/>
<circle cx="180.58" cy="192.46" r="1.05" fill="#0d20f6"/>
<circle cx="180.58" cy="200.36" r="1.05" fill="#0d20f6"/>
<circle cx="180.58" cy="202.11" r="1.05" fill="#0d20f6"/>
<circle cx="193.66" cy="187.19" r="1.05" fill="#0d20f6"/>
<circle cx="193.66" cy="193.33" r="1.05" fill="#0d20f6"/>
<circle cx="206.74" cy="195.53" r="1.05" fill="#0d20f6"/>
<circle cx="206.74" cy="206.94" r="1.05" fill="#0d20f6"/>
<circle cx="206.74" cy="213.09" r="1.05" fill="#0d20f6"/>
<circle cx="206.74" cy="214.85" r="1.05" fill="#0d20f6"/>
<circle cx="206.74" cy="217.48" r="1.05" fill="#0d20f6"/>
<polyline points="254.50,194.70 255.26,192.96 256.02,191.27 256.79,189.65 257.55,188.09 258.31,186.61 259.07,185.22 259.84,183.91 260.60,182.69 261.36,181.58 262.12,180.57 262.89,179.67 263.65,178.88 264.41,178.20 265.18,177.65 265.94,177.21 266.70,176.90 267.46,176.72 268.23,176.65 268.99,176.72 269.75,176.90 270.51,177.21 271.27,177.65 272.04,178.20 272.80,178.88 273.56,179.67 274.32,180.57 275.09,181.58 275.85,182.69 276.61,183.91 277.38,185.22 278.14,186.61 278.90,188.09 279.66,189.65 280.43,191.27 281.19,192.96 281.95,194.70 282.71,196.49 283.48,198.32 284.24,200.19 285.00,202.07 285.76,203.98 286.52,205.89 287.29,207.80 288.05,209.71 288.81,211.59 289.57,213.46 290.34,215.29 291.10,217.08 291.86,218.82 292.62,220.51 293.39,222.13 294.15,223.69 294.91,225.17 295.68,226.56 296.44,227.87 297.20,229.09 297.96,230.20 298.73,231.21 299.49,232.11 300.25,232.90 301.01,233.58 301.77,234.13 302.54,234.57 303.30,234.88 304.06,235.07 304.82,235.13 305.59,235.07 306.35,234.88 307.11,234.57 307.88,234.13 308.64,233.58 309.40,232.90 310.16,232.11 310.93,231.21 311.69,230.20 312.45,229.09 313.21,227.87 313.98,226.56 314.74,225.17 315.50,223.69" fill="none" stroke="#0d20f6" stroke-width="1.15" stroke-linejoin="round"/>
<polyline points="254.50,198.68 255.26,196.86 256.02,195.08 256.79,193.36 257.55,191.71 258.31,190.12 259.07,188.61 259.84,187.18 260.60,185.83 261.36,184.59 262.12,183.44 262.89,182.39 263.65,181.46 264.41,180.64 265.18,179.93 265.94,179.34 266.70,178.88 267.46,178.54 268.23,178.32 268.99,178.24 269.75,178.27 270.51,178.44 271.27,178.73 272.04,179.14 272.80,179.68 273.56,180.34 274.32,181.12 275.09,182.01 275.85,183.01 276.61,184.11 277.38,185.32 278.14,186.63 278.90,188.02 279.66,189.50 280.43,191.06 281.19,192.69 281.95,194.39 282.71,196.14 283.48,197.95 284.24,199.79 285.00,201.67 285.76,203.58 286.52,205.50 287.29,207.43 288.05,209.37 288.81,211.30 289.57,213.21 290.34,215.11 291.10,216.97 291.86,218.79 292.62,220.56 293.39,222.28 294.15,223.94 294.91,225.53 295.68,227.04 296.44,228.47 297.20,229.81 297.96,231.06 298.73,232.21 299.49,233.25 300.25,234.19 301.01,235.01 301.77,235.71 302.54,236.30 303.30,236.76 304.06,237.10 304.82,237.32 305.59,237.41 306.35,237.37 307.11,237.21 307.88,236.92 308.64,236.50 309.40,235.96 310.16,235.30 310.93,234.53 311.69,233.64 312.45,232.64 313.21,231.53 313.98,230.32 314.74,229.02 315.50,227.62" fill="none" stroke="#111111" stroke-width="1.15" stroke-linejoin="round"/>
<circle cx="254.50" cy="199.04" r="1.05" fill="#111111"/>
<circle cx="254.50" cy="202.11" r="1.05" fill="#111111"/>
<circle cx="254.50" cy="216.16" r="1.05" fill="#111111"/>
<circle cx="266.70" cy="181.04" r="1.05" fill="#111111"/>
<circle cx="278.90" cy="181.04" r="1.05" fill="#111111"/>
<circle cx="278.90" cy="186.22" r="1.05" fill="#111111"/>
<circle cx="278.90" cy="201.32" r="1.05" fill="#111111"/>
<circle cx="291.10" cy="208.70" r="1.05" fill="#111111"/>
<circle cx="291.10" cy="221.87" r="1.05" fill="#111111"/>
<circle cx="303.30" cy="238.55" r="1.05" fill="#111111"/>
<circle cx="303.30" cy="235.92" r="1.05" fill="#111111"/>
<circle cx="315.50" cy="225.38" r="1.05" fill="#111111"/>
<circle cx="315.50" cy="230.65" r="1.05" fill="#111111"/>
<circle cx="254.50" cy="180.08" r="1.05" fill="#0d20f6"/>
<circle cx="254.50" cy="186.22" r="1.05" fill="#0d20f6"/>
<circle cx="254.50" cy="187.98" r="1.05" fill="#0d20f6"/>
<circle cx="266.70" cy="172.97" r="1.05" fill="#0d20f6"/>
<circle cx="266.70" cy="174.81" r="1.05" fill="#0d20f6"/>
<circle cx="266.70" cy="177.09" r="1.05" fill="#0d20f6"/>
<circle cx="278.90" cy="191.49" r="1.05" fill="#0d20f6"/>
<circle cx="278.90" cy="193.77" r="1.05" fill="#0d20f6"/>
<circle cx="278.90" cy="195.97" r="1.05" fill="#0d20f6"/>
<circle cx="278.90" cy="200.01" r="1.05" fill="#0d20f6"/>
<circle cx="291.10" cy="205.71" r="1.05" fill="#0d20f6"/>
<circle cx="291.10" cy="209.58" r="1.05" fill="#0d20f6"/>
<circle cx="291.10" cy="211.33" r="1.05" fill="#0d20f6"/>
<circle cx="291.10" cy="217.48" r="1.05" fill="#0d20f6"/>
<circle cx="291.10" cy="219.24" r="1.05" fill="#0d20f6"/>
<circle cx="303.30" cy="226.26" r="1.05" fill="#0d20f6"/>
<circle cx="303.30" cy="232.41" r="1.05" fill="#0d20f6"/>
<circle cx="303.30" cy="234.16" r="1.05" fill="#0d20f6"/>
<circle cx="315.50" cy="231.53" r="1.05" fill="#0d20f6"/>
<circle cx="315.50" cy="233.72" r="1.05" fill="#0d20f6"/>
<circle cx="315.50" cy="235.92" r="1.05" fill="#0d20f6"/>
<circle cx="315.50" cy="238.55" r="1.05" fill="#0d20f6"/>
<polyline points="357.34,207.99 358.16,206.57 358.98,205.16 359.79,203.74 360.61,202.34 361.43,200.95 362.25,199.59 363.06,198.26 363.88,196.96 364.70,195.70 365.51,194.48 366.33,193.32 367.15,192.21 367.97,191.16 368.79,190.18 369.60,189.26 370.42,188.42 371.24,187.66 372.06,186.97 372.87,186.37 373.69,185.85 374.51,185.42 375.32,185.08 376.14,184.83 376.96,184.68 377.78,184.61 378.60,184.64 379.41,184.76 380.23,184.97 381.05,185.28 381.87,185.67 382.68,186.15 383.50,186.72 384.32,187.37 385.13,188.11 385.95,188.92 386.77,189.80 387.59,190.76 388.41,191.78 389.22,192.87 390.04,194.01 390.86,195.21 391.68,196.45 392.49,197.73 393.31,199.05 394.13,200.41 394.94,201.78 395.76,203.18 396.58,204.59 397.40,206.01 398.22,207.43 399.03,208.84 399.85,210.24 400.67,211.63 401.49,212.99 402.30,214.33 403.12,215.62 403.94,216.88 404.75,218.10 405.57,219.26 406.39,220.37 407.21,221.42 408.03,222.40 408.84,223.32 409.66,224.16 410.48,224.92 411.30,225.61 412.11,226.21 412.93,226.73 413.75,227.16 414.56,227.50 415.38,227.75 416.20,227.91 417.02,227.97 417.84,227.94 418.65,227.82 419.47,227.61 420.29,227.30 421.11,226.91 421.92,226.43 422.74,225.86" fill="none" stroke="#0d20f6" stroke-width="1.15" stroke-linejoin="round"/>
<polyline points="357.34,208.55 358.16,207.01 358.98,205.48 359.79,203.97 360.61,202.46 361.43,200.98 362.25,199.54 363.06,198.12 363.88,196.75 364.70,195.43 365.51,194.16 366.33,192.95 367.15,191.80 367.97,190.73 368.79,189.72 369.60,188.80 370.42,187.95 371.24,187.20 372.06,186.53 372.87,185.95 373.69,185.47 374.51,185.08 375.32,184.79 376.14,184.60 376.96,184.51 377.78,184.52 378.60,184.63 379.41,184.84 380.23,185.15 381.05,185.55 381.87,186.06 382.68,186.65 383.50,187.34 384.32,188.12 385.13,188.98 385.95,189.92 386.77,190.94 387.59,192.03 388.41,193.19 389.22,194.41 390.04,195.69 390.86,197.02 391.68,198.40 392.49,199.82 393.31,201.28 394.13,202.76 394.94,204.27 395.76,205.79 396.58,207.32 397.40,208.85 398.22,210.38 399.03,211.90 399.85,213.40 400.67,214.88 401.49,216.33 402.30,217.74 403.12,219.11 403.94,220.44 404.75,221.71 405.57,222.92 406.39,224.06 407.21,225.14 408.03,226.14 408.84,227.07 409.66,227.91 410.48,228.67 411.30,229.34 412.11,229.92 412.93,230.40 413.75,230.79 414.56,231.08 415.38,231.27 416.20,231.36 417.02,231.35 417.84,231.24 418.65,231.03 419.47,230.72 420.29,230.31 421.11,229.81 421.92,229.21 422.74,228.53" fill="none" stroke="#111111" stroke-width="1.15" stroke-linejoin="round"/>
<circle cx="357.34" cy="200.82" r="1.05" fill="#111111"/>
<circle cx="357.34" cy="217.68" r="1.05" fill="#111111"/>
<circle cx="357.34" cy="219.43" r="1.05" fill="#111111"/>
<circle cx="370.42" cy="189.76" r="1.05" fill="#111111"/>
<circle cx="383.50" cy="180.56" r="1.05" fill="#111111"/>
<circle cx="383.50" cy="188.88" r="1.05" fill="#111111"/>
<circle cx="383.50" cy="190.74" r="1.05" fill="#111111"/>
<circle cx="396.58" cy="207.93" r="1.05" fill="#111111"/>
<circle cx="396.58" cy="210.89" r="1.05" fill="#111111"/>
<circle cx="396.58" cy="213.08" r="1.05" fill="#111111"/>
<circle cx="409.66" cy="216.69" r="1.05" fill="#111111"/>
<circle cx="409.66" cy="228.19" r="1.05" fill="#111111"/>
<circle cx="422.74" cy="232.57" r="1.05" fill="#111111"/>
<circle cx="422.74" cy="233.45" r="1.05" fill="#111111"/>
<circle cx="422.74" cy="248.78" r="1.05" fill="#111111"/>
<circle cx="357.34" cy="207.06" r="1.05" fill="#0d20f6"/>
<circle cx="357.34" cy="209.79" r="1.05" fill="#0d20f6"/>
<circle cx="357.34" cy="211.98" r="1.05" fill="#0d20f6"/>
<circle cx="357.34" cy="214.17" r="1.05" fill="#0d20f6"/>
<circle cx="370.42" cy="184.61" r="1.05" fill="#0d20f6"/>
<circle cx="370.42" cy="186.25" r="1.05" fill="#0d20f6"/>
<circle cx="383.50" cy="184.61" r="1.05" fill="#0d20f6"/>
<circle cx="383.50" cy="186.25" r="1.05" fill="#0d20f6"/>
<circle cx="396.58" cy="204.76" r="1.05" fill="#0d20f6"/>
<circle cx="409.66" cy="212.31" r="1.05" fill="#0d20f6"/>
<circle cx="422.74" cy="222.94" r="1.05" fill="#0d20f6"/>
<circle cx="422.74" cy="224.69" r="1.05" fill="#0d20f6"/>
<circle cx="422.74" cy="228.19" r="1.05" fill="#0d20f6"/>
<circle cx="422.74" cy="230.05" r="1.05" fill="#0d20f6"/>
<polyline points="465.34,222.89 466.16,221.29 466.98,219.63 467.79,217.90 468.61,216.12 469.43,214.30 470.25,212.44 471.06,210.55 471.88,208.64 472.70,206.71 473.51,204.78 474.33,202.85 475.15,200.94 475.97,199.04 476.79,197.17 477.60,195.34 478.42,193.55 479.24,191.82 480.06,190.14 480.87,188.53 481.69,186.99 482.51,185.53 483.32,184.15 484.14,182.87 484.96,181.69 485.78,180.60 486.60,179.63 487.41,178.76 488.23,178.01 489.05,177.38 489.87,176.87 490.68,176.48 491.50,176.21 492.32,176.08 493.13,176.06 493.95,176.18 494.77,176.42 495.59,176.78 496.41,177.27 497.22,177.88 498.04,178.60 498.86,179.45 499.68,180.40 500.49,181.46 501.31,182.63 502.13,183.89 502.94,185.25 503.76,186.69 504.58,188.21 505.40,189.81 506.22,191.48 507.03,193.20 507.85,194.98 508.67,196.80 509.49,198.67 510.30,200.56 511.12,202.47 511.94,204.39 512.75,206.32 513.57,208.25 514.39,210.17 515.21,212.06 516.02,213.93 516.84,215.76 517.66,217.55 518.48,219.29 519.29,220.97 520.11,222.58 520.93,224.12 521.75,225.58 522.57,226.95 523.38,228.23 524.20,229.42 525.02,230.50 525.84,231.48 526.65,232.34 527.47,233.09 528.29,233.73 529.11,234.24 529.92,234.63 530.74,234.89" fill="none" stroke="#0d20f6" stroke-width="1.15" stroke-linejoin="round"/>
<polyline points="465.34,227.41 466.16,225.55 466.98,223.62 467.79,221.63 468.61,219.57 469.43,217.47 470.25,215.33 471.06,213.17 471.88,210.98 472.70,208.77 473.51,206.57 474.33,204.38 475.15,202.20 475.97,200.05 476.79,197.93 477.60,195.86 478.42,193.84 479.24,191.88 480.06,189.99 480.87,188.19 481.69,186.47 482.51,184.84 483.32,183.31 484.14,181.89 484.96,180.58 485.78,179.40 486.60,178.33 487.41,177.40 488.23,176.59 489.05,175.93 489.87,175.40 490.68,175.01 491.50,174.77 492.32,174.66 493.13,174.71 493.95,174.90 494.77,175.23 495.59,175.70 496.41,176.31 497.22,177.06 498.04,177.94 498.86,178.96 499.68,180.09 500.49,181.35 501.31,182.73 502.13,184.21 502.94,185.80 503.76,187.49 504.58,189.26 505.40,191.12 506.22,193.05 507.03,195.04 507.85,197.09 508.67,199.19 509.49,201.33 510.30,203.50 511.12,205.69 511.94,207.89 512.75,210.10 513.57,212.29 514.39,214.47 515.21,216.62 516.02,218.74 516.84,220.81 517.66,222.83 518.48,224.79 519.29,226.67 520.11,228.48 520.93,230.20 521.75,231.83 522.57,233.36 523.38,234.78 524.20,236.08 525.02,237.27 525.84,238.34 526.65,239.27 527.47,240.07 528.29,240.74 529.11,241.27 529.92,241.66 530.74,241.90" fill="none" stroke="#111111" stroke-width="1.15" stroke-linejoin="round"/>
<circle cx="465.34" cy="221.51" r="1.05" fill="#111111"/>
<circle cx="465.34" cy="234.32" r="1.05" fill="#111111"/>
<circle cx="465.34" cy="235.05" r="1.05" fill="#111111"/>
<circle cx="465.34" cy="236.15" r="1.05" fill="#111111"/>
<circle cx="465.34" cy="246.76" r="1.05" fill="#111111"/>
<circle cx="465.34" cy="248.52" r="1.05" fill="#111111"/>
<circle cx="478.42" cy="184.54" r="1.05" fill="#111111"/>
<circle cx="478.42" cy="185.28" r="1.05" fill="#111111"/>
<circle cx="478.42" cy="189.38" r="1.05" fill="#111111"/>
<circle cx="491.50" cy="173.56" r="1.05" fill="#111111"/>
<circle cx="504.58" cy="195.96" r="1.05" fill="#111111"/>
<circle cx="504.58" cy="197.72" r="1.05" fill="#111111"/>
<circle cx="517.66" cy="219.39" r="1.05" fill="#111111"/>
<circle cx="530.74" cy="234.91" r="1.05" fill="#111111"/>
<circle cx="530.74" cy="240.91" r="1.05" fill="#111111"/>
<circle cx="465.34" cy="222.90" r="1.05" fill="#0d20f6"/>
<circle cx="465.34" cy="237.98" r="1.05" fill="#0d20f6"/>
<circle cx="465.34" cy="238.71" r="1.05" fill="#0d20f6"/>
<circle cx="465.34" cy="239.66" r="1.05" fill="#0d20f6"/>
<circle cx="465.34" cy="243.10" r="1.05" fill="#0d20f6"/>
<circle cx="478.42" cy="180.88" r="1.05" fill="#0d20f6"/>
<circle cx="478.42" cy="182.71" r="1.05" fill="#0d20f6"/>
<circle cx="491.50" cy="175.76" r="1.05" fill="#0d20f6"/>
<circle cx="491.50" cy="177.22" r="1.05" fill="#0d20f6"/>
<circle cx="491.50" cy="178.32" r="1.05" fill="#0d20f6"/>
<circle cx="504.58" cy="186.23" r="1.05" fill="#0d20f6"/>
<circle cx="504.58" cy="189.67" r="1.05" fill="#0d20f6"/>
<circle cx="504.58" cy="191.13" r="1.05" fill="#0d20f6"/>
<circle cx="504.58" cy="194.21" r="1.05" fill="#0d20f6"/>
<circle cx="517.66" cy="215.80" r="1.05" fill="#0d20f6"/>
<circle cx="517.66" cy="224.66" r="1.05" fill="#0d20f6"/>
<circle cx="517.66" cy="226.41" r="1.05" fill="#0d20f6"/>
<circle cx="530.74" cy="164.78" r="1.05" fill="#0d20f6"/>
<circle cx="530.74" cy="237.98" r="1.05" fill="#0d20f6"/>
<circle cx="530.74" cy="238.71" r="1.05" fill="#0d20f6"/>
<circle cx="530.74" cy="239.66" r="1.05" fill="#0d20f6"/>
<circle cx="530.74" cy="245.01" r="1.05" fill="#0d20f6"/>
<text x="0.9" y="13.8" font-size="14.6" font-weight="bold" fill="#111">A)</text>
<text x="280.5" y="9.9" font-size="11" font-weight="bold" fill="#222">CON</text>
<text x="319.8" y="9.8" font-size="11" font-weight="bold" fill="#0d20f6">MMI</text>
<text x="542.6" y="13.9" font-size="14.6" font-weight="bold" fill="#111">B)</text>
<text x="621.9" y="11.8" font-size="11.2" font-weight="bold" text-anchor="middle" fill="#111">Robustly rhythmic</text>
<text x="621.4" y="28.3" font-size="15" font-weight="bold" text-anchor="middle" fill="#111">****</text>
<text x="0" y="0" font-size="8" font-weight="bold" text-anchor="middle" fill="#111" transform="translate(555.0,67.0) rotate(-90)"># of genes</text>
<text x="622.1" y="137.7" font-size="8.1" font-weight="bold" text-anchor="middle" fill="#111">Delta acrophase</text>
<defs><linearGradient id="zg" x1="0" x2="1" y1="0" y2="0"><stop offset="0" stop-color="#0000ff"/><stop offset="0.5" stop-color="#ffffff"/><stop offset="1" stop-color="#ff0000"/></linearGradient></defs>
<rect x="660.6" y="126.9" width="16.7" height="9.6" fill="url(#zg)"/>
<text x="669" y="125.3" font-size="3.2" font-weight="bold" text-anchor="middle" fill="#222">z-score</text>
<line x1="661.3" y1="136.5" x2="661.3" y2="137.6" stroke="#666" stroke-width="0.3"/>
<text x="661.3" y="141.3" font-size="2.3" text-anchor="middle" fill="#666">-2</text>
<line x1="666.3" y1="136.5" x2="666.3" y2="137.6" stroke="#666" stroke-width="0.3"/>
<text x="666.3" y="141.3" font-size="2.3" text-anchor="middle" fill="#666">-1</text>
<line x1="671.4" y1="136.5" x2="671.4" y2="137.6" stroke="#666" stroke-width="0.3"/>
<text x="671.4" y="141.3" font-size="2.3" text-anchor="middle" fill="#666">1</text>
<line x1="676.6" y1="136.5" x2="676.6" y2="137.6" stroke="#666" stroke-width="0.3"/>
<text x="676.6" y="141.3" font-size="2.3" text-anchor="middle" fill="#666">2</text>
<defs><filter id="hb" x="0" y="0" width="1" height="1"><feGaussianBlur stdDeviation="0.5 0.35"/></filter><clipPath id="hc"><rect x="547.3" y="144.6" width="136" height="126.9"/></clipPath></defs>
<g clip-path="url(#hc)"><g filter="url(#hb)">
<rect x="547.3" y="144.6" width="136" height="126.9" fill="#fff"/>
<path fill="#7b7bff" d="M571.0 153.6h3v1h-3zM618.3 161.6h3v1h-3zM618.3 166.6h3v1h-3zM618.3 169.6h3v1h-3zM618.3 171.6h3v1h-3zM624.2 197.6h3v1h-3zM618.3 198.6h3v1h-3zM618.3 202.6h3v1h-3zM621.2 203.6h3v1h-3zM618.3 212.5h3v1h-3zM621.2 220.5h3v1h-3zM582.8 268.5h3v1h-3z"/>
<path fill="#8282ff" d="M641.9 147.6h3v1h-3zM621.2 165.6h3v1h-3zM639.0 172.6h3v1h-3zM559.1 178.6h3v1h-3zM624.2 178.6h3v1h-3zM618.3 181.6h3v1h-3zM624.2 182.6h3v1h-3zM618.3 185.6h3v1h-3zM559.1 186.6h3v1h-3zM618.3 187.6h3v1h-3zM618.3 191.6h3v1h-3zM618.3 194.6h3v1h-3zM618.3 203.6h3v1h-3zM618.3 204.6h3v1h-3zM618.3 223.5h3v1h-3zM588.7 266.5h3v1h-3z"/>
<path fill="#8a8aff" d="M576.9 147.6h3v1h-3zM579.8 152.6h3v1h-3zM639.0 155.6h3v1h-3zM573.9 158.6h3v1h-3zM621.2 173.6h3v1h-3zM618.3 175.6h3v1h-3zM568.0 178.6h3v1h-3zM550.3 182.6h3v1h-3zM627.1 188.6h3v1h-3zM621.2 192.6h3v1h-3zM624.2 192.6h3v1h-3zM618.3 193.6h3v1h-3zM618.3 199.6h3v1h-3zM618.3 205.6h3v1h-3zM618.3 207.6h3v1h-3zM618.3 213.5h3v1h-3zM594.6 224.5h3v1h-3zM618.3 224.5h3v1h-3zM680.3 228.5h3v1h-3zM582.8 263.5h3v1h-3z"/>
<path fill="#9191ff" d="M641.9 145.6h3v1h-3zM573.9 146.6h3v1h-3zM627.1 174.6h3v1h-3zM624.2 175.6h3v1h-3zM547.3 178.6h3v1h-3zM559.1 182.6h3v1h-3zM618.3 182.6h3v1h-3zM621.2 184.6h3v1h-3zM624.2 186.6h3v1h-3zM636.0 187.6h3v1h-3zM618.3 188.6h3v1h-3zM621.2 188.6h3v1h-3zM621.2 189.6h3v1h-3zM618.3 192.6h3v1h-3zM547.3 196.6h3v1h-3zM618.3 197.6h3v1h-3zM618.3 201.6h3v1h-3zM618.3 206.6h3v1h-3zM618.3 208.5h3v1h-3zM618.3 210.5h3v1h-3zM674.4 214.5h3v1h-3zM621.2 223.5h3v1h-3zM618.3 225.5h3v1h-3zM609.4 237.5h3v1h-3z"/>
<path fill="#9898ff" d="M644.9 149.6h3v1h-3zM576.9 150.6h3v1h-3zM571.0 151.6h3v1h-3zM579.8 153.6h3v1h-3zM618.3 159.6h3v1h-3zM576.9 167.6h3v1h-3zM618.3 168.6h3v1h-3zM621.2 168.6h3v1h-3zM562.1 173.6h3v1h-3zM621.2 174.6h3v1h-3zM618.3 180.6h3v1h-3zM624.2 183.6h3v1h-3zM568.0 184.6h3v1h-3zM627.1 189.6h3v1h-3zM624.2 196.6h3v1h-3zM639.0 198.6h3v1h-3zM553.2 199.6h3v1h-3zM621.2 199.6h3v1h-3zM618.3 200.6h3v1h-3zM624.2 200.6h3v1h-3zM627.1 201.6h3v1h-3zM674.4 205.6h3v1h-3zM624.2 213.5h3v1h-3zM618.3 214.5h3v1h-3zM618.3 218.5h3v1h-3zM597.6 223.5h3v1h-3zM668.5 224.5h3v1h-3zM674.4 224.5h3v1h-3zM674.4 228.5h3v1h-3zM606.4 235.5h3v1h-3zM665.6 239.5h3v1h-3zM668.5 239.5h3v1h-3zM662.6 249.5h3v1h-3zM582.8 265.5h3v1h-3z"/>
<path fill="#a0a0ff" d="M576.9 144.6h3v1h-3zM571.0 146.6h3v1h-3zM576.9 146.6h3v1h-3zM644.9 147.6h3v1h-3zM647.8 148.6h3v1h-3zM579.8 150.6h3v1h-3zM641.9 151.6h3v1h-3zM573.9 153.6h3v1h-3zM573.9 156.6h3v1h-3zM644.9 157.6h3v1h-3zM579.8 161.6h3v1h-3zM579.8 162.6h3v1h-3zM636.0 162.6h3v1h-3zM636.0 168.6h3v1h-3zM571.0 169.6h3v1h-3zM621.2 170.6h3v1h-3zM565.0 172.6h3v1h-3zM568.0 172.6h3v1h-3zM618.3 174.6h3v1h-3zM568.0 176.6h3v1h-3zM618.3 186.6h3v1h-3zM627.1 187.6h3v1h-3zM630.1 187.6h3v1h-3zM618.3 195.6h3v1h-3zM674.4 195.6h3v1h-3zM618.3 196.6h3v1h-3zM621.2 205.6h3v1h-3zM624.2 206.6h3v1h-3zM674.4 208.5h3v1h-3zM621.2 210.5h3v1h-3zM627.1 213.5h3v1h-3zM618.3 215.5h3v1h-3zM624.2 215.5h3v1h-3zM618.3 216.5h3v1h-3zM621.2 217.5h3v1h-3zM612.3 218.5h3v1h-3zM624.2 221.5h3v1h-3zM621.2 224.5h3v1h-3zM621.2 225.5h3v1h-3zM600.5 238.5h3v1h-3zM612.3 240.5h3v1h-3zM677.4 240.5h3v1h-3zM591.6 242.5h3v1h-3zM591.6 246.5h3v1h-3zM591.6 248.5h3v1h-3zM674.4 251.5h3v1h-3zM582.8 256.5h3v1h-3zM582.8 258.5h3v1h-3zM585.7 260.5h3v1h-3zM582.8 266.5h3v1h-3zM582.8 267.5h3v1h-3z"/>
<path fill="#a7a7ff" d="M588.7 145.6h3v1h-3zM644.9 145.6h3v1h-3zM565.0 146.6h3v1h-3zM571.0 147.6h3v1h-3zM559.1 154.6h3v1h-3zM579.8 154.6h3v1h-3zM565.0 158.6h3v1h-3zM571.0 159.6h3v1h-3zM639.0 159.6h3v1h-3zM633.0 161.6h3v1h-3zM641.9 164.6h3v1h-3zM579.8 166.6h3v1h-3zM627.1 166.6h3v1h-3zM573.9 167.6h3v1h-3zM618.3 167.6h3v1h-3zM627.1 167.6h3v1h-3zM568.0 170.6h3v1h-3zM624.2 171.6h3v1h-3zM562.1 172.6h3v1h-3zM624.2 173.6h3v1h-3zM624.2 174.6h3v1h-3zM627.1 175.6h3v1h-3zM550.3 176.6h3v1h-3zM618.3 176.6h3v1h-3zM639.0 176.6h3v1h-3zM633.0 177.6h3v1h-3zM621.2 179.6h3v1h-3zM562.1 180.6h3v1h-3zM621.2 181.6h3v1h-3zM636.0 181.6h3v1h-3zM639.0 181.6h3v1h-3zM618.3 183.6h3v1h-3zM618.3 184.6h3v1h-3zM627.1 185.6h3v1h-3zM674.4 186.6h3v1h-3zM556.2 187.6h3v1h-3zM618.3 190.6h3v1h-3zM553.2 193.6h3v1h-3zM627.1 194.6h3v1h-3zM674.4 194.6h3v1h-3zM624.2 198.6h3v1h-3zM547.3 202.6h3v1h-3zM624.2 202.6h3v1h-3zM636.0 203.6h3v1h-3zM621.2 204.6h3v1h-3zM624.2 204.6h3v1h-3zM624.2 205.6h3v1h-3zM624.2 207.6h3v1h-3zM621.2 208.5h3v1h-3zM597.6 209.5h3v1h-3zM618.3 211.5h3v1h-3zM674.4 211.5h3v1h-3zM612.3 212.5h3v1h-3zM597.6 213.5h3v1h-3zM627.1 216.5h3v1h-3zM618.3 219.5h3v1h-3zM624.2 219.5h3v1h-3zM556.2 224.5h3v1h-3zM612.3 225.5h3v1h-3zM606.4 229.5h3v1h-3zM594.6 230.5h3v1h-3zM674.4 231.5h3v1h-3zM618.3 233.5h3v1h-3zM603.5 235.5h3v1h-3zM680.3 238.5h3v1h-3zM585.7 240.5h3v1h-3zM656.7 244.5h3v1h-3zM582.8 252.5h3v1h-3zM665.6 253.5h3v1h-3zM588.7 254.5h3v1h-3zM588.7 263.5h3v1h-3zM650.8 267.5h3v1h-3zM665.6 268.5h3v1h-3z"/>
<path fill="#aeaeff" d="M573.9 144.6h3v1h-3zM647.8 144.6h3v1h-3zM571.0 145.6h3v1h-3zM641.9 146.6h3v1h-3zM571.0 150.6h3v1h-3zM647.8 150.6h3v1h-3zM573.9 152.6h3v1h-3zM588.7 152.6h3v1h-3zM576.9 153.6h3v1h-3zM659.6 153.6h3v1h-3zM571.0 154.6h3v1h-3zM647.8 154.6h3v1h-3zM571.0 157.6h3v1h-3zM571.0 158.6h3v1h-3zM576.9 159.6h3v1h-3zM636.0 159.6h3v1h-3zM579.8 160.6h3v1h-3zM576.9 162.6h3v1h-3zM639.0 162.6h3v1h-3zM618.3 165.6h3v1h-3zM633.0 165.6h3v1h-3zM639.0 166.6h3v1h-3zM639.0 167.6h3v1h-3zM565.0 170.6h3v1h-3zM618.3 170.6h3v1h-3zM573.9 172.6h3v1h-3zM618.3 172.6h3v1h-3zM624.2 172.6h3v1h-3zM559.1 173.6h3v1h-3zM568.0 173.6h3v1h-3zM562.1 175.6h3v1h-3zM621.2 176.6h3v1h-3zM562.1 177.6h3v1h-3zM568.0 177.6h3v1h-3zM573.9 177.6h3v1h-3zM562.1 178.6h3v1h-3zM618.3 179.6h3v1h-3zM627.1 179.6h3v1h-3zM547.3 181.6h3v1h-3zM624.2 181.6h3v1h-3zM677.4 183.6h3v1h-3zM615.3 184.6h3v1h-3zM624.2 184.6h3v1h-3zM630.1 184.6h3v1h-3zM562.1 185.6h3v1h-3zM624.2 185.6h3v1h-3zM627.1 186.6h3v1h-3zM609.4 188.6h3v1h-3zM568.0 191.6h3v1h-3zM621.2 191.6h3v1h-3zM547.3 193.6h3v1h-3zM606.4 193.6h3v1h-3zM621.2 193.6h3v1h-3zM624.2 193.6h3v1h-3zM627.1 196.6h3v1h-3zM627.1 197.6h3v1h-3zM636.0 197.6h3v1h-3zM556.2 199.6h3v1h-3zM553.2 200.6h3v1h-3zM624.2 201.6h3v1h-3zM556.2 202.6h3v1h-3zM621.2 202.6h3v1h-3zM627.1 203.6h3v1h-3zM547.3 204.6h3v1h-3zM550.3 205.6h3v1h-3zM594.6 205.6h3v1h-3zM547.3 206.6h3v1h-3zM597.6 208.5h3v1h-3zM624.2 208.5h3v1h-3zM615.3 210.5h3v1h-3zM624.2 210.5h3v1h-3zM547.3 211.5h3v1h-3zM606.4 211.5h3v1h-3zM609.4 213.5h3v1h-3zM553.2 217.5h3v1h-3zM597.6 217.5h3v1h-3zM618.3 217.5h3v1h-3zM680.3 217.5h3v1h-3zM594.6 221.5h3v1h-3zM618.3 222.5h3v1h-3zM680.3 223.5h3v1h-3zM568.0 225.5h3v1h-3zM615.3 225.5h3v1h-3zM674.4 225.5h3v1h-3zM606.4 231.5h3v1h-3zM677.4 232.5h3v1h-3zM606.4 234.5h3v1h-3zM677.4 235.5h3v1h-3zM618.3 236.5h3v1h-3zM668.5 238.5h3v1h-3zM606.4 239.5h3v1h-3zM609.4 239.5h3v1h-3zM594.6 242.5h3v1h-3zM603.5 243.5h3v1h-3zM662.6 244.5h3v1h-3zM597.6 245.5h3v1h-3zM600.5 245.5h3v1h-3zM668.5 247.5h3v1h-3zM659.6 248.5h3v1h-3zM582.8 250.5h3v1h-3zM609.4 250.5h3v1h-3zM588.7 253.5h3v1h-3zM591.6 254.5h3v1h-3zM588.7 257.5h3v1h-3zM662.6 257.5h3v1h-3zM585.7 258.5h3v1h-3zM582.8 260.5h3v1h-3zM665.6 260.5h3v1h-3zM665.6 261.5h3v1h-3zM653.7 263.5h3v1h-3zM582.8 264.5h3v1h-3zM653.7 266.5h3v1h-3zM588.7 267.5h3v1h-3zM582.8 269.5h3v1h-3zM591.6 269.5h3v1h-3zM650.8 269.5h3v1h-3zM582.8 270.5h3v1h-3z"/>
<path fill="#b6b6ff" d="M579.8 146.6h3v1h-3zM647.8 147.6h3v1h-3zM576.9 148.6h3v1h-3zM585.7 148.6h3v1h-3zM568.0 151.6h3v1h-3zM576.9 152.6h3v1h-3zM647.8 152.6h3v1h-3zM562.1 154.6h3v1h-3zM656.7 154.6h3v1h-3zM573.9 155.6h3v1h-3zM562.1 157.6h3v1h-3zM576.9 160.6h3v1h-3zM573.9 161.6h3v1h-3zM576.9 161.6h3v1h-3zM633.0 162.6h3v1h-3zM559.1 163.6h3v1h-3zM565.0 163.6h3v1h-3zM621.2 163.6h3v1h-3zM565.0 164.6h3v1h-3zM573.9 165.6h3v1h-3zM562.1 167.6h3v1h-3zM624.2 168.6h3v1h-3zM556.2 169.6h3v1h-3zM568.0 169.6h3v1h-3zM639.0 170.6h3v1h-3zM621.2 172.6h3v1h-3zM573.9 173.6h3v1h-3zM618.3 173.6h3v1h-3zM559.1 175.6h3v1h-3zM565.0 175.6h3v1h-3zM630.1 177.6h3v1h-3zM639.0 177.6h3v1h-3zM556.2 179.6h3v1h-3zM624.2 179.6h3v1h-3zM639.0 179.6h3v1h-3zM627.1 180.6h3v1h-3zM565.0 182.6h3v1h-3zM621.2 182.6h3v1h-3zM639.0 183.6h3v1h-3zM562.1 184.6h3v1h-3zM639.0 184.6h3v1h-3zM553.2 186.6h3v1h-3zM621.2 186.6h3v1h-3zM562.1 187.6h3v1h-3zM624.2 187.6h3v1h-3zM633.0 187.6h3v1h-3zM550.3 188.6h3v1h-3zM639.0 188.6h3v1h-3zM553.2 189.6h3v1h-3zM547.3 191.6h3v1h-3zM627.1 191.6h3v1h-3zM627.1 192.6h3v1h-3zM627.1 193.6h3v1h-3zM639.0 193.6h3v1h-3zM677.4 193.6h3v1h-3zM630.1 196.6h3v1h-3zM594.6 197.6h3v1h-3zM547.3 198.6h3v1h-3zM550.3 198.6h3v1h-3zM556.2 200.6h3v1h-3zM594.6 200.6h3v1h-3zM615.3 200.6h3v1h-3zM621.2 200.6h3v1h-3zM553.2 201.6h3v1h-3zM677.4 201.6h3v1h-3zM606.4 205.6h3v1h-3zM674.4 206.6h3v1h-3zM636.0 207.6h3v1h-3zM677.4 207.6h3v1h-3zM674.4 212.5h3v1h-3zM615.3 213.5h3v1h-3zM621.2 213.5h3v1h-3zM639.0 213.5h3v1h-3zM621.2 214.5h3v1h-3zM553.2 215.5h3v1h-3zM621.2 215.5h3v1h-3zM677.4 215.5h3v1h-3zM597.6 220.5h3v1h-3zM665.6 220.5h3v1h-3zM609.4 221.5h3v1h-3zM618.3 221.5h3v1h-3zM662.6 224.5h3v1h-3zM680.3 224.5h3v1h-3zM609.4 225.5h3v1h-3zM609.4 226.5h3v1h-3zM609.4 229.5h3v1h-3zM662.6 229.5h3v1h-3zM609.4 230.5h3v1h-3zM618.3 230.5h3v1h-3zM547.3 231.5h3v1h-3zM668.5 231.5h3v1h-3zM609.4 232.5h3v1h-3zM594.6 233.5h3v1h-3zM615.3 233.5h3v1h-3zM621.2 233.5h3v1h-3zM597.6 236.5h3v1h-3zM591.6 239.5h3v1h-3zM594.6 241.5h3v1h-3zM656.7 243.5h3v1h-3zM600.5 244.5h3v1h-3zM612.3 244.5h3v1h-3zM653.7 244.5h3v1h-3zM656.7 246.5h3v1h-3zM674.4 246.5h3v1h-3zM594.6 248.5h3v1h-3zM603.5 248.5h3v1h-3zM591.6 250.5h3v1h-3zM582.8 253.5h3v1h-3zM594.6 253.5h3v1h-3zM609.4 254.5h3v1h-3zM656.7 254.5h3v1h-3zM594.6 255.5h3v1h-3zM585.7 256.5h3v1h-3zM594.6 259.5h3v1h-3zM594.6 260.5h3v1h-3zM582.8 262.5h3v1h-3zM656.7 262.5h3v1h-3zM656.7 265.5h3v1h-3zM585.7 266.5h3v1h-3z"/>
<path fill="#bdbdff" d="M588.7 144.6h3v1h-3zM644.9 146.6h3v1h-3zM650.8 146.6h3v1h-3zM565.0 148.6h3v1h-3zM582.8 148.6h3v1h-3zM653.7 149.6h3v1h-3zM644.9 150.6h3v1h-3zM571.0 152.6h3v1h-3zM591.6 152.6h3v1h-3zM582.8 153.6h3v1h-3zM588.7 153.6h3v1h-3zM644.9 153.6h3v1h-3zM573.9 154.6h3v1h-3zM636.0 154.6h3v1h-3zM641.9 154.6h3v1h-3zM571.0 155.6h3v1h-3zM644.9 155.6h3v1h-3zM565.0 156.6h3v1h-3zM571.0 156.6h3v1h-3zM576.9 157.6h3v1h-3zM579.8 157.6h3v1h-3zM636.0 157.6h3v1h-3zM639.0 157.6h3v1h-3zM641.9 157.6h3v1h-3zM576.9 158.6h3v1h-3zM565.0 159.6h3v1h-3zM571.0 160.6h3v1h-3zM571.0 161.6h3v1h-3zM571.0 162.6h3v1h-3zM618.3 162.6h3v1h-3zM562.1 163.6h3v1h-3zM576.9 163.6h3v1h-3zM636.0 163.6h3v1h-3zM571.0 164.6h3v1h-3zM547.3 165.6h3v1h-3zM559.1 165.6h3v1h-3zM571.0 166.6h3v1h-3zM624.2 167.6h3v1h-3zM565.0 168.6h3v1h-3zM630.1 169.6h3v1h-3zM621.2 171.6h3v1h-3zM627.1 171.6h3v1h-3zM636.0 171.6h3v1h-3zM639.0 171.6h3v1h-3zM633.0 172.6h3v1h-3zM627.1 173.6h3v1h-3zM677.4 173.6h3v1h-3zM559.1 174.6h3v1h-3zM633.0 176.6h3v1h-3zM624.2 177.6h3v1h-3zM556.2 178.6h3v1h-3zM565.0 178.6h3v1h-3zM621.2 178.6h3v1h-3zM550.3 180.6h3v1h-3zM621.2 180.6h3v1h-3zM556.2 181.6h3v1h-3zM562.1 181.6h3v1h-3zM639.0 182.6h3v1h-3zM556.2 183.6h3v1h-3zM556.2 185.6h3v1h-3zM568.0 185.6h3v1h-3zM636.0 185.6h3v1h-3zM633.0 186.6h3v1h-3zM559.1 187.6h3v1h-3zM556.2 188.6h3v1h-3zM568.0 188.6h3v1h-3zM559.1 189.6h3v1h-3zM680.3 189.6h3v1h-3zM674.4 190.6h3v1h-3zM609.4 191.6h3v1h-3zM633.0 193.6h3v1h-3zM639.0 194.6h3v1h-3zM553.2 196.6h3v1h-3zM677.4 196.6h3v1h-3zM680.3 197.6h3v1h-3zM553.2 198.6h3v1h-3zM547.3 199.6h3v1h-3zM568.0 199.6h3v1h-3zM674.4 200.6h3v1h-3zM556.2 201.6h3v1h-3zM621.2 201.6h3v1h-3zM630.1 201.6h3v1h-3zM609.4 202.6h3v1h-3zM627.1 202.6h3v1h-3zM553.2 203.6h3v1h-3zM639.0 204.6h3v1h-3zM615.3 206.6h3v1h-3zM677.4 206.6h3v1h-3zM621.2 207.6h3v1h-3zM674.4 207.6h3v1h-3zM553.2 208.5h3v1h-3zM618.3 209.5h3v1h-3zM627.1 209.5h3v1h-3zM600.5 211.5h3v1h-3zM547.3 212.5h3v1h-3zM630.1 212.5h3v1h-3zM600.5 213.5h3v1h-3zM677.4 213.5h3v1h-3zM553.2 214.5h3v1h-3zM594.6 214.5h3v1h-3zM597.6 214.5h3v1h-3zM624.2 214.5h3v1h-3zM633.0 214.5h3v1h-3zM547.3 216.5h3v1h-3zM636.0 216.5h3v1h-3zM594.6 217.5h3v1h-3zM639.0 217.5h3v1h-3zM553.2 218.5h3v1h-3zM609.4 218.5h3v1h-3zM621.2 218.5h3v1h-3zM624.2 218.5h3v1h-3zM606.4 220.5h3v1h-3zM621.2 221.5h3v1h-3zM668.5 221.5h3v1h-3zM668.5 222.5h3v1h-3zM606.4 223.5h3v1h-3zM615.3 223.5h3v1h-3zM662.6 223.5h3v1h-3zM597.6 224.5h3v1h-3zM600.5 224.5h3v1h-3zM624.2 225.5h3v1h-3zM680.3 225.5h3v1h-3zM612.3 226.5h3v1h-3zM606.4 227.5h3v1h-3zM606.4 228.5h3v1h-3zM612.3 228.5h3v1h-3zM618.3 228.5h3v1h-3zM603.5 231.5h3v1h-3zM612.3 231.5h3v1h-3zM650.8 231.5h3v1h-3zM665.6 232.5h3v1h-3zM556.2 233.5h3v1h-3zM612.3 233.5h3v1h-3zM650.8 233.5h3v1h-3zM609.4 234.5h3v1h-3zM606.4 236.5h3v1h-3zM677.4 236.5h3v1h-3zM600.5 237.5h3v1h-3zM677.4 238.5h3v1h-3zM600.5 239.5h3v1h-3zM668.5 240.5h3v1h-3zM612.3 242.5h3v1h-3zM612.3 243.5h3v1h-3zM680.3 245.5h3v1h-3zM665.6 246.5h3v1h-3zM656.7 248.5h3v1h-3zM662.6 248.5h3v1h-3zM582.8 249.5h3v1h-3zM659.6 249.5h3v1h-3zM674.4 249.5h3v1h-3zM591.6 251.5h3v1h-3zM600.5 251.5h3v1h-3zM659.6 251.5h3v1h-3zM677.4 251.5h3v1h-3zM603.5 252.5h3v1h-3zM606.4 252.5h3v1h-3zM656.7 252.5h3v1h-3zM662.6 254.5h3v1h-3zM585.7 255.5h3v1h-3zM600.5 255.5h3v1h-3zM656.7 255.5h3v1h-3zM594.6 256.5h3v1h-3zM591.6 257.5h3v1h-3zM585.7 259.5h3v1h-3zM591.6 259.5h3v1h-3zM659.6 259.5h3v1h-3zM653.7 260.5h3v1h-3zM588.7 264.5h3v1h-3zM585.7 265.5h3v1h-3zM588.7 265.5h3v1h-3zM653.7 265.5h3v1h-3zM644.9 266.5h3v1h-3zM594.6 267.5h3v1h-3zM668.5 267.5h3v1h-3zM588.7 268.5h3v1h-3z"/>
<path fill="#c4c4ff" d="M582.8 144.6h3v1h-3zM582.8 145.6h3v1h-3zM582.8 146.6h3v1h-3zM636.0 147.6h3v1h-3zM653.7 147.6h3v1h-3zM571.0 148.6h3v1h-3zM579.8 148.6h3v1h-3zM559.1 149.6h3v1h-3zM641.9 149.6h3v1h-3zM565.0 150.6h3v1h-3zM641.9 150.6h3v1h-3zM576.9 151.6h3v1h-3zM656.7 152.6h3v1h-3zM559.1 153.6h3v1h-3zM650.8 153.6h3v1h-3zM559.1 155.6h3v1h-3zM576.9 155.6h3v1h-3zM618.3 156.6h3v1h-3zM565.0 157.6h3v1h-3zM641.9 158.6h3v1h-3zM647.8 159.6h3v1h-3zM565.0 160.6h3v1h-3zM641.9 160.6h3v1h-3zM565.0 161.6h3v1h-3zM641.9 162.6h3v1h-3zM568.0 163.6h3v1h-3zM573.9 164.6h3v1h-3zM639.0 165.6h3v1h-3zM565.0 166.6h3v1h-3zM624.2 166.6h3v1h-3zM559.1 167.6h3v1h-3zM565.0 167.6h3v1h-3zM621.2 167.6h3v1h-3zM562.1 168.6h3v1h-3zM627.1 168.6h3v1h-3zM573.9 169.6h3v1h-3zM579.8 170.6h3v1h-3zM624.2 170.6h3v1h-3zM562.1 171.6h3v1h-3zM579.8 171.6h3v1h-3zM630.1 172.6h3v1h-3zM609.4 173.6h3v1h-3zM636.0 173.6h3v1h-3zM562.1 174.6h3v1h-3zM639.0 174.6h3v1h-3zM621.2 175.6h3v1h-3zM633.0 175.6h3v1h-3zM639.0 175.6h3v1h-3zM624.2 176.6h3v1h-3zM550.3 177.6h3v1h-3zM556.2 177.6h3v1h-3zM636.0 177.6h3v1h-3zM627.1 178.6h3v1h-3zM553.2 180.6h3v1h-3zM556.2 180.6h3v1h-3zM565.0 180.6h3v1h-3zM568.0 180.6h3v1h-3zM633.0 180.6h3v1h-3zM550.3 181.6h3v1h-3zM568.0 181.6h3v1h-3zM609.4 181.6h3v1h-3zM627.1 181.6h3v1h-3zM627.1 182.6h3v1h-3zM636.0 182.6h3v1h-3zM547.3 183.6h3v1h-3zM553.2 183.6h3v1h-3zM621.2 183.6h3v1h-3zM636.0 184.6h3v1h-3zM547.3 185.6h3v1h-3zM547.3 186.6h3v1h-3zM639.0 186.6h3v1h-3zM680.3 186.6h3v1h-3zM547.3 187.6h3v1h-3zM550.3 187.6h3v1h-3zM639.0 187.6h3v1h-3zM547.3 188.6h3v1h-3zM553.2 188.6h3v1h-3zM680.3 188.6h3v1h-3zM547.3 189.6h3v1h-3zM618.3 189.6h3v1h-3zM556.2 190.6h3v1h-3zM677.4 190.6h3v1h-3zM556.2 191.6h3v1h-3zM556.2 192.6h3v1h-3zM674.4 192.6h3v1h-3zM550.3 194.6h3v1h-3zM565.0 194.6h3v1h-3zM624.2 194.6h3v1h-3zM639.0 195.6h3v1h-3zM556.2 196.6h3v1h-3zM621.2 196.6h3v1h-3zM639.0 197.6h3v1h-3zM621.2 198.6h3v1h-3zM674.4 198.6h3v1h-3zM615.3 199.6h3v1h-3zM624.2 199.6h3v1h-3zM627.1 199.6h3v1h-3zM674.4 199.6h3v1h-3zM547.3 200.6h3v1h-3zM594.6 201.6h3v1h-3zM665.6 201.6h3v1h-3zM615.3 202.6h3v1h-3zM639.0 202.6h3v1h-3zM674.4 202.6h3v1h-3zM553.2 204.6h3v1h-3zM680.3 204.6h3v1h-3zM627.1 205.6h3v1h-3zM556.2 206.6h3v1h-3zM606.4 207.6h3v1h-3zM633.0 207.6h3v1h-3zM547.3 208.5h3v1h-3zM636.0 208.5h3v1h-3zM624.2 209.5h3v1h-3zM621.2 211.5h3v1h-3zM630.1 211.5h3v1h-3zM680.3 211.5h3v1h-3zM621.2 212.5h3v1h-3zM556.2 213.5h3v1h-3zM594.6 213.5h3v1h-3zM630.1 213.5h3v1h-3zM680.3 213.5h3v1h-3zM556.2 214.5h3v1h-3zM597.6 216.5h3v1h-3zM609.4 216.5h3v1h-3zM621.2 216.5h3v1h-3zM674.4 216.5h3v1h-3zM550.3 217.5h3v1h-3zM603.5 217.5h3v1h-3zM609.4 217.5h3v1h-3zM630.1 217.5h3v1h-3zM636.0 217.5h3v1h-3zM594.6 218.5h3v1h-3zM674.4 218.5h3v1h-3zM556.2 219.5h3v1h-3zM621.2 219.5h3v1h-3zM553.2 220.5h3v1h-3zM597.6 221.5h3v1h-3zM677.4 221.5h3v1h-3zM606.4 222.5h3v1h-3zM624.2 222.5h3v1h-3zM662.6 222.5h3v1h-3zM680.3 222.5h3v1h-3zM603.5 223.5h3v1h-3zM668.5 223.5h3v1h-3zM677.4 223.5h3v1h-3zM603.5 224.5h3v1h-3zM630.1 224.5h3v1h-3zM671.5 224.5h3v1h-3zM597.6 225.5h3v1h-3zM665.6 225.5h3v1h-3zM671.5 225.5h3v1h-3zM677.4 225.5h3v1h-3zM615.3 227.5h3v1h-3zM677.4 227.5h3v1h-3zM594.6 228.5h3v1h-3zM615.3 230.5h3v1h-3zM665.6 230.5h3v1h-3zM618.3 231.5h3v1h-3zM677.4 231.5h3v1h-3zM597.6 232.5h3v1h-3zM603.5 232.5h3v1h-3zM665.6 234.5h3v1h-3zM612.3 235.5h3v1h-3zM615.3 235.5h3v1h-3zM556.2 236.5h3v1h-3zM624.2 236.5h3v1h-3zM674.4 236.5h3v1h-3zM597.6 237.5h3v1h-3zM665.6 237.5h3v1h-3zM609.4 238.5h3v1h-3zM653.7 238.5h3v1h-3zM656.7 239.5h3v1h-3zM671.5 239.5h3v1h-3zM609.4 240.5h3v1h-3zM615.3 240.5h3v1h-3zM600.5 241.5h3v1h-3zM668.5 242.5h3v1h-3zM624.2 243.5h3v1h-3zM665.6 243.5h3v1h-3zM582.8 244.5h3v1h-3zM674.4 244.5h3v1h-3zM668.5 245.5h3v1h-3zM594.6 246.5h3v1h-3zM671.5 246.5h3v1h-3zM612.3 247.5h3v1h-3zM609.4 248.5h3v1h-3zM674.4 248.5h3v1h-3zM597.6 249.5h3v1h-3zM677.4 249.5h3v1h-3zM603.5 250.5h3v1h-3zM612.3 250.5h3v1h-3zM671.5 250.5h3v1h-3zM585.7 251.5h3v1h-3zM650.8 251.5h3v1h-3zM591.6 252.5h3v1h-3zM585.7 253.5h3v1h-3zM600.5 253.5h3v1h-3zM659.6 253.5h3v1h-3zM594.6 254.5h3v1h-3zM588.7 255.5h3v1h-3zM597.6 255.5h3v1h-3zM612.3 255.5h3v1h-3zM665.6 255.5h3v1h-3zM653.7 256.5h3v1h-3zM659.6 256.5h3v1h-3zM656.7 258.5h3v1h-3zM582.8 259.5h3v1h-3zM659.6 262.5h3v1h-3zM600.5 264.5h3v1h-3zM650.8 265.5h3v1h-3zM665.6 265.5h3v1h-3zM662.6 266.5h3v1h-3zM671.5 266.5h3v1h-3zM591.6 267.5h3v1h-3zM659.6 267.5h3v1h-3zM650.8 268.5h3v1h-3zM665.6 270.5h3v1h-3z"/>
<path fill="#ccccff" d="M571.0 144.6h3v1h-3zM579.8 144.6h3v1h-3zM641.9 144.6h3v1h-3zM591.6 145.6h3v1h-3zM633.0 145.6h3v1h-3zM636.0 145.6h3v1h-3zM562.1 146.6h3v1h-3zM633.0 146.6h3v1h-3zM647.8 146.6h3v1h-3zM579.8 147.6h3v1h-3zM591.6 148.6h3v1h-3zM641.9 148.6h3v1h-3zM644.9 148.6h3v1h-3zM571.0 149.6h3v1h-3zM559.1 150.6h3v1h-3zM562.1 150.6h3v1h-3zM588.7 150.6h3v1h-3zM630.1 150.6h3v1h-3zM573.9 151.6h3v1h-3zM639.0 152.6h3v1h-3zM644.9 152.6h3v1h-3zM653.7 152.6h3v1h-3zM565.0 153.6h3v1h-3zM639.0 153.6h3v1h-3zM641.9 153.6h3v1h-3zM647.8 153.6h3v1h-3zM582.8 154.6h3v1h-3zM591.6 154.6h3v1h-3zM579.8 156.6h3v1h-3zM641.9 156.6h3v1h-3zM647.8 156.6h3v1h-3zM647.8 157.6h3v1h-3zM550.3 158.6h3v1h-3zM559.1 158.6h3v1h-3zM582.8 158.6h3v1h-3zM630.1 158.6h3v1h-3zM644.9 158.6h3v1h-3zM591.6 159.6h3v1h-3zM659.6 159.6h3v1h-3zM559.1 160.6h3v1h-3zM636.0 160.6h3v1h-3zM639.0 160.6h3v1h-3zM644.9 160.6h3v1h-3zM641.9 161.6h3v1h-3zM644.9 161.6h3v1h-3zM553.2 162.6h3v1h-3zM562.1 164.6h3v1h-3zM639.0 164.6h3v1h-3zM553.2 165.6h3v1h-3zM571.0 165.6h3v1h-3zM636.0 165.6h3v1h-3zM576.9 166.6h3v1h-3zM559.1 168.6h3v1h-3zM641.9 168.6h3v1h-3zM553.2 169.6h3v1h-3zM624.2 169.6h3v1h-3zM562.1 170.6h3v1h-3zM573.9 170.6h3v1h-3zM633.0 170.6h3v1h-3zM556.2 171.6h3v1h-3zM559.1 171.6h3v1h-3zM573.9 171.6h3v1h-3zM550.3 172.6h3v1h-3zM553.2 172.6h3v1h-3zM559.1 172.6h3v1h-3zM636.0 172.6h3v1h-3zM556.2 173.6h3v1h-3zM579.8 173.6h3v1h-3zM553.2 175.6h3v1h-3zM573.9 175.6h3v1h-3zM680.3 175.6h3v1h-3zM553.2 176.6h3v1h-3zM562.1 176.6h3v1h-3zM565.0 176.6h3v1h-3zM573.9 176.6h3v1h-3zM553.2 177.6h3v1h-3zM559.1 177.6h3v1h-3zM639.0 178.6h3v1h-3zM565.0 179.6h3v1h-3zM553.2 181.6h3v1h-3zM630.1 181.6h3v1h-3zM633.0 182.6h3v1h-3zM559.1 183.6h3v1h-3zM562.1 183.6h3v1h-3zM609.4 183.6h3v1h-3zM553.2 184.6h3v1h-3zM612.3 184.6h3v1h-3zM627.1 184.6h3v1h-3zM633.0 184.6h3v1h-3zM550.3 185.6h3v1h-3zM609.4 185.6h3v1h-3zM568.0 186.6h3v1h-3zM630.1 186.6h3v1h-3zM644.9 186.6h3v1h-3zM677.4 186.6h3v1h-3zM553.2 187.6h3v1h-3zM568.0 187.6h3v1h-3zM615.3 187.6h3v1h-3zM677.4 188.6h3v1h-3zM547.3 190.6h3v1h-3zM568.0 190.6h3v1h-3zM621.2 190.6h3v1h-3zM627.1 190.6h3v1h-3zM636.0 190.6h3v1h-3zM639.0 190.6h3v1h-3zM624.2 191.6h3v1h-3zM630.1 191.6h3v1h-3zM677.4 191.6h3v1h-3zM621.2 194.6h3v1h-3zM553.2 195.6h3v1h-3zM621.2 195.6h3v1h-3zM627.1 195.6h3v1h-3zM562.1 196.6h3v1h-3zM639.0 196.6h3v1h-3zM674.4 196.6h3v1h-3zM553.2 197.6h3v1h-3zM609.4 197.6h3v1h-3zM621.2 197.6h3v1h-3zM677.4 197.6h3v1h-3zM630.1 198.6h3v1h-3zM636.0 199.6h3v1h-3zM671.5 200.6h3v1h-3zM550.3 201.6h3v1h-3zM680.3 201.6h3v1h-3zM636.0 202.6h3v1h-3zM547.3 203.6h3v1h-3zM609.4 203.6h3v1h-3zM612.3 203.6h3v1h-3zM606.4 204.6h3v1h-3zM609.4 204.6h3v1h-3zM627.1 204.6h3v1h-3zM553.2 205.6h3v1h-3zM559.1 205.6h3v1h-3zM615.3 205.6h3v1h-3zM630.1 205.6h3v1h-3zM553.2 206.6h3v1h-3zM612.3 206.6h3v1h-3zM615.3 207.6h3v1h-3zM627.1 207.6h3v1h-3zM680.3 207.6h3v1h-3zM630.1 208.5h3v1h-3zM671.5 208.5h3v1h-3zM606.4 209.5h3v1h-3zM677.4 209.5h3v1h-3zM674.4 210.5h3v1h-3zM609.4 211.5h3v1h-3zM627.1 211.5h3v1h-3zM553.2 212.5h3v1h-3zM677.4 212.5h3v1h-3zM550.3 213.5h3v1h-3zM606.4 214.5h3v1h-3zM680.3 214.5h3v1h-3zM547.3 215.5h3v1h-3zM565.0 215.5h3v1h-3zM597.6 215.5h3v1h-3zM680.3 215.5h3v1h-3zM633.0 216.5h3v1h-3zM662.6 216.5h3v1h-3zM677.4 216.5h3v1h-3zM612.3 217.5h3v1h-3zM665.6 217.5h3v1h-3zM565.0 218.5h3v1h-3zM674.4 219.5h3v1h-3zM677.4 220.5h3v1h-3zM665.6 221.5h3v1h-3zM680.3 221.5h3v1h-3zM671.5 222.5h3v1h-3zM624.2 223.5h3v1h-3zM674.4 223.5h3v1h-3zM612.3 224.5h3v1h-3zM665.6 224.5h3v1h-3zM553.2 225.5h3v1h-3zM600.5 225.5h3v1h-3zM606.4 226.5h3v1h-3zM618.3 226.5h3v1h-3zM671.5 226.5h3v1h-3zM680.3 226.5h3v1h-3zM627.1 227.5h3v1h-3zM674.4 227.5h3v1h-3zM597.6 229.5h3v1h-3zM674.4 229.5h3v1h-3zM600.5 230.5h3v1h-3zM612.3 230.5h3v1h-3zM627.1 230.5h3v1h-3zM671.5 230.5h3v1h-3zM615.3 231.5h3v1h-3zM621.2 231.5h3v1h-3zM680.3 231.5h3v1h-3zM671.5 232.5h3v1h-3zM597.6 233.5h3v1h-3zM677.4 233.5h3v1h-3zM597.6 234.5h3v1h-3zM603.5 234.5h3v1h-3zM618.3 235.5h3v1h-3zM671.5 235.5h3v1h-3zM665.6 236.5h3v1h-3zM671.5 236.5h3v1h-3zM612.3 237.5h3v1h-3zM653.7 237.5h3v1h-3zM674.4 237.5h3v1h-3zM588.7 238.5h3v1h-3zM597.6 238.5h3v1h-3zM603.5 239.5h3v1h-3zM621.2 239.5h3v1h-3zM597.6 240.5h3v1h-3zM600.5 240.5h3v1h-3zM674.4 240.5h3v1h-3zM609.4 241.5h3v1h-3zM612.3 241.5h3v1h-3zM556.2 242.5h3v1h-3zM609.4 242.5h3v1h-3zM588.7 243.5h3v1h-3zM650.8 243.5h3v1h-3zM585.7 244.5h3v1h-3zM591.6 244.5h3v1h-3zM603.5 244.5h3v1h-3zM606.4 244.5h3v1h-3zM668.5 244.5h3v1h-3zM677.4 244.5h3v1h-3zM582.8 245.5h3v1h-3zM585.7 245.5h3v1h-3zM588.7 245.5h3v1h-3zM594.6 245.5h3v1h-3zM615.3 245.5h3v1h-3zM659.6 245.5h3v1h-3zM662.6 245.5h3v1h-3zM582.8 246.5h3v1h-3zM585.7 246.5h3v1h-3zM597.6 246.5h3v1h-3zM600.5 246.5h3v1h-3zM680.3 246.5h3v1h-3zM582.8 248.5h3v1h-3zM585.7 248.5h3v1h-3zM653.7 248.5h3v1h-3zM671.5 248.5h3v1h-3zM591.6 249.5h3v1h-3zM665.6 249.5h3v1h-3zM588.7 250.5h3v1h-3zM594.6 250.5h3v1h-3zM597.6 250.5h3v1h-3zM606.4 250.5h3v1h-3zM665.6 251.5h3v1h-3zM585.7 252.5h3v1h-3zM650.8 252.5h3v1h-3zM603.5 253.5h3v1h-3zM650.8 253.5h3v1h-3zM600.5 254.5h3v1h-3zM674.4 254.5h3v1h-3zM582.8 255.5h3v1h-3zM591.6 255.5h3v1h-3zM653.7 255.5h3v1h-3zM659.6 255.5h3v1h-3zM662.6 255.5h3v1h-3zM668.5 255.5h3v1h-3zM671.5 255.5h3v1h-3zM573.9 256.5h3v1h-3zM600.5 256.5h3v1h-3zM591.6 258.5h3v1h-3zM668.5 258.5h3v1h-3zM588.7 259.5h3v1h-3zM591.6 261.5h3v1h-3zM594.6 261.5h3v1h-3zM600.5 261.5h3v1h-3zM585.7 262.5h3v1h-3zM585.7 263.5h3v1h-3zM650.8 263.5h3v1h-3zM671.5 263.5h3v1h-3zM594.6 264.5h3v1h-3zM668.5 264.5h3v1h-3zM647.8 265.5h3v1h-3zM662.6 265.5h3v1h-3zM597.6 266.5h3v1h-3zM656.7 266.5h3v1h-3zM668.5 266.5h3v1h-3zM600.5 267.5h3v1h-3zM671.5 267.5h3v1h-3zM653.7 269.5h3v1h-3zM588.7 270.5h3v1h-3zM653.7 270.5h3v1h-3zM656.7 270.5h3v1h-3z"/>
<path fill="#d3d3ff" d="M559.1 144.6h3v1h-3zM585.7 144.6h3v1h-3zM636.0 144.6h3v1h-3zM559.1 145.6h3v1h-3zM647.8 145.6h3v1h-3zM559.1 146.6h3v1h-3zM653.7 146.6h3v1h-3zM573.9 147.6h3v1h-3zM585.7 147.6h3v1h-3zM656.7 147.6h3v1h-3zM559.1 148.6h3v1h-3zM573.9 148.6h3v1h-3zM588.7 148.6h3v1h-3zM650.8 148.6h3v1h-3zM656.7 148.6h3v1h-3zM579.8 149.6h3v1h-3zM630.1 151.6h3v1h-3zM656.7 151.6h3v1h-3zM562.1 152.6h3v1h-3zM633.0 152.6h3v1h-3zM641.9 152.6h3v1h-3zM650.8 152.6h3v1h-3zM659.6 152.6h3v1h-3zM633.0 153.6h3v1h-3zM636.0 153.6h3v1h-3zM656.7 153.6h3v1h-3zM565.0 154.6h3v1h-3zM630.1 154.6h3v1h-3zM639.0 154.6h3v1h-3zM633.0 155.6h3v1h-3zM636.0 155.6h3v1h-3zM641.9 155.6h3v1h-3zM591.6 156.6h3v1h-3zM639.0 156.6h3v1h-3zM573.9 160.6h3v1h-3zM618.3 160.6h3v1h-3zM633.0 160.6h3v1h-3zM639.0 161.6h3v1h-3zM659.6 161.6h3v1h-3zM621.2 162.6h3v1h-3zM624.2 162.6h3v1h-3zM630.1 162.6h3v1h-3zM618.3 163.6h3v1h-3zM624.2 163.6h3v1h-3zM639.0 163.6h3v1h-3zM553.2 164.6h3v1h-3zM559.1 164.6h3v1h-3zM618.3 164.6h3v1h-3zM624.2 164.6h3v1h-3zM562.1 165.6h3v1h-3zM641.9 165.6h3v1h-3zM573.9 166.6h3v1h-3zM547.3 167.6h3v1h-3zM636.0 167.6h3v1h-3zM573.9 168.6h3v1h-3zM633.0 168.6h3v1h-3zM639.0 168.6h3v1h-3zM547.3 169.6h3v1h-3zM550.3 169.6h3v1h-3zM559.1 169.6h3v1h-3zM565.0 169.6h3v1h-3zM621.2 169.6h3v1h-3zM550.3 170.6h3v1h-3zM644.9 170.6h3v1h-3zM565.0 171.6h3v1h-3zM674.4 171.6h3v1h-3zM627.1 172.6h3v1h-3zM630.1 173.6h3v1h-3zM644.9 173.6h3v1h-3zM550.3 174.6h3v1h-3zM556.2 174.6h3v1h-3zM612.3 174.6h3v1h-3zM612.3 175.6h3v1h-3zM674.4 175.6h3v1h-3zM677.4 175.6h3v1h-3zM615.3 176.6h3v1h-3zM627.1 176.6h3v1h-3zM618.3 177.6h3v1h-3zM621.2 177.6h3v1h-3zM680.3 177.6h3v1h-3zM550.3 178.6h3v1h-3zM553.2 178.6h3v1h-3zM618.3 178.6h3v1h-3zM547.3 180.6h3v1h-3zM559.1 181.6h3v1h-3zM680.3 181.6h3v1h-3zM556.2 182.6h3v1h-3zM568.0 182.6h3v1h-3zM568.0 183.6h3v1h-3zM627.1 183.6h3v1h-3zM556.2 184.6h3v1h-3zM565.0 186.6h3v1h-3zM609.4 186.6h3v1h-3zM636.0 186.6h3v1h-3zM621.2 187.6h3v1h-3zM559.1 188.6h3v1h-3zM624.2 188.6h3v1h-3zM562.1 189.6h3v1h-3zM568.0 189.6h3v1h-3zM624.2 189.6h3v1h-3zM639.0 189.6h3v1h-3zM677.4 189.6h3v1h-3zM612.3 190.6h3v1h-3zM624.2 190.6h3v1h-3zM630.1 192.6h3v1h-3zM565.0 193.6h3v1h-3zM568.0 193.6h3v1h-3zM680.3 193.6h3v1h-3zM547.3 194.6h3v1h-3zM559.1 194.6h3v1h-3zM615.3 194.6h3v1h-3zM633.0 194.6h3v1h-3zM677.4 194.6h3v1h-3zM556.2 195.6h3v1h-3zM565.0 195.6h3v1h-3zM550.3 196.6h3v1h-3zM615.3 196.6h3v1h-3zM562.1 198.6h3v1h-3zM615.3 198.6h3v1h-3zM606.4 199.6h3v1h-3zM612.3 199.6h3v1h-3zM677.4 199.6h3v1h-3zM627.1 200.6h3v1h-3zM636.0 200.6h3v1h-3zM606.4 202.6h3v1h-3zM615.3 203.6h3v1h-3zM630.1 203.6h3v1h-3zM674.4 203.6h3v1h-3zM556.2 204.6h3v1h-3zM615.3 204.6h3v1h-3zM556.2 205.6h3v1h-3zM597.6 206.6h3v1h-3zM633.0 206.6h3v1h-3zM665.6 206.6h3v1h-3zM547.3 207.6h3v1h-3zM639.0 207.6h3v1h-3zM665.6 207.6h3v1h-3zM639.0 208.5h3v1h-3zM621.2 209.5h3v1h-3zM674.4 209.5h3v1h-3zM565.0 211.5h3v1h-3zM624.2 211.5h3v1h-3zM603.5 212.5h3v1h-3zM615.3 212.5h3v1h-3zM606.4 213.5h3v1h-3zM559.1 214.5h3v1h-3zM550.3 215.5h3v1h-3zM609.4 215.5h3v1h-3zM639.0 215.5h3v1h-3zM668.5 215.5h3v1h-3zM594.6 216.5h3v1h-3zM624.2 217.5h3v1h-3zM662.6 217.5h3v1h-3zM597.6 218.5h3v1h-3zM671.5 219.5h3v1h-3zM547.3 220.5h3v1h-3zM633.0 220.5h3v1h-3zM547.3 221.5h3v1h-3zM568.0 221.5h3v1h-3zM606.4 221.5h3v1h-3zM630.1 221.5h3v1h-3zM633.0 221.5h3v1h-3zM600.5 222.5h3v1h-3zM609.4 222.5h3v1h-3zM615.3 222.5h3v1h-3zM556.2 223.5h3v1h-3zM594.6 223.5h3v1h-3zM612.3 223.5h3v1h-3zM609.4 224.5h3v1h-3zM603.5 225.5h3v1h-3zM594.6 226.5h3v1h-3zM597.6 226.5h3v1h-3zM615.3 226.5h3v1h-3zM603.5 227.5h3v1h-3zM621.2 227.5h3v1h-3zM668.5 227.5h3v1h-3zM582.8 228.5h3v1h-3zM609.4 228.5h3v1h-3zM621.2 228.5h3v1h-3zM650.8 228.5h3v1h-3zM677.4 228.5h3v1h-3zM556.2 229.5h3v1h-3zM600.5 229.5h3v1h-3zM653.7 229.5h3v1h-3zM668.5 229.5h3v1h-3zM621.2 230.5h3v1h-3zM674.4 230.5h3v1h-3zM556.2 231.5h3v1h-3zM624.2 231.5h3v1h-3zM618.3 232.5h3v1h-3zM603.5 233.5h3v1h-3zM606.4 233.5h3v1h-3zM594.6 234.5h3v1h-3zM609.4 235.5h3v1h-3zM662.6 235.5h3v1h-3zM609.4 236.5h3v1h-3zM659.6 236.5h3v1h-3zM603.5 237.5h3v1h-3zM582.8 238.5h3v1h-3zM621.2 238.5h3v1h-3zM656.7 238.5h3v1h-3zM556.2 239.5h3v1h-3zM591.6 240.5h3v1h-3zM603.5 240.5h3v1h-3zM671.5 240.5h3v1h-3zM588.7 242.5h3v1h-3zM600.5 242.5h3v1h-3zM603.5 242.5h3v1h-3zM659.6 242.5h3v1h-3zM600.5 243.5h3v1h-3zM609.4 244.5h3v1h-3zM680.3 244.5h3v1h-3zM591.6 245.5h3v1h-3zM650.8 245.5h3v1h-3zM656.7 245.5h3v1h-3zM612.3 246.5h3v1h-3zM653.7 246.5h3v1h-3zM662.6 246.5h3v1h-3zM591.6 247.5h3v1h-3zM585.7 249.5h3v1h-3zM600.5 250.5h3v1h-3zM650.8 250.5h3v1h-3zM656.7 250.5h3v1h-3zM594.6 251.5h3v1h-3zM615.3 251.5h3v1h-3zM671.5 251.5h3v1h-3zM594.6 252.5h3v1h-3zM600.5 252.5h3v1h-3zM668.5 252.5h3v1h-3zM615.3 253.5h3v1h-3zM585.7 254.5h3v1h-3zM659.6 254.5h3v1h-3zM665.6 256.5h3v1h-3zM674.4 256.5h3v1h-3zM603.5 257.5h3v1h-3zM665.6 257.5h3v1h-3zM671.5 257.5h3v1h-3zM659.6 258.5h3v1h-3zM600.5 259.5h3v1h-3zM653.7 259.5h3v1h-3zM668.5 259.5h3v1h-3zM588.7 260.5h3v1h-3zM591.6 260.5h3v1h-3zM662.6 260.5h3v1h-3zM571.0 261.5h3v1h-3zM662.6 261.5h3v1h-3zM671.5 262.5h3v1h-3zM668.5 265.5h3v1h-3zM591.6 266.5h3v1h-3zM665.6 266.5h3v1h-3zM653.7 267.5h3v1h-3zM594.6 268.5h3v1h-3zM585.7 269.5h3v1h-3zM588.7 269.5h3v1h-3zM656.7 269.5h3v1h-3zM668.5 270.5h3v1h-3z"/>
<path fill="#dadaff" d="M630.1 145.6h3v1h-3zM653.7 145.6h3v1h-3zM624.2 146.6h3v1h-3zM656.7 146.6h3v1h-3zM582.8 147.6h3v1h-3zM573.9 149.6h3v1h-3zM588.7 149.6h3v1h-3zM639.0 149.6h3v1h-3zM573.9 150.6h3v1h-3zM582.8 150.6h3v1h-3zM636.0 150.6h3v1h-3zM650.8 150.6h3v1h-3zM650.8 151.6h3v1h-3zM630.1 152.6h3v1h-3zM636.0 152.6h3v1h-3zM653.7 153.6h3v1h-3zM644.9 154.6h3v1h-3zM650.8 154.6h3v1h-3zM588.7 155.6h3v1h-3zM573.9 157.6h3v1h-3zM562.1 158.6h3v1h-3zM579.8 158.6h3v1h-3zM627.1 158.6h3v1h-3zM639.0 158.6h3v1h-3zM624.2 159.6h3v1h-3zM674.4 159.6h3v1h-3zM562.1 161.6h3v1h-3zM621.2 161.6h3v1h-3zM568.0 162.6h3v1h-3zM573.9 162.6h3v1h-3zM579.8 163.6h3v1h-3zM576.9 164.6h3v1h-3zM579.8 164.6h3v1h-3zM621.2 164.6h3v1h-3zM647.8 164.6h3v1h-3zM556.2 165.6h3v1h-3zM627.1 165.6h3v1h-3zM559.1 166.6h3v1h-3zM562.1 166.6h3v1h-3zM621.2 166.6h3v1h-3zM677.4 166.6h3v1h-3zM556.2 167.6h3v1h-3zM568.0 167.6h3v1h-3zM615.3 167.6h3v1h-3zM647.8 167.6h3v1h-3zM579.8 168.6h3v1h-3zM647.8 168.6h3v1h-3zM579.8 169.6h3v1h-3zM630.1 170.6h3v1h-3zM636.0 170.6h3v1h-3zM553.2 171.6h3v1h-3zM612.3 171.6h3v1h-3zM630.1 171.6h3v1h-3zM633.0 171.6h3v1h-3zM647.8 171.6h3v1h-3zM647.8 172.6h3v1h-3zM550.3 173.6h3v1h-3zM576.9 173.6h3v1h-3zM639.0 173.6h3v1h-3zM641.9 173.6h3v1h-3zM680.3 173.6h3v1h-3zM547.3 174.6h3v1h-3zM565.0 174.6h3v1h-3zM633.0 174.6h3v1h-3zM680.3 174.6h3v1h-3zM568.0 175.6h3v1h-3zM547.3 176.6h3v1h-3zM556.2 176.6h3v1h-3zM606.4 178.6h3v1h-3zM559.1 179.6h3v1h-3zM633.0 179.6h3v1h-3zM636.0 179.6h3v1h-3zM559.1 180.6h3v1h-3zM677.4 181.6h3v1h-3zM562.1 182.6h3v1h-3zM630.1 182.6h3v1h-3zM565.0 183.6h3v1h-3zM606.4 183.6h3v1h-3zM633.0 183.6h3v1h-3zM636.0 183.6h3v1h-3zM547.3 184.6h3v1h-3zM559.1 184.6h3v1h-3zM594.6 185.6h3v1h-3zM612.3 185.6h3v1h-3zM621.2 185.6h3v1h-3zM674.4 187.6h3v1h-3zM680.3 187.6h3v1h-3zM674.4 188.6h3v1h-3zM556.2 189.6h3v1h-3zM550.3 190.6h3v1h-3zM553.2 190.6h3v1h-3zM553.2 191.6h3v1h-3zM559.1 191.6h3v1h-3zM674.4 191.6h3v1h-3zM547.3 192.6h3v1h-3zM568.0 192.6h3v1h-3zM559.1 193.6h3v1h-3zM636.0 193.6h3v1h-3zM674.4 193.6h3v1h-3zM609.4 195.6h3v1h-3zM615.3 195.6h3v1h-3zM624.2 195.6h3v1h-3zM636.0 195.6h3v1h-3zM559.1 196.6h3v1h-3zM609.4 196.6h3v1h-3zM636.0 196.6h3v1h-3zM547.3 197.6h3v1h-3zM550.3 197.6h3v1h-3zM559.1 197.6h3v1h-3zM606.4 197.6h3v1h-3zM612.3 197.6h3v1h-3zM630.1 197.6h3v1h-3zM662.6 197.6h3v1h-3zM609.4 198.6h3v1h-3zM627.1 198.6h3v1h-3zM680.3 198.6h3v1h-3zM550.3 199.6h3v1h-3zM559.1 199.6h3v1h-3zM665.6 199.6h3v1h-3zM562.1 200.6h3v1h-3zM630.1 200.6h3v1h-3zM677.4 200.6h3v1h-3zM562.1 201.6h3v1h-3zM565.0 201.6h3v1h-3zM612.3 201.6h3v1h-3zM674.4 201.6h3v1h-3zM550.3 202.6h3v1h-3zM606.4 203.6h3v1h-3zM624.2 203.6h3v1h-3zM559.1 204.6h3v1h-3zM674.4 204.6h3v1h-3zM636.0 205.6h3v1h-3zM550.3 206.6h3v1h-3zM621.2 206.6h3v1h-3zM597.6 207.6h3v1h-3zM671.5 207.6h3v1h-3zM612.3 208.5h3v1h-3zM615.3 208.5h3v1h-3zM680.3 208.5h3v1h-3zM547.3 209.5h3v1h-3zM550.3 209.5h3v1h-3zM671.5 209.5h3v1h-3zM680.3 209.5h3v1h-3zM547.3 210.5h3v1h-3zM550.3 210.5h3v1h-3zM568.0 210.5h3v1h-3zM609.4 210.5h3v1h-3zM612.3 210.5h3v1h-3zM597.6 211.5h3v1h-3zM639.0 211.5h3v1h-3zM606.4 212.5h3v1h-3zM624.2 212.5h3v1h-3zM639.0 212.5h3v1h-3zM665.6 212.5h3v1h-3zM671.5 212.5h3v1h-3zM547.3 213.5h3v1h-3zM588.7 213.5h3v1h-3zM662.6 213.5h3v1h-3zM665.6 213.5h3v1h-3zM671.5 213.5h3v1h-3zM550.3 214.5h3v1h-3zM612.3 214.5h3v1h-3zM615.3 214.5h3v1h-3zM665.6 214.5h3v1h-3zM556.2 215.5h3v1h-3zM630.1 215.5h3v1h-3zM633.0 215.5h3v1h-3zM606.4 216.5h3v1h-3zM668.5 216.5h3v1h-3zM606.4 218.5h3v1h-3zM615.3 218.5h3v1h-3zM630.1 218.5h3v1h-3zM609.4 219.5h3v1h-3zM615.3 219.5h3v1h-3zM674.4 220.5h3v1h-3zM553.2 221.5h3v1h-3zM588.7 221.5h3v1h-3zM600.5 221.5h3v1h-3zM603.5 221.5h3v1h-3zM615.3 221.5h3v1h-3zM627.1 221.5h3v1h-3zM559.1 222.5h3v1h-3zM612.3 222.5h3v1h-3zM674.4 222.5h3v1h-3zM677.4 222.5h3v1h-3zM547.3 223.5h3v1h-3zM562.1 223.5h3v1h-3zM609.4 223.5h3v1h-3zM627.1 223.5h3v1h-3zM606.4 224.5h3v1h-3zM636.0 224.5h3v1h-3zM585.7 225.5h3v1h-3zM606.4 225.5h3v1h-3zM624.2 226.5h3v1h-3zM547.3 227.5h3v1h-3zM550.3 227.5h3v1h-3zM556.2 227.5h3v1h-3zM618.3 227.5h3v1h-3zM624.2 227.5h3v1h-3zM671.5 227.5h3v1h-3zM615.3 228.5h3v1h-3zM665.6 228.5h3v1h-3zM547.3 229.5h3v1h-3zM612.3 229.5h3v1h-3zM615.3 229.5h3v1h-3zM597.6 230.5h3v1h-3zM659.6 230.5h3v1h-3zM662.6 230.5h3v1h-3zM597.6 231.5h3v1h-3zM665.6 231.5h3v1h-3zM594.6 232.5h3v1h-3zM612.3 232.5h3v1h-3zM615.3 232.5h3v1h-3zM621.2 232.5h3v1h-3zM668.5 232.5h3v1h-3zM609.4 233.5h3v1h-3zM671.5 233.5h3v1h-3zM674.4 233.5h3v1h-3zM680.3 233.5h3v1h-3zM594.6 235.5h3v1h-3zM585.7 237.5h3v1h-3zM594.6 237.5h3v1h-3zM662.6 237.5h3v1h-3zM550.3 238.5h3v1h-3zM591.6 238.5h3v1h-3zM603.5 238.5h3v1h-3zM671.5 238.5h3v1h-3zM553.2 239.5h3v1h-3zM594.6 239.5h3v1h-3zM677.4 239.5h3v1h-3zM594.6 240.5h3v1h-3zM650.8 240.5h3v1h-3zM662.6 240.5h3v1h-3zM588.7 241.5h3v1h-3zM615.3 241.5h3v1h-3zM547.3 242.5h3v1h-3zM553.2 242.5h3v1h-3zM582.8 242.5h3v1h-3zM653.7 242.5h3v1h-3zM656.7 242.5h3v1h-3zM680.3 242.5h3v1h-3zM547.3 243.5h3v1h-3zM582.8 243.5h3v1h-3zM597.6 243.5h3v1h-3zM609.4 243.5h3v1h-3zM618.3 243.5h3v1h-3zM671.5 243.5h3v1h-3zM588.7 244.5h3v1h-3zM594.6 244.5h3v1h-3zM671.5 244.5h3v1h-3zM550.3 246.5h3v1h-3zM606.4 246.5h3v1h-3zM585.7 247.5h3v1h-3zM603.5 247.5h3v1h-3zM606.4 248.5h3v1h-3zM615.3 248.5h3v1h-3zM665.6 248.5h3v1h-3zM671.5 249.5h3v1h-3zM659.6 250.5h3v1h-3zM603.5 251.5h3v1h-3zM606.4 251.5h3v1h-3zM612.3 251.5h3v1h-3zM653.7 251.5h3v1h-3zM662.6 251.5h3v1h-3zM677.4 252.5h3v1h-3zM591.6 253.5h3v1h-3zM612.3 253.5h3v1h-3zM656.7 253.5h3v1h-3zM653.7 254.5h3v1h-3zM674.4 255.5h3v1h-3zM588.7 256.5h3v1h-3zM597.6 256.5h3v1h-3zM603.5 256.5h3v1h-3zM612.3 256.5h3v1h-3zM647.8 256.5h3v1h-3zM656.7 256.5h3v1h-3zM668.5 256.5h3v1h-3zM594.6 257.5h3v1h-3zM600.5 257.5h3v1h-3zM656.7 257.5h3v1h-3zM659.6 257.5h3v1h-3zM588.7 258.5h3v1h-3zM600.5 258.5h3v1h-3zM573.9 259.5h3v1h-3zM665.6 259.5h3v1h-3zM615.3 260.5h3v1h-3zM644.9 260.5h3v1h-3zM647.8 260.5h3v1h-3zM656.7 260.5h3v1h-3zM641.9 261.5h3v1h-3zM656.7 261.5h3v1h-3zM653.7 262.5h3v1h-3zM668.5 262.5h3v1h-3zM591.6 263.5h3v1h-3zM656.7 263.5h3v1h-3zM591.6 264.5h3v1h-3zM650.8 264.5h3v1h-3zM594.6 266.5h3v1h-3zM639.0 266.5h3v1h-3zM650.8 266.5h3v1h-3zM585.7 267.5h3v1h-3zM665.6 267.5h3v1h-3zM591.6 268.5h3v1h-3zM644.9 268.5h3v1h-3zM674.4 268.5h3v1h-3zM659.6 269.5h3v1h-3zM650.8 270.5h3v1h-3z"/>
<path fill="#e2e2ff" d="M644.9 144.6h3v1h-3zM659.6 144.6h3v1h-3zM565.0 145.6h3v1h-3zM576.9 145.6h3v1h-3zM579.8 145.6h3v1h-3zM659.6 145.6h3v1h-3zM588.7 146.6h3v1h-3zM636.0 146.6h3v1h-3zM559.1 147.6h3v1h-3zM639.0 147.6h3v1h-3zM659.6 147.6h3v1h-3zM562.1 148.6h3v1h-3zM576.9 149.6h3v1h-3zM647.8 149.6h3v1h-3zM585.7 150.6h3v1h-3zM653.7 150.6h3v1h-3zM582.8 151.6h3v1h-3zM588.7 151.6h3v1h-3zM644.9 151.6h3v1h-3zM562.1 153.6h3v1h-3zM668.5 153.6h3v1h-3zM576.9 154.6h3v1h-3zM588.7 154.6h3v1h-3zM659.6 154.6h3v1h-3zM671.5 154.6h3v1h-3zM562.1 155.6h3v1h-3zM582.8 155.6h3v1h-3zM647.8 155.6h3v1h-3zM659.6 155.6h3v1h-3zM576.9 156.6h3v1h-3zM630.1 156.6h3v1h-3zM653.7 156.6h3v1h-3zM559.1 157.6h3v1h-3zM568.0 157.6h3v1h-3zM659.6 157.6h3v1h-3zM624.2 158.6h3v1h-3zM633.0 158.6h3v1h-3zM559.1 159.6h3v1h-3zM579.8 159.6h3v1h-3zM641.9 159.6h3v1h-3zM630.1 160.6h3v1h-3zM559.1 161.6h3v1h-3zM568.0 161.6h3v1h-3zM627.1 161.6h3v1h-3zM636.0 161.6h3v1h-3zM562.1 162.6h3v1h-3zM565.0 162.6h3v1h-3zM633.0 163.6h3v1h-3zM568.0 164.6h3v1h-3zM627.1 164.6h3v1h-3zM630.1 164.6h3v1h-3zM633.0 164.6h3v1h-3zM674.4 164.6h3v1h-3zM568.0 165.6h3v1h-3zM576.9 165.6h3v1h-3zM579.8 165.6h3v1h-3zM644.9 165.6h3v1h-3zM550.3 166.6h3v1h-3zM556.2 166.6h3v1h-3zM630.1 166.6h3v1h-3zM633.0 166.6h3v1h-3zM633.0 167.6h3v1h-3zM568.0 168.6h3v1h-3zM576.9 168.6h3v1h-3zM562.1 169.6h3v1h-3zM606.4 169.6h3v1h-3zM559.1 170.6h3v1h-3zM550.3 171.6h3v1h-3zM677.4 171.6h3v1h-3zM547.3 172.6h3v1h-3zM576.9 172.6h3v1h-3zM615.3 172.6h3v1h-3zM644.9 172.6h3v1h-3zM677.4 172.6h3v1h-3zM571.0 173.6h3v1h-3zM576.9 175.6h3v1h-3zM630.1 175.6h3v1h-3zM636.0 175.6h3v1h-3zM606.4 176.6h3v1h-3zM612.3 176.6h3v1h-3zM636.0 176.6h3v1h-3zM677.4 176.6h3v1h-3zM627.1 177.6h3v1h-3zM636.0 178.6h3v1h-3zM680.3 178.6h3v1h-3zM547.3 179.6h3v1h-3zM562.1 179.6h3v1h-3zM677.4 179.6h3v1h-3zM680.3 179.6h3v1h-3zM612.3 180.6h3v1h-3zM624.2 180.6h3v1h-3zM565.0 181.6h3v1h-3zM633.0 181.6h3v1h-3zM547.3 182.6h3v1h-3zM550.3 183.6h3v1h-3zM612.3 183.6h3v1h-3zM639.0 185.6h3v1h-3zM556.2 186.6h3v1h-3zM562.1 186.6h3v1h-3zM609.4 187.6h3v1h-3zM677.4 187.6h3v1h-3zM606.4 188.6h3v1h-3zM565.0 189.6h3v1h-3zM612.3 189.6h3v1h-3zM671.5 190.6h3v1h-3zM550.3 191.6h3v1h-3zM562.1 191.6h3v1h-3zM668.5 191.6h3v1h-3zM550.3 192.6h3v1h-3zM559.1 192.6h3v1h-3zM562.1 192.6h3v1h-3zM609.4 192.6h3v1h-3zM550.3 193.6h3v1h-3zM615.3 193.6h3v1h-3zM553.2 194.6h3v1h-3zM559.1 195.6h3v1h-3zM674.4 197.6h3v1h-3zM556.2 198.6h3v1h-3zM568.0 198.6h3v1h-3zM636.0 198.6h3v1h-3zM677.4 198.6h3v1h-3zM597.6 199.6h3v1h-3zM550.3 200.6h3v1h-3zM559.1 200.6h3v1h-3zM603.5 200.6h3v1h-3zM606.4 200.6h3v1h-3zM680.3 200.6h3v1h-3zM547.3 201.6h3v1h-3zM606.4 201.6h3v1h-3zM636.0 201.6h3v1h-3zM565.0 202.6h3v1h-3zM571.0 202.6h3v1h-3zM633.0 202.6h3v1h-3zM550.3 203.6h3v1h-3zM594.6 203.6h3v1h-3zM677.4 203.6h3v1h-3zM565.0 204.6h3v1h-3zM612.3 204.6h3v1h-3zM612.3 205.6h3v1h-3zM639.0 205.6h3v1h-3zM677.4 205.6h3v1h-3zM565.0 206.6h3v1h-3zM594.6 206.6h3v1h-3zM630.1 206.6h3v1h-3zM636.0 206.6h3v1h-3zM680.3 206.6h3v1h-3zM550.3 207.6h3v1h-3zM556.2 207.6h3v1h-3zM568.0 207.6h3v1h-3zM562.1 208.5h3v1h-3zM606.4 208.5h3v1h-3zM609.4 208.5h3v1h-3zM630.1 209.5h3v1h-3zM639.0 209.5h3v1h-3zM556.2 210.5h3v1h-3zM559.1 210.5h3v1h-3zM606.4 210.5h3v1h-3zM630.1 210.5h3v1h-3zM662.6 210.5h3v1h-3zM677.4 210.5h3v1h-3zM550.3 211.5h3v1h-3zM553.2 211.5h3v1h-3zM612.3 211.5h3v1h-3zM633.0 211.5h3v1h-3zM636.0 211.5h3v1h-3zM671.5 211.5h3v1h-3zM677.4 211.5h3v1h-3zM553.2 213.5h3v1h-3zM674.4 213.5h3v1h-3zM547.3 214.5h3v1h-3zM594.6 215.5h3v1h-3zM636.0 215.5h3v1h-3zM674.4 215.5h3v1h-3zM556.2 216.5h3v1h-3zM565.0 216.5h3v1h-3zM639.0 216.5h3v1h-3zM680.3 216.5h3v1h-3zM547.3 217.5h3v1h-3zM615.3 217.5h3v1h-3zM633.0 217.5h3v1h-3zM677.4 217.5h3v1h-3zM559.1 218.5h3v1h-3zM603.5 218.5h3v1h-3zM668.5 218.5h3v1h-3zM603.5 219.5h3v1h-3zM633.0 219.5h3v1h-3zM680.3 219.5h3v1h-3zM618.3 220.5h3v1h-3zM624.2 220.5h3v1h-3zM550.3 221.5h3v1h-3zM636.0 221.5h3v1h-3zM556.2 222.5h3v1h-3zM562.1 222.5h3v1h-3zM621.2 222.5h3v1h-3zM665.6 222.5h3v1h-3zM553.2 223.5h3v1h-3zM600.5 223.5h3v1h-3zM639.0 223.5h3v1h-3zM656.7 223.5h3v1h-3zM671.5 223.5h3v1h-3zM627.1 224.5h3v1h-3zM547.3 225.5h3v1h-3zM627.1 225.5h3v1h-3zM662.6 225.5h3v1h-3zM547.3 226.5h3v1h-3zM600.5 226.5h3v1h-3zM662.6 226.5h3v1h-3zM668.5 226.5h3v1h-3zM674.4 226.5h3v1h-3zM594.6 227.5h3v1h-3zM600.5 227.5h3v1h-3zM609.4 227.5h3v1h-3zM680.3 227.5h3v1h-3zM656.7 228.5h3v1h-3zM668.5 228.5h3v1h-3zM550.3 229.5h3v1h-3zM603.5 229.5h3v1h-3zM624.2 229.5h3v1h-3zM665.6 229.5h3v1h-3zM588.7 230.5h3v1h-3zM606.4 230.5h3v1h-3zM609.4 231.5h3v1h-3zM627.1 231.5h3v1h-3zM553.2 232.5h3v1h-3zM627.1 232.5h3v1h-3zM662.6 232.5h3v1h-3zM582.8 233.5h3v1h-3zM547.3 234.5h3v1h-3zM618.3 234.5h3v1h-3zM624.2 234.5h3v1h-3zM627.1 234.5h3v1h-3zM624.2 235.5h3v1h-3zM674.4 235.5h3v1h-3zM547.3 236.5h3v1h-3zM547.3 237.5h3v1h-3zM553.2 237.5h3v1h-3zM621.2 237.5h3v1h-3zM615.3 238.5h3v1h-3zM665.6 238.5h3v1h-3zM585.7 239.5h3v1h-3zM612.3 239.5h3v1h-3zM627.1 239.5h3v1h-3zM659.6 240.5h3v1h-3zM665.6 240.5h3v1h-3zM550.3 241.5h3v1h-3zM553.2 241.5h3v1h-3zM585.7 241.5h3v1h-3zM591.6 241.5h3v1h-3zM674.4 241.5h3v1h-3zM597.6 242.5h3v1h-3zM606.4 242.5h3v1h-3zM615.3 242.5h3v1h-3zM665.6 242.5h3v1h-3zM677.4 242.5h3v1h-3zM585.7 243.5h3v1h-3zM662.6 243.5h3v1h-3zM612.3 245.5h3v1h-3zM665.6 245.5h3v1h-3zM603.5 246.5h3v1h-3zM656.7 247.5h3v1h-3zM600.5 248.5h3v1h-3zM650.8 248.5h3v1h-3zM677.4 248.5h3v1h-3zM612.3 249.5h3v1h-3zM653.7 249.5h3v1h-3zM656.7 249.5h3v1h-3zM674.4 250.5h3v1h-3zM680.3 250.5h3v1h-3zM582.8 251.5h3v1h-3zM588.7 252.5h3v1h-3zM612.3 252.5h3v1h-3zM615.3 252.5h3v1h-3zM641.9 252.5h3v1h-3zM665.6 252.5h3v1h-3zM674.4 252.5h3v1h-3zM653.7 253.5h3v1h-3zM582.8 254.5h3v1h-3zM603.5 254.5h3v1h-3zM680.3 254.5h3v1h-3zM579.8 256.5h3v1h-3zM650.8 256.5h3v1h-3zM671.5 256.5h3v1h-3zM597.6 257.5h3v1h-3zM650.8 257.5h3v1h-3zM609.4 258.5h3v1h-3zM653.7 258.5h3v1h-3zM662.6 258.5h3v1h-3zM597.6 259.5h3v1h-3zM650.8 259.5h3v1h-3zM579.8 260.5h3v1h-3zM659.6 260.5h3v1h-3zM668.5 260.5h3v1h-3zM674.4 260.5h3v1h-3zM585.7 261.5h3v1h-3zM659.6 261.5h3v1h-3zM671.5 261.5h3v1h-3zM594.6 262.5h3v1h-3zM594.6 263.5h3v1h-3zM597.6 263.5h3v1h-3zM647.8 263.5h3v1h-3zM644.9 264.5h3v1h-3zM653.7 264.5h3v1h-3zM591.6 265.5h3v1h-3zM597.6 265.5h3v1h-3zM600.5 266.5h3v1h-3zM609.4 266.5h3v1h-3zM659.6 266.5h3v1h-3zM573.9 267.5h3v1h-3zM597.6 267.5h3v1h-3zM641.9 267.5h3v1h-3zM565.0 268.5h3v1h-3zM576.9 268.5h3v1h-3zM600.5 268.5h3v1h-3zM603.5 268.5h3v1h-3zM656.7 268.5h3v1h-3zM641.9 269.5h3v1h-3zM603.5 270.5h3v1h-3zM606.4 270.5h3v1h-3z"/>
<path fill="#e9e9ff" d="M568.0 144.6h3v1h-3zM633.0 144.6h3v1h-3zM573.9 145.6h3v1h-3zM594.6 145.6h3v1h-3zM656.7 145.6h3v1h-3zM665.6 145.6h3v1h-3zM556.2 146.6h3v1h-3zM606.4 146.6h3v1h-3zM659.6 146.6h3v1h-3zM556.2 147.6h3v1h-3zM562.1 147.6h3v1h-3zM650.8 147.6h3v1h-3zM600.5 148.6h3v1h-3zM633.0 148.6h3v1h-3zM636.0 148.6h3v1h-3zM656.7 149.6h3v1h-3zM591.6 150.6h3v1h-3zM633.0 150.6h3v1h-3zM659.6 150.6h3v1h-3zM562.1 151.6h3v1h-3zM636.0 151.6h3v1h-3zM647.8 151.6h3v1h-3zM653.7 151.6h3v1h-3zM618.3 152.6h3v1h-3zM624.2 153.6h3v1h-3zM653.7 154.6h3v1h-3zM579.8 155.6h3v1h-3zM656.7 155.6h3v1h-3zM562.1 156.6h3v1h-3zM588.7 156.6h3v1h-3zM633.0 156.6h3v1h-3zM627.1 157.6h3v1h-3zM630.1 157.6h3v1h-3zM656.7 157.6h3v1h-3zM636.0 158.6h3v1h-3zM653.7 158.6h3v1h-3zM633.0 159.6h3v1h-3zM644.9 159.6h3v1h-3zM621.2 160.6h3v1h-3zM624.2 160.6h3v1h-3zM603.5 161.6h3v1h-3zM624.2 161.6h3v1h-3zM630.1 161.6h3v1h-3zM647.8 161.6h3v1h-3zM550.3 162.6h3v1h-3zM644.9 162.6h3v1h-3zM647.8 162.6h3v1h-3zM573.9 163.6h3v1h-3zM636.0 164.6h3v1h-3zM565.0 165.6h3v1h-3zM612.3 165.6h3v1h-3zM624.2 165.6h3v1h-3zM674.4 165.6h3v1h-3zM677.4 165.6h3v1h-3zM568.0 166.6h3v1h-3zM636.0 166.6h3v1h-3zM644.9 166.6h3v1h-3zM553.2 167.6h3v1h-3zM571.0 167.6h3v1h-3zM630.1 167.6h3v1h-3zM641.9 167.6h3v1h-3zM630.1 168.6h3v1h-3zM615.3 169.6h3v1h-3zM641.9 169.6h3v1h-3zM571.0 171.6h3v1h-3zM641.9 171.6h3v1h-3zM579.8 172.6h3v1h-3zM615.3 173.6h3v1h-3zM633.0 173.6h3v1h-3zM553.2 174.6h3v1h-3zM568.0 174.6h3v1h-3zM674.4 174.6h3v1h-3zM579.8 175.6h3v1h-3zM609.4 175.6h3v1h-3zM559.1 176.6h3v1h-3zM674.4 176.6h3v1h-3zM547.3 177.6h3v1h-3zM609.4 177.6h3v1h-3zM612.3 177.6h3v1h-3zM615.3 177.6h3v1h-3zM630.1 178.6h3v1h-3zM550.3 179.6h3v1h-3zM553.2 179.6h3v1h-3zM630.1 179.6h3v1h-3zM630.1 180.6h3v1h-3zM636.0 180.6h3v1h-3zM639.0 180.6h3v1h-3zM671.5 181.6h3v1h-3zM612.3 182.6h3v1h-3zM644.9 182.6h3v1h-3zM674.4 183.6h3v1h-3zM609.4 184.6h3v1h-3zM665.6 184.6h3v1h-3zM674.4 184.6h3v1h-3zM553.2 185.6h3v1h-3zM559.1 185.6h3v1h-3zM680.3 185.6h3v1h-3zM550.3 186.6h3v1h-3zM573.9 186.6h3v1h-3zM565.0 187.6h3v1h-3zM594.6 187.6h3v1h-3zM606.4 187.6h3v1h-3zM615.3 188.6h3v1h-3zM630.1 189.6h3v1h-3zM559.1 190.6h3v1h-3zM633.0 190.6h3v1h-3zM565.0 191.6h3v1h-3zM606.4 191.6h3v1h-3zM612.3 191.6h3v1h-3zM639.0 191.6h3v1h-3zM612.3 192.6h3v1h-3zM636.0 192.6h3v1h-3zM671.5 192.6h3v1h-3zM677.4 192.6h3v1h-3zM556.2 193.6h3v1h-3zM562.1 193.6h3v1h-3zM612.3 193.6h3v1h-3zM612.3 194.6h3v1h-3zM636.0 194.6h3v1h-3zM680.3 194.6h3v1h-3zM547.3 195.6h3v1h-3zM630.1 195.6h3v1h-3zM677.4 195.6h3v1h-3zM565.0 196.6h3v1h-3zM665.6 196.6h3v1h-3zM562.1 197.6h3v1h-3zM633.0 197.6h3v1h-3zM559.1 198.6h3v1h-3zM597.6 198.6h3v1h-3zM562.1 199.6h3v1h-3zM668.5 199.6h3v1h-3zM680.3 199.6h3v1h-3zM597.6 200.6h3v1h-3zM609.4 200.6h3v1h-3zM612.3 200.6h3v1h-3zM639.0 200.6h3v1h-3zM553.2 202.6h3v1h-3zM677.4 202.6h3v1h-3zM680.3 202.6h3v1h-3zM662.6 203.6h3v1h-3zM550.3 204.6h3v1h-3zM562.1 204.6h3v1h-3zM633.0 204.6h3v1h-3zM547.3 205.6h3v1h-3zM671.5 205.6h3v1h-3zM606.4 206.6h3v1h-3zM609.4 206.6h3v1h-3zM627.1 206.6h3v1h-3zM553.2 207.6h3v1h-3zM559.1 207.6h3v1h-3zM565.0 207.6h3v1h-3zM603.5 207.6h3v1h-3zM630.1 207.6h3v1h-3zM565.0 208.5h3v1h-3zM627.1 208.5h3v1h-3zM677.4 208.5h3v1h-3zM633.0 209.5h3v1h-3zM662.6 209.5h3v1h-3zM627.1 210.5h3v1h-3zM680.3 210.5h3v1h-3zM556.2 211.5h3v1h-3zM588.7 211.5h3v1h-3zM550.3 212.5h3v1h-3zM559.1 212.5h3v1h-3zM600.5 212.5h3v1h-3zM609.4 212.5h3v1h-3zM627.1 212.5h3v1h-3zM562.1 213.5h3v1h-3zM636.0 213.5h3v1h-3zM639.0 214.5h3v1h-3zM562.1 215.5h3v1h-3zM600.5 215.5h3v1h-3zM665.6 215.5h3v1h-3zM553.2 216.5h3v1h-3zM559.1 216.5h3v1h-3zM612.3 216.5h3v1h-3zM615.3 216.5h3v1h-3zM588.7 217.5h3v1h-3zM600.5 217.5h3v1h-3zM550.3 218.5h3v1h-3zM568.0 218.5h3v1h-3zM627.1 218.5h3v1h-3zM636.0 218.5h3v1h-3zM671.5 218.5h3v1h-3zM680.3 218.5h3v1h-3zM594.6 219.5h3v1h-3zM606.4 219.5h3v1h-3zM612.3 219.5h3v1h-3zM627.1 219.5h3v1h-3zM636.0 219.5h3v1h-3zM550.3 220.5h3v1h-3zM594.6 220.5h3v1h-3zM609.4 220.5h3v1h-3zM612.3 220.5h3v1h-3zM630.1 220.5h3v1h-3zM662.6 220.5h3v1h-3zM556.2 221.5h3v1h-3zM612.3 221.5h3v1h-3zM656.7 221.5h3v1h-3zM565.0 222.5h3v1h-3zM603.5 222.5h3v1h-3zM656.7 222.5h3v1h-3zM550.3 223.5h3v1h-3zM547.3 224.5h3v1h-3zM582.8 224.5h3v1h-3zM588.7 224.5h3v1h-3zM624.2 224.5h3v1h-3zM677.4 224.5h3v1h-3zM550.3 225.5h3v1h-3zM582.8 225.5h3v1h-3zM668.5 225.5h3v1h-3zM553.2 226.5h3v1h-3zM556.2 226.5h3v1h-3zM588.7 226.5h3v1h-3zM603.5 226.5h3v1h-3zM677.4 226.5h3v1h-3zM562.1 227.5h3v1h-3zM597.6 227.5h3v1h-3zM550.3 228.5h3v1h-3zM591.6 228.5h3v1h-3zM597.6 228.5h3v1h-3zM653.7 228.5h3v1h-3zM659.6 229.5h3v1h-3zM671.5 229.5h3v1h-3zM680.3 229.5h3v1h-3zM547.3 230.5h3v1h-3zM550.3 230.5h3v1h-3zM656.7 230.5h3v1h-3zM680.3 230.5h3v1h-3zM568.0 231.5h3v1h-3zM588.7 231.5h3v1h-3zM556.2 232.5h3v1h-3zM606.4 232.5h3v1h-3zM674.4 232.5h3v1h-3zM624.2 233.5h3v1h-3zM656.7 233.5h3v1h-3zM668.5 233.5h3v1h-3zM621.2 234.5h3v1h-3zM671.5 234.5h3v1h-3zM550.3 235.5h3v1h-3zM665.6 235.5h3v1h-3zM585.7 236.5h3v1h-3zM600.5 236.5h3v1h-3zM621.2 236.5h3v1h-3zM653.7 236.5h3v1h-3zM582.8 237.5h3v1h-3zM627.1 237.5h3v1h-3zM659.6 237.5h3v1h-3zM594.6 238.5h3v1h-3zM547.3 239.5h3v1h-3zM588.7 239.5h3v1h-3zM597.6 239.5h3v1h-3zM624.2 239.5h3v1h-3zM680.3 239.5h3v1h-3zM606.4 240.5h3v1h-3zM621.2 240.5h3v1h-3zM603.5 241.5h3v1h-3zM618.3 241.5h3v1h-3zM671.5 241.5h3v1h-3zM680.3 241.5h3v1h-3zM662.6 242.5h3v1h-3zM674.4 242.5h3v1h-3zM553.2 243.5h3v1h-3zM591.6 243.5h3v1h-3zM615.3 243.5h3v1h-3zM674.4 243.5h3v1h-3zM597.6 244.5h3v1h-3zM615.3 244.5h3v1h-3zM624.2 244.5h3v1h-3zM659.6 244.5h3v1h-3zM606.4 245.5h3v1h-3zM609.4 245.5h3v1h-3zM674.4 245.5h3v1h-3zM677.4 245.5h3v1h-3zM618.3 247.5h3v1h-3zM659.6 247.5h3v1h-3zM662.6 247.5h3v1h-3zM677.4 247.5h3v1h-3zM553.2 248.5h3v1h-3zM573.9 248.5h3v1h-3zM588.7 248.5h3v1h-3zM597.6 248.5h3v1h-3zM594.6 249.5h3v1h-3zM600.5 249.5h3v1h-3zM615.3 249.5h3v1h-3zM665.6 250.5h3v1h-3zM644.9 251.5h3v1h-3zM624.2 252.5h3v1h-3zM647.8 252.5h3v1h-3zM653.7 252.5h3v1h-3zM662.6 252.5h3v1h-3zM647.8 253.5h3v1h-3zM662.6 253.5h3v1h-3zM677.4 253.5h3v1h-3zM597.6 254.5h3v1h-3zM668.5 254.5h3v1h-3zM571.0 255.5h3v1h-3zM603.5 255.5h3v1h-3zM677.4 255.5h3v1h-3zM591.6 256.5h3v1h-3zM615.3 256.5h3v1h-3zM639.0 256.5h3v1h-3zM662.6 256.5h3v1h-3zM573.9 257.5h3v1h-3zM647.8 257.5h3v1h-3zM668.5 257.5h3v1h-3zM594.6 258.5h3v1h-3zM603.5 258.5h3v1h-3zM615.3 258.5h3v1h-3zM671.5 258.5h3v1h-3zM576.9 259.5h3v1h-3zM647.8 259.5h3v1h-3zM671.5 259.5h3v1h-3zM612.3 260.5h3v1h-3zM650.8 260.5h3v1h-3zM573.9 261.5h3v1h-3zM582.8 261.5h3v1h-3zM588.7 261.5h3v1h-3zM650.8 261.5h3v1h-3zM668.5 261.5h3v1h-3zM591.6 262.5h3v1h-3zM665.6 262.5h3v1h-3zM674.4 263.5h3v1h-3zM656.7 264.5h3v1h-3zM662.6 264.5h3v1h-3zM594.6 265.5h3v1h-3zM568.0 267.5h3v1h-3zM576.9 267.5h3v1h-3zM615.3 267.5h3v1h-3zM579.8 268.5h3v1h-3zM585.7 268.5h3v1h-3zM641.9 268.5h3v1h-3zM671.5 268.5h3v1h-3zM594.6 269.5h3v1h-3zM603.5 269.5h3v1h-3zM639.0 269.5h3v1h-3zM647.8 269.5h3v1h-3zM644.9 270.5h3v1h-3zM659.6 270.5h3v1h-3zM671.5 270.5h3v1h-3z"/>
<path fill="#f0f0ff" d="M562.1 144.6h3v1h-3zM639.0 144.6h3v1h-3zM650.8 145.6h3v1h-3zM568.0 146.6h3v1h-3zM585.7 146.6h3v1h-3zM591.6 146.6h3v1h-3zM668.5 146.6h3v1h-3zM568.0 147.6h3v1h-3zM588.7 147.6h3v1h-3zM594.6 147.6h3v1h-3zM568.0 148.6h3v1h-3zM630.1 148.6h3v1h-3zM653.7 148.6h3v1h-3zM659.6 148.6h3v1h-3zM565.0 149.6h3v1h-3zM582.8 149.6h3v1h-3zM665.6 149.6h3v1h-3zM568.0 150.6h3v1h-3zM612.3 150.6h3v1h-3zM639.0 150.6h3v1h-3zM656.7 150.6h3v1h-3zM665.6 150.6h3v1h-3zM559.1 151.6h3v1h-3zM639.0 151.6h3v1h-3zM559.1 152.6h3v1h-3zM568.0 152.6h3v1h-3zM585.7 153.6h3v1h-3zM591.6 153.6h3v1h-3zM606.4 153.6h3v1h-3zM585.7 154.6h3v1h-3zM565.0 155.6h3v1h-3zM568.0 155.6h3v1h-3zM653.7 155.6h3v1h-3zM644.9 156.6h3v1h-3zM659.6 156.6h3v1h-3zM588.7 157.6h3v1h-3zM624.2 157.6h3v1h-3zM650.8 157.6h3v1h-3zM568.0 158.6h3v1h-3zM647.8 158.6h3v1h-3zM650.8 158.6h3v1h-3zM547.3 159.6h3v1h-3zM562.1 159.6h3v1h-3zM547.3 161.6h3v1h-3zM609.4 161.6h3v1h-3zM627.1 162.6h3v1h-3zM571.0 163.6h3v1h-3zM606.4 163.6h3v1h-3zM615.3 163.6h3v1h-3zM644.9 163.6h3v1h-3zM644.9 164.6h3v1h-3zM550.3 165.6h3v1h-3zM656.7 165.6h3v1h-3zM547.3 166.6h3v1h-3zM550.3 167.6h3v1h-3zM579.8 167.6h3v1h-3zM612.3 167.6h3v1h-3zM576.9 169.6h3v1h-3zM627.1 169.6h3v1h-3zM633.0 169.6h3v1h-3zM647.8 169.6h3v1h-3zM553.2 170.6h3v1h-3zM571.0 170.6h3v1h-3zM606.4 170.6h3v1h-3zM627.1 170.6h3v1h-3zM568.0 171.6h3v1h-3zM547.3 173.6h3v1h-3zM565.0 173.6h3v1h-3zM609.4 174.6h3v1h-3zM630.1 174.6h3v1h-3zM556.2 175.6h3v1h-3zM606.4 175.6h3v1h-3zM641.9 175.6h3v1h-3zM579.8 176.6h3v1h-3zM674.4 177.6h3v1h-3zM677.4 177.6h3v1h-3zM573.9 178.6h3v1h-3zM615.3 178.6h3v1h-3zM641.9 178.6h3v1h-3zM644.9 178.6h3v1h-3zM568.0 179.6h3v1h-3zM609.4 179.6h3v1h-3zM677.4 180.6h3v1h-3zM615.3 181.6h3v1h-3zM553.2 182.6h3v1h-3zM677.4 182.6h3v1h-3zM630.1 183.6h3v1h-3zM677.4 184.6h3v1h-3zM606.4 185.6h3v1h-3zM633.0 185.6h3v1h-3zM665.6 185.6h3v1h-3zM674.4 185.6h3v1h-3zM633.0 188.6h3v1h-3zM633.0 189.6h3v1h-3zM674.4 189.6h3v1h-3zM636.0 191.6h3v1h-3zM633.0 192.6h3v1h-3zM680.3 192.6h3v1h-3zM609.4 193.6h3v1h-3zM630.1 193.6h3v1h-3zM662.6 193.6h3v1h-3zM609.4 194.6h3v1h-3zM550.3 195.6h3v1h-3zM612.3 195.6h3v1h-3zM665.6 195.6h3v1h-3zM633.0 196.6h3v1h-3zM615.3 197.6h3v1h-3zM671.5 197.6h3v1h-3zM606.4 198.6h3v1h-3zM665.6 198.6h3v1h-3zM565.0 199.6h3v1h-3zM633.0 199.6h3v1h-3zM639.0 199.6h3v1h-3zM565.0 200.6h3v1h-3zM568.0 200.6h3v1h-3zM633.0 200.6h3v1h-3zM559.1 201.6h3v1h-3zM615.3 201.6h3v1h-3zM656.7 201.6h3v1h-3zM680.3 203.6h3v1h-3zM597.6 204.6h3v1h-3zM600.5 204.6h3v1h-3zM662.6 204.6h3v1h-3zM603.5 205.6h3v1h-3zM609.4 205.6h3v1h-3zM568.0 206.6h3v1h-3zM639.0 206.6h3v1h-3zM662.6 206.6h3v1h-3zM562.1 207.6h3v1h-3zM668.5 207.6h3v1h-3zM556.2 208.5h3v1h-3zM633.0 208.5h3v1h-3zM556.2 209.5h3v1h-3zM612.3 209.5h3v1h-3zM636.0 209.5h3v1h-3zM565.0 210.5h3v1h-3zM597.6 210.5h3v1h-3zM603.5 210.5h3v1h-3zM636.0 210.5h3v1h-3zM671.5 210.5h3v1h-3zM603.5 211.5h3v1h-3zM556.2 212.5h3v1h-3zM562.1 212.5h3v1h-3zM659.6 212.5h3v1h-3zM680.3 212.5h3v1h-3zM559.1 213.5h3v1h-3zM609.4 214.5h3v1h-3zM627.1 214.5h3v1h-3zM636.0 214.5h3v1h-3zM677.4 214.5h3v1h-3zM615.3 215.5h3v1h-3zM627.1 215.5h3v1h-3zM562.1 216.5h3v1h-3zM603.5 216.5h3v1h-3zM624.2 216.5h3v1h-3zM630.1 216.5h3v1h-3zM559.1 217.5h3v1h-3zM591.6 217.5h3v1h-3zM606.4 217.5h3v1h-3zM653.7 217.5h3v1h-3zM671.5 217.5h3v1h-3zM547.3 219.5h3v1h-3zM553.2 219.5h3v1h-3zM630.1 219.5h3v1h-3zM556.2 220.5h3v1h-3zM603.5 220.5h3v1h-3zM591.6 221.5h3v1h-3zM639.0 221.5h3v1h-3zM674.4 221.5h3v1h-3zM550.3 222.5h3v1h-3zM597.6 222.5h3v1h-3zM627.1 222.5h3v1h-3zM636.0 223.5h3v1h-3zM653.7 223.5h3v1h-3zM568.0 224.5h3v1h-3zM615.3 224.5h3v1h-3zM650.8 224.5h3v1h-3zM565.0 225.5h3v1h-3zM588.7 225.5h3v1h-3zM594.6 225.5h3v1h-3zM636.0 225.5h3v1h-3zM582.8 226.5h3v1h-3zM665.6 226.5h3v1h-3zM588.7 227.5h3v1h-3zM612.3 227.5h3v1h-3zM633.0 227.5h3v1h-3zM662.6 227.5h3v1h-3zM665.6 227.5h3v1h-3zM603.5 228.5h3v1h-3zM650.8 229.5h3v1h-3zM585.7 230.5h3v1h-3zM624.2 230.5h3v1h-3zM677.4 230.5h3v1h-3zM594.6 231.5h3v1h-3zM600.5 231.5h3v1h-3zM639.0 231.5h3v1h-3zM662.6 231.5h3v1h-3zM671.5 231.5h3v1h-3zM550.3 232.5h3v1h-3zM582.8 232.5h3v1h-3zM600.5 232.5h3v1h-3zM624.2 232.5h3v1h-3zM585.7 233.5h3v1h-3zM659.6 233.5h3v1h-3zM550.3 234.5h3v1h-3zM585.7 234.5h3v1h-3zM612.3 234.5h3v1h-3zM650.8 234.5h3v1h-3zM662.6 234.5h3v1h-3zM547.3 235.5h3v1h-3zM556.2 235.5h3v1h-3zM582.8 235.5h3v1h-3zM591.6 235.5h3v1h-3zM621.2 235.5h3v1h-3zM627.1 235.5h3v1h-3zM656.7 235.5h3v1h-3zM680.3 235.5h3v1h-3zM603.5 236.5h3v1h-3zM615.3 236.5h3v1h-3zM550.3 237.5h3v1h-3zM591.6 237.5h3v1h-3zM606.4 237.5h3v1h-3zM615.3 237.5h3v1h-3zM650.8 237.5h3v1h-3zM668.5 237.5h3v1h-3zM556.2 238.5h3v1h-3zM606.4 238.5h3v1h-3zM662.6 238.5h3v1h-3zM550.3 239.5h3v1h-3zM582.8 239.5h3v1h-3zM615.3 239.5h3v1h-3zM618.3 239.5h3v1h-3zM650.8 239.5h3v1h-3zM674.4 239.5h3v1h-3zM550.3 240.5h3v1h-3zM553.2 240.5h3v1h-3zM582.8 240.5h3v1h-3zM680.3 240.5h3v1h-3zM556.2 241.5h3v1h-3zM582.8 241.5h3v1h-3zM662.6 241.5h3v1h-3zM668.5 241.5h3v1h-3zM677.4 241.5h3v1h-3zM585.7 242.5h3v1h-3zM627.1 242.5h3v1h-3zM621.2 243.5h3v1h-3zM653.7 243.5h3v1h-3zM641.9 244.5h3v1h-3zM650.8 244.5h3v1h-3zM665.6 244.5h3v1h-3zM615.3 246.5h3v1h-3zM668.5 246.5h3v1h-3zM588.7 247.5h3v1h-3zM597.6 247.5h3v1h-3zM600.5 247.5h3v1h-3zM609.4 247.5h3v1h-3zM650.8 247.5h3v1h-3zM674.4 247.5h3v1h-3zM612.3 248.5h3v1h-3zM668.5 248.5h3v1h-3zM680.3 248.5h3v1h-3zM559.1 249.5h3v1h-3zM588.7 249.5h3v1h-3zM621.2 249.5h3v1h-3zM668.5 249.5h3v1h-3zM585.7 250.5h3v1h-3zM668.5 250.5h3v1h-3zM547.3 251.5h3v1h-3zM573.9 251.5h3v1h-3zM624.2 251.5h3v1h-3zM668.5 251.5h3v1h-3zM680.3 251.5h3v1h-3zM573.9 252.5h3v1h-3zM571.0 253.5h3v1h-3zM573.9 253.5h3v1h-3zM609.4 253.5h3v1h-3zM559.1 254.5h3v1h-3zM647.8 254.5h3v1h-3zM650.8 254.5h3v1h-3zM618.3 255.5h3v1h-3zM571.0 256.5h3v1h-3zM644.9 256.5h3v1h-3zM677.4 256.5h3v1h-3zM582.8 257.5h3v1h-3zM585.7 257.5h3v1h-3zM609.4 257.5h3v1h-3zM579.8 258.5h3v1h-3zM636.0 258.5h3v1h-3zM639.0 258.5h3v1h-3zM647.8 258.5h3v1h-3zM650.8 258.5h3v1h-3zM656.7 259.5h3v1h-3zM562.1 260.5h3v1h-3zM597.6 260.5h3v1h-3zM600.5 260.5h3v1h-3zM677.4 260.5h3v1h-3zM639.0 261.5h3v1h-3zM647.8 261.5h3v1h-3zM653.7 261.5h3v1h-3zM576.9 262.5h3v1h-3zM588.7 262.5h3v1h-3zM647.8 262.5h3v1h-3zM662.6 262.5h3v1h-3zM571.0 263.5h3v1h-3zM603.5 263.5h3v1h-3zM659.6 263.5h3v1h-3zM662.6 263.5h3v1h-3zM665.6 263.5h3v1h-3zM668.5 263.5h3v1h-3zM585.7 264.5h3v1h-3zM597.6 264.5h3v1h-3zM647.8 264.5h3v1h-3zM603.5 265.5h3v1h-3zM571.0 266.5h3v1h-3zM606.4 266.5h3v1h-3zM559.1 267.5h3v1h-3zM579.8 267.5h3v1h-3zM656.7 267.5h3v1h-3zM662.6 267.5h3v1h-3zM573.9 268.5h3v1h-3zM597.6 268.5h3v1h-3zM606.4 268.5h3v1h-3zM647.8 268.5h3v1h-3zM662.6 268.5h3v1h-3zM573.9 269.5h3v1h-3zM600.5 269.5h3v1h-3zM591.6 270.5h3v1h-3zM594.6 270.5h3v1h-3z"/>
<path fill="#f8f8ff" d="M565.0 144.6h3v1h-3zM627.1 144.6h3v1h-3zM547.3 145.6h3v1h-3zM562.1 145.6h3v1h-3zM639.0 145.6h3v1h-3zM618.3 147.6h3v1h-3zM621.2 147.6h3v1h-3zM633.0 147.6h3v1h-3zM562.1 149.6h3v1h-3zM585.7 149.6h3v1h-3zM621.2 150.6h3v1h-3zM565.0 151.6h3v1h-3zM579.8 151.6h3v1h-3zM633.0 151.6h3v1h-3zM594.6 152.6h3v1h-3zM568.0 153.6h3v1h-3zM618.3 154.6h3v1h-3zM633.0 154.6h3v1h-3zM668.5 154.6h3v1h-3zM591.6 155.6h3v1h-3zM603.5 155.6h3v1h-3zM559.1 156.6h3v1h-3zM656.7 156.6h3v1h-3zM556.2 157.6h3v1h-3zM609.4 157.6h3v1h-3zM588.7 158.6h3v1h-3zM659.6 158.6h3v1h-3zM553.2 159.6h3v1h-3zM568.0 159.6h3v1h-3zM573.9 159.6h3v1h-3zM582.8 159.6h3v1h-3zM612.3 159.6h3v1h-3zM627.1 159.6h3v1h-3zM547.3 160.6h3v1h-3zM562.1 160.6h3v1h-3zM568.0 160.6h3v1h-3zM612.3 160.6h3v1h-3zM647.8 160.6h3v1h-3zM650.8 160.6h3v1h-3zM656.7 160.6h3v1h-3zM588.7 161.6h3v1h-3zM559.1 162.6h3v1h-3zM662.6 162.6h3v1h-3zM553.2 163.6h3v1h-3zM630.1 163.6h3v1h-3zM674.4 163.6h3v1h-3zM647.8 165.6h3v1h-3zM650.8 165.6h3v1h-3zM653.7 165.6h3v1h-3zM674.4 166.6h3v1h-3zM650.8 167.6h3v1h-3zM609.4 168.6h3v1h-3zM677.4 168.6h3v1h-3zM680.3 168.6h3v1h-3zM639.0 169.6h3v1h-3zM644.9 169.6h3v1h-3zM680.3 169.6h3v1h-3zM612.3 170.6h3v1h-3zM615.3 170.6h3v1h-3zM615.3 171.6h3v1h-3zM644.9 171.6h3v1h-3zM653.7 171.6h3v1h-3zM641.9 172.6h3v1h-3zM612.3 173.6h3v1h-3zM547.3 175.6h3v1h-3zM662.6 175.6h3v1h-3zM571.0 176.6h3v1h-3zM600.5 177.6h3v1h-3zM571.0 178.6h3v1h-3zM579.8 178.6h3v1h-3zM612.3 178.6h3v1h-3zM633.0 178.6h3v1h-3zM671.5 178.6h3v1h-3zM573.9 180.6h3v1h-3zM606.4 180.6h3v1h-3zM612.3 181.6h3v1h-3zM656.7 181.6h3v1h-3zM606.4 182.6h3v1h-3zM674.4 182.6h3v1h-3zM615.3 183.6h3v1h-3zM680.3 183.6h3v1h-3zM550.3 184.6h3v1h-3zM606.4 184.6h3v1h-3zM565.0 185.6h3v1h-3zM630.1 185.6h3v1h-3zM615.3 186.6h3v1h-3zM659.6 187.6h3v1h-3zM562.1 188.6h3v1h-3zM612.3 188.6h3v1h-3zM550.3 189.6h3v1h-3zM609.4 189.6h3v1h-3zM636.0 189.6h3v1h-3zM562.1 190.6h3v1h-3zM565.0 190.6h3v1h-3zM600.5 190.6h3v1h-3zM606.4 190.6h3v1h-3zM609.4 190.6h3v1h-3zM615.3 190.6h3v1h-3zM615.3 191.6h3v1h-3zM680.3 191.6h3v1h-3zM553.2 192.6h3v1h-3zM606.4 192.6h3v1h-3zM630.1 194.6h3v1h-3zM668.5 194.6h3v1h-3zM606.4 195.6h3v1h-3zM680.3 195.6h3v1h-3zM644.9 196.6h3v1h-3zM668.5 196.6h3v1h-3zM680.3 196.6h3v1h-3zM668.5 197.6h3v1h-3zM612.3 198.6h3v1h-3zM633.0 198.6h3v1h-3zM650.8 198.6h3v1h-3zM630.1 199.6h3v1h-3zM609.4 201.6h3v1h-3zM639.0 201.6h3v1h-3zM562.1 202.6h3v1h-3zM597.6 202.6h3v1h-3zM556.2 203.6h3v1h-3zM562.1 203.6h3v1h-3zM568.0 204.6h3v1h-3zM585.7 204.6h3v1h-3zM665.6 204.6h3v1h-3zM671.5 204.6h3v1h-3zM565.0 205.6h3v1h-3zM600.5 205.6h3v1h-3zM668.5 205.6h3v1h-3zM680.3 205.6h3v1h-3zM559.1 206.6h3v1h-3zM562.1 206.6h3v1h-3zM656.7 206.6h3v1h-3zM600.5 207.6h3v1h-3zM609.4 207.6h3v1h-3zM550.3 208.5h3v1h-3zM559.1 208.5h3v1h-3zM568.0 208.5h3v1h-3zM591.6 208.5h3v1h-3zM594.6 208.5h3v1h-3zM553.2 209.5h3v1h-3zM565.0 209.5h3v1h-3zM600.5 209.5h3v1h-3zM639.0 210.5h3v1h-3zM615.3 211.5h3v1h-3zM665.6 211.5h3v1h-3zM668.5 211.5h3v1h-3zM565.0 212.5h3v1h-3zM636.0 212.5h3v1h-3zM568.0 213.5h3v1h-3zM603.5 213.5h3v1h-3zM633.0 213.5h3v1h-3zM668.5 213.5h3v1h-3zM582.8 215.5h3v1h-3zM603.5 215.5h3v1h-3zM612.3 215.5h3v1h-3zM550.3 216.5h3v1h-3zM671.5 216.5h3v1h-3zM674.4 217.5h3v1h-3zM547.3 218.5h3v1h-3zM562.1 218.5h3v1h-3zM582.8 218.5h3v1h-3zM600.5 218.5h3v1h-3zM665.6 218.5h3v1h-3zM677.4 218.5h3v1h-3zM588.7 219.5h3v1h-3zM665.6 219.5h3v1h-3zM615.3 220.5h3v1h-3zM671.5 220.5h3v1h-3zM680.3 220.5h3v1h-3zM559.1 221.5h3v1h-3zM562.1 221.5h3v1h-3zM653.7 221.5h3v1h-3zM553.2 222.5h3v1h-3zM550.3 224.5h3v1h-3zM562.1 224.5h3v1h-3zM562.1 225.5h3v1h-3zM650.8 225.5h3v1h-3zM653.7 225.5h3v1h-3zM550.3 226.5h3v1h-3zM565.0 226.5h3v1h-3zM621.2 226.5h3v1h-3zM553.2 227.5h3v1h-3zM656.7 227.5h3v1h-3zM553.2 228.5h3v1h-3zM556.2 228.5h3v1h-3zM568.0 228.5h3v1h-3zM600.5 228.5h3v1h-3zM624.2 228.5h3v1h-3zM627.1 228.5h3v1h-3zM671.5 228.5h3v1h-3zM553.2 229.5h3v1h-3zM594.6 229.5h3v1h-3zM618.3 229.5h3v1h-3zM621.2 229.5h3v1h-3zM627.1 229.5h3v1h-3zM582.8 230.5h3v1h-3zM603.5 230.5h3v1h-3zM582.8 231.5h3v1h-3zM630.1 231.5h3v1h-3zM659.6 231.5h3v1h-3zM547.3 232.5h3v1h-3zM653.7 232.5h3v1h-3zM680.3 232.5h3v1h-3zM568.0 233.5h3v1h-3zM665.6 233.5h3v1h-3zM582.8 234.5h3v1h-3zM591.6 234.5h3v1h-3zM600.5 234.5h3v1h-3zM653.7 234.5h3v1h-3zM668.5 234.5h3v1h-3zM680.3 234.5h3v1h-3zM597.6 235.5h3v1h-3zM582.8 236.5h3v1h-3zM591.6 236.5h3v1h-3zM662.6 236.5h3v1h-3zM562.1 237.5h3v1h-3zM641.9 237.5h3v1h-3zM624.2 238.5h3v1h-3zM650.8 238.5h3v1h-3zM653.7 239.5h3v1h-3zM579.8 240.5h3v1h-3zM671.5 242.5h3v1h-3zM556.2 243.5h3v1h-3zM677.4 243.5h3v1h-3zM553.2 244.5h3v1h-3zM573.9 244.5h3v1h-3zM556.2 245.5h3v1h-3zM624.2 245.5h3v1h-3zM547.3 246.5h3v1h-3zM677.4 246.5h3v1h-3zM582.8 247.5h3v1h-3zM594.6 247.5h3v1h-3zM606.4 247.5h3v1h-3zM571.0 248.5h3v1h-3zM553.2 249.5h3v1h-3zM603.5 249.5h3v1h-3zM609.4 249.5h3v1h-3zM573.9 250.5h3v1h-3zM644.9 250.5h3v1h-3zM588.7 251.5h3v1h-3zM597.6 251.5h3v1h-3zM576.9 252.5h3v1h-3zM597.6 253.5h3v1h-3zM641.9 253.5h3v1h-3zM668.5 253.5h3v1h-3zM568.0 254.5h3v1h-3zM665.6 254.5h3v1h-3zM576.9 255.5h3v1h-3zM615.3 255.5h3v1h-3zM641.9 255.5h3v1h-3zM680.3 255.5h3v1h-3zM559.1 256.5h3v1h-3zM606.4 256.5h3v1h-3zM579.8 257.5h3v1h-3zM644.9 257.5h3v1h-3zM612.3 258.5h3v1h-3zM674.4 258.5h3v1h-3zM615.3 259.5h3v1h-3zM606.4 260.5h3v1h-3zM609.4 260.5h3v1h-3zM641.9 260.5h3v1h-3zM597.6 261.5h3v1h-3zM612.3 261.5h3v1h-3zM562.1 262.5h3v1h-3zM641.9 262.5h3v1h-3zM644.9 262.5h3v1h-3zM573.9 263.5h3v1h-3zM641.9 263.5h3v1h-3zM559.1 264.5h3v1h-3zM571.0 264.5h3v1h-3zM659.6 264.5h3v1h-3zM624.2 265.5h3v1h-3zM659.6 265.5h3v1h-3zM671.5 265.5h3v1h-3zM547.3 266.5h3v1h-3zM579.8 266.5h3v1h-3zM615.3 266.5h3v1h-3zM674.4 266.5h3v1h-3zM603.5 267.5h3v1h-3zM627.1 267.5h3v1h-3zM639.0 267.5h3v1h-3zM659.6 268.5h3v1h-3zM668.5 268.5h3v1h-3zM671.5 269.5h3v1h-3zM585.7 270.5h3v1h-3zM597.6 270.5h3v1h-3zM600.5 270.5h3v1h-3zM609.4 270.5h3v1h-3z"/>
<path fill="#ffffff" d="M568.0 145.6h3v1h-3zM585.7 145.6h3v1h-3zM668.5 145.6h3v1h-3zM665.6 146.6h3v1h-3zM671.5 146.6h3v1h-3zM565.0 147.6h3v1h-3zM659.6 149.6h3v1h-3zM591.6 151.6h3v1h-3zM659.6 151.6h3v1h-3zM618.3 153.6h3v1h-3zM553.2 154.6h3v1h-3zM594.6 154.6h3v1h-3zM603.5 154.6h3v1h-3zM621.2 154.6h3v1h-3zM556.2 155.6h3v1h-3zM585.7 156.6h3v1h-3zM621.2 156.6h3v1h-3zM636.0 156.6h3v1h-3zM633.0 157.6h3v1h-3zM547.3 158.6h3v1h-3zM556.2 158.6h3v1h-3zM621.2 158.6h3v1h-3zM677.4 158.6h3v1h-3zM621.2 159.6h3v1h-3zM630.1 159.6h3v1h-3zM677.4 160.6h3v1h-3zM550.3 161.6h3v1h-3zM656.7 161.6h3v1h-3zM656.7 162.6h3v1h-3zM550.3 163.6h3v1h-3zM641.9 163.6h3v1h-3zM647.8 163.6h3v1h-3zM665.6 163.6h3v1h-3zM677.4 163.6h3v1h-3zM550.3 164.6h3v1h-3zM612.3 164.6h3v1h-3zM671.5 164.6h3v1h-3zM603.5 165.6h3v1h-3zM630.1 165.6h3v1h-3zM606.4 166.6h3v1h-3zM680.3 166.6h3v1h-3zM644.9 167.6h3v1h-3zM680.3 167.6h3v1h-3zM553.2 168.6h3v1h-3zM674.4 168.6h3v1h-3zM636.0 169.6h3v1h-3zM556.2 170.6h3v1h-3zM680.3 170.6h3v1h-3zM576.9 171.6h3v1h-3zM665.6 171.6h3v1h-3zM556.2 172.6h3v1h-3zM606.4 172.6h3v1h-3zM665.6 172.6h3v1h-3zM553.2 173.6h3v1h-3zM674.4 173.6h3v1h-3zM615.3 174.6h3v1h-3zM550.3 175.6h3v1h-3zM576.9 176.6h3v1h-3zM630.1 176.6h3v1h-3zM674.4 178.6h3v1h-3zM677.4 178.6h3v1h-3zM600.5 179.6h3v1h-3zM615.3 179.6h3v1h-3zM609.4 180.6h3v1h-3zM615.3 180.6h3v1h-3zM644.9 180.6h3v1h-3zM668.5 180.6h3v1h-3zM668.5 181.6h3v1h-3zM668.5 184.6h3v1h-3zM680.3 184.6h3v1h-3zM571.0 185.6h3v1h-3zM641.9 185.6h3v1h-3zM597.6 187.6h3v1h-3zM600.5 187.6h3v1h-3zM671.5 187.6h3v1h-3zM615.3 189.6h3v1h-3zM647.8 190.6h3v1h-3zM665.6 190.6h3v1h-3zM639.0 192.6h3v1h-3zM659.6 192.6h3v1h-3zM579.8 193.6h3v1h-3zM594.6 193.6h3v1h-3zM668.5 193.6h3v1h-3zM671.5 193.6h3v1h-3zM556.2 194.6h3v1h-3zM594.6 194.6h3v1h-3zM597.6 194.6h3v1h-3zM562.1 195.6h3v1h-3zM594.6 195.6h3v1h-3zM671.5 195.6h3v1h-3zM556.2 197.6h3v1h-3zM565.0 197.6h3v1h-3zM571.0 197.6h3v1h-3zM594.6 198.6h3v1h-3zM600.5 198.6h3v1h-3zM641.9 198.6h3v1h-3zM579.8 199.6h3v1h-3zM671.5 199.6h3v1h-3zM559.1 202.6h3v1h-3zM630.1 202.6h3v1h-3zM633.0 203.6h3v1h-3zM659.6 203.6h3v1h-3zM665.6 203.6h3v1h-3zM671.5 203.6h3v1h-3zM677.4 204.6h3v1h-3zM568.0 205.6h3v1h-3zM633.0 205.6h3v1h-3zM665.6 205.6h3v1h-3zM603.5 206.6h3v1h-3zM644.9 206.6h3v1h-3zM668.5 206.6h3v1h-3zM588.7 207.6h3v1h-3zM650.8 207.6h3v1h-3zM662.6 207.6h3v1h-3zM665.6 208.5h3v1h-3zM615.3 209.5h3v1h-3zM553.2 210.5h3v1h-3zM562.1 210.5h3v1h-3zM559.1 211.5h3v1h-3zM597.6 212.5h3v1h-3zM582.8 213.5h3v1h-3zM612.3 213.5h3v1h-3zM656.7 213.5h3v1h-3zM600.5 214.5h3v1h-3zM656.7 214.5h3v1h-3zM659.6 215.5h3v1h-3zM671.5 215.5h3v1h-3zM568.0 216.5h3v1h-3zM600.5 216.5h3v1h-3zM556.2 217.5h3v1h-3zM627.1 217.5h3v1h-3zM668.5 217.5h3v1h-3zM639.0 218.5h3v1h-3zM662.6 218.5h3v1h-3zM582.8 219.5h3v1h-3zM636.0 220.5h3v1h-3zM671.5 221.5h3v1h-3zM594.6 222.5h3v1h-3zM565.0 223.5h3v1h-3zM588.7 223.5h3v1h-3zM659.6 224.5h3v1h-3zM556.2 225.5h3v1h-3zM630.1 225.5h3v1h-3zM633.0 225.5h3v1h-3zM659.6 225.5h3v1h-3zM568.0 226.5h3v1h-3zM585.7 226.5h3v1h-3zM633.0 226.5h3v1h-3zM559.1 227.5h3v1h-3zM582.8 227.5h3v1h-3zM630.1 229.5h3v1h-3zM562.1 230.5h3v1h-3zM653.7 230.5h3v1h-3zM668.5 230.5h3v1h-3zM553.2 231.5h3v1h-3zM562.1 231.5h3v1h-3zM585.7 231.5h3v1h-3zM547.3 233.5h3v1h-3zM588.7 233.5h3v1h-3zM600.5 233.5h3v1h-3zM553.2 234.5h3v1h-3zM553.2 235.5h3v1h-3zM585.7 235.5h3v1h-3zM600.5 235.5h3v1h-3zM668.5 235.5h3v1h-3zM553.2 236.5h3v1h-3zM559.1 236.5h3v1h-3zM650.8 236.5h3v1h-3zM671.5 237.5h3v1h-3zM677.4 237.5h3v1h-3zM562.1 238.5h3v1h-3zM612.3 238.5h3v1h-3zM559.1 239.5h3v1h-3zM659.6 239.5h3v1h-3zM662.6 239.5h3v1h-3zM588.7 240.5h3v1h-3zM624.2 240.5h3v1h-3zM627.1 240.5h3v1h-3zM656.7 240.5h3v1h-3zM597.6 241.5h3v1h-3zM624.2 241.5h3v1h-3zM627.1 241.5h3v1h-3zM653.7 241.5h3v1h-3zM659.6 241.5h3v1h-3zM665.6 241.5h3v1h-3zM630.1 242.5h3v1h-3zM573.9 243.5h3v1h-3zM594.6 243.5h3v1h-3zM668.5 243.5h3v1h-3zM547.3 244.5h3v1h-3zM568.0 244.5h3v1h-3zM621.2 244.5h3v1h-3zM644.9 244.5h3v1h-3zM550.3 245.5h3v1h-3zM553.2 245.5h3v1h-3zM603.5 245.5h3v1h-3zM588.7 246.5h3v1h-3zM624.2 246.5h3v1h-3zM627.1 246.5h3v1h-3zM573.9 247.5h3v1h-3zM680.3 247.5h3v1h-3zM618.3 248.5h3v1h-3zM621.2 248.5h3v1h-3zM624.2 249.5h3v1h-3zM650.8 249.5h3v1h-3zM680.3 249.5h3v1h-3zM615.3 250.5h3v1h-3zM624.2 250.5h3v1h-3zM662.6 250.5h3v1h-3zM559.1 251.5h3v1h-3zM609.4 251.5h3v1h-3zM618.3 251.5h3v1h-3zM597.6 252.5h3v1h-3zM609.4 252.5h3v1h-3zM547.3 253.5h3v1h-3zM556.2 253.5h3v1h-3zM674.4 253.5h3v1h-3zM615.3 254.5h3v1h-3zM644.9 254.5h3v1h-3zM606.4 255.5h3v1h-3zM639.0 255.5h3v1h-3zM650.8 255.5h3v1h-3zM618.3 256.5h3v1h-3zM576.9 257.5h3v1h-3zM677.4 257.5h3v1h-3zM680.3 257.5h3v1h-3zM556.2 258.5h3v1h-3zM576.9 258.5h3v1h-3zM553.2 259.5h3v1h-3zM579.8 259.5h3v1h-3zM618.3 259.5h3v1h-3zM662.6 259.5h3v1h-3zM674.4 259.5h3v1h-3zM547.3 260.5h3v1h-3zM603.5 260.5h3v1h-3zM633.0 260.5h3v1h-3zM671.5 260.5h3v1h-3zM615.3 261.5h3v1h-3zM636.0 261.5h3v1h-3zM677.4 261.5h3v1h-3zM573.9 262.5h3v1h-3zM600.5 262.5h3v1h-3zM650.8 262.5h3v1h-3zM576.9 263.5h3v1h-3zM644.9 263.5h3v1h-3zM606.4 264.5h3v1h-3zM630.1 264.5h3v1h-3zM636.0 264.5h3v1h-3zM641.9 264.5h3v1h-3zM573.9 265.5h3v1h-3zM641.9 265.5h3v1h-3zM674.4 265.5h3v1h-3zM562.1 266.5h3v1h-3zM576.9 266.5h3v1h-3zM571.0 268.5h3v1h-3zM653.7 268.5h3v1h-3zM665.6 269.5h3v1h-3zM630.1 270.5h3v1h-3zM641.9 270.5h3v1h-3zM662.6 270.5h3v1h-3z"/>
<path fill="#fff8f8" d="M650.8 144.6h3v1h-3zM653.7 144.6h3v1h-3zM656.7 144.6h3v1h-3zM662.6 145.6h3v1h-3zM550.3 146.6h3v1h-3zM618.3 146.6h3v1h-3zM639.0 146.6h3v1h-3zM671.5 147.6h3v1h-3zM597.6 148.6h3v1h-3zM603.5 148.6h3v1h-3zM612.3 148.6h3v1h-3zM639.0 148.6h3v1h-3zM668.5 148.6h3v1h-3zM591.6 149.6h3v1h-3zM609.4 149.6h3v1h-3zM633.0 149.6h3v1h-3zM636.0 149.6h3v1h-3zM650.8 149.6h3v1h-3zM662.6 149.6h3v1h-3zM668.5 149.6h3v1h-3zM671.5 150.6h3v1h-3zM585.7 151.6h3v1h-3zM668.5 151.6h3v1h-3zM671.5 151.6h3v1h-3zM582.8 152.6h3v1h-3zM585.7 152.6h3v1h-3zM615.3 153.6h3v1h-3zM630.1 153.6h3v1h-3zM556.2 154.6h3v1h-3zM618.3 155.6h3v1h-3zM556.2 156.6h3v1h-3zM653.7 157.6h3v1h-3zM606.4 158.6h3v1h-3zM612.3 158.6h3v1h-3zM665.6 158.6h3v1h-3zM556.2 159.6h3v1h-3zM550.3 160.6h3v1h-3zM588.7 160.6h3v1h-3zM627.1 160.6h3v1h-3zM606.4 161.6h3v1h-3zM650.8 161.6h3v1h-3zM582.8 162.6h3v1h-3zM609.4 162.6h3v1h-3zM615.3 162.6h3v1h-3zM659.6 162.6h3v1h-3zM547.3 163.6h3v1h-3zM591.6 163.6h3v1h-3zM612.3 163.6h3v1h-3zM659.6 165.6h3v1h-3zM550.3 168.6h3v1h-3zM571.0 168.6h3v1h-3zM609.4 169.6h3v1h-3zM659.6 169.6h3v1h-3zM647.8 170.6h3v1h-3zM603.5 171.6h3v1h-3zM609.4 172.6h3v1h-3zM662.6 172.6h3v1h-3zM606.4 173.6h3v1h-3zM662.6 173.6h3v1h-3zM573.9 174.6h3v1h-3zM641.9 174.6h3v1h-3zM677.4 174.6h3v1h-3zM650.8 175.6h3v1h-3zM603.5 176.6h3v1h-3zM609.4 176.6h3v1h-3zM665.6 176.6h3v1h-3zM565.0 177.6h3v1h-3zM576.9 177.6h3v1h-3zM579.8 177.6h3v1h-3zM606.4 177.6h3v1h-3zM668.5 177.6h3v1h-3zM612.3 179.6h3v1h-3zM571.0 180.6h3v1h-3zM579.8 180.6h3v1h-3zM600.5 180.6h3v1h-3zM659.6 180.6h3v1h-3zM674.4 181.6h3v1h-3zM680.3 182.6h3v1h-3zM641.9 183.6h3v1h-3zM668.5 183.6h3v1h-3zM565.0 184.6h3v1h-3zM594.6 184.6h3v1h-3zM615.3 185.6h3v1h-3zM606.4 186.6h3v1h-3zM665.6 186.6h3v1h-3zM579.8 187.6h3v1h-3zM565.0 188.6h3v1h-3zM630.1 188.6h3v1h-3zM668.5 188.6h3v1h-3zM671.5 188.6h3v1h-3zM647.8 189.6h3v1h-3zM665.6 189.6h3v1h-3zM668.5 189.6h3v1h-3zM594.6 191.6h3v1h-3zM647.8 191.6h3v1h-3zM615.3 192.6h3v1h-3zM573.9 193.6h3v1h-3zM597.6 193.6h3v1h-3zM600.5 194.6h3v1h-3zM603.5 194.6h3v1h-3zM671.5 194.6h3v1h-3zM568.0 195.6h3v1h-3zM571.0 195.6h3v1h-3zM633.0 195.6h3v1h-3zM594.6 196.6h3v1h-3zM606.4 196.6h3v1h-3zM612.3 196.6h3v1h-3zM662.6 196.6h3v1h-3zM671.5 196.6h3v1h-3zM568.0 197.6h3v1h-3zM644.9 197.6h3v1h-3zM650.8 197.6h3v1h-3zM668.5 198.6h3v1h-3zM671.5 198.6h3v1h-3zM609.4 199.6h3v1h-3zM662.6 199.6h3v1h-3zM665.6 200.6h3v1h-3zM668.5 200.6h3v1h-3zM582.8 201.6h3v1h-3zM603.5 201.6h3v1h-3zM668.5 201.6h3v1h-3zM600.5 202.6h3v1h-3zM603.5 202.6h3v1h-3zM612.3 202.6h3v1h-3zM656.7 202.6h3v1h-3zM665.6 202.6h3v1h-3zM559.1 203.6h3v1h-3zM639.0 203.6h3v1h-3zM588.7 204.6h3v1h-3zM630.1 204.6h3v1h-3zM656.7 207.6h3v1h-3zM588.7 208.5h3v1h-3zM600.5 208.5h3v1h-3zM662.6 208.5h3v1h-3zM594.6 209.5h3v1h-3zM603.5 209.5h3v1h-3zM609.4 209.5h3v1h-3zM668.5 209.5h3v1h-3zM633.0 210.5h3v1h-3zM568.0 211.5h3v1h-3zM633.0 212.5h3v1h-3zM659.6 213.5h3v1h-3zM591.6 214.5h3v1h-3zM603.5 214.5h3v1h-3zM606.4 215.5h3v1h-3zM656.7 215.5h3v1h-3zM562.1 217.5h3v1h-3zM556.2 218.5h3v1h-3zM591.6 218.5h3v1h-3zM650.8 218.5h3v1h-3zM562.1 219.5h3v1h-3zM597.6 219.5h3v1h-3zM639.0 219.5h3v1h-3zM668.5 219.5h3v1h-3zM568.0 220.5h3v1h-3zM662.6 221.5h3v1h-3zM582.8 222.5h3v1h-3zM659.6 222.5h3v1h-3zM568.0 223.5h3v1h-3zM630.1 223.5h3v1h-3zM633.0 223.5h3v1h-3zM659.6 223.5h3v1h-3zM665.6 223.5h3v1h-3zM633.0 224.5h3v1h-3zM639.0 225.5h3v1h-3zM559.1 226.5h3v1h-3zM591.6 226.5h3v1h-3zM650.8 226.5h3v1h-3zM656.7 226.5h3v1h-3zM582.8 229.5h3v1h-3zM585.7 229.5h3v1h-3zM677.4 229.5h3v1h-3zM553.2 230.5h3v1h-3zM653.7 231.5h3v1h-3zM659.6 232.5h3v1h-3zM553.2 233.5h3v1h-3zM644.9 233.5h3v1h-3zM653.7 233.5h3v1h-3zM556.2 234.5h3v1h-3zM588.7 234.5h3v1h-3zM677.4 234.5h3v1h-3zM568.0 235.5h3v1h-3zM588.7 235.5h3v1h-3zM653.7 235.5h3v1h-3zM659.6 235.5h3v1h-3zM588.7 236.5h3v1h-3zM627.1 236.5h3v1h-3zM668.5 236.5h3v1h-3zM588.7 237.5h3v1h-3zM680.3 237.5h3v1h-3zM547.3 238.5h3v1h-3zM674.4 238.5h3v1h-3zM556.2 240.5h3v1h-3zM618.3 240.5h3v1h-3zM559.1 241.5h3v1h-3zM606.4 241.5h3v1h-3zM636.0 241.5h3v1h-3zM641.9 241.5h3v1h-3zM656.7 241.5h3v1h-3zM576.9 242.5h3v1h-3zM618.3 242.5h3v1h-3zM641.9 243.5h3v1h-3zM659.6 243.5h3v1h-3zM680.3 243.5h3v1h-3zM550.3 244.5h3v1h-3zM571.0 244.5h3v1h-3zM627.1 244.5h3v1h-3zM671.5 245.5h3v1h-3zM647.8 246.5h3v1h-3zM650.8 246.5h3v1h-3zM579.8 247.5h3v1h-3zM615.3 247.5h3v1h-3zM621.2 247.5h3v1h-3zM653.7 247.5h3v1h-3zM665.6 247.5h3v1h-3zM644.9 248.5h3v1h-3zM618.3 249.5h3v1h-3zM576.9 250.5h3v1h-3zM579.8 251.5h3v1h-3zM550.3 252.5h3v1h-3zM556.2 252.5h3v1h-3zM579.8 252.5h3v1h-3zM627.1 252.5h3v1h-3zM553.2 253.5h3v1h-3zM639.0 254.5h3v1h-3zM677.4 254.5h3v1h-3zM644.9 255.5h3v1h-3zM562.1 256.5h3v1h-3zM624.2 256.5h3v1h-3zM653.7 257.5h3v1h-3zM573.9 258.5h3v1h-3zM624.2 258.5h3v1h-3zM630.1 258.5h3v1h-3zM644.9 258.5h3v1h-3zM665.6 258.5h3v1h-3zM571.0 259.5h3v1h-3zM603.5 259.5h3v1h-3zM612.3 259.5h3v1h-3zM641.9 259.5h3v1h-3zM644.9 259.5h3v1h-3zM571.0 260.5h3v1h-3zM576.9 260.5h3v1h-3zM603.5 261.5h3v1h-3zM606.4 261.5h3v1h-3zM579.8 263.5h3v1h-3zM633.0 263.5h3v1h-3zM612.3 264.5h3v1h-3zM674.4 264.5h3v1h-3zM571.0 265.5h3v1h-3zM621.2 265.5h3v1h-3zM559.1 266.5h3v1h-3zM641.9 266.5h3v1h-3zM647.8 266.5h3v1h-3zM565.0 267.5h3v1h-3zM647.8 267.5h3v1h-3zM615.3 269.5h3v1h-3zM621.2 269.5h3v1h-3zM565.0 270.5h3v1h-3zM571.0 270.5h3v1h-3zM576.9 270.5h3v1h-3zM579.8 270.5h3v1h-3zM633.0 270.5h3v1h-3zM677.4 270.5h3v1h-3z"/>
<path fill="#fff0f0" d="M591.6 144.6h3v1h-3zM630.1 144.6h3v1h-3zM600.5 145.6h3v1h-3zM591.6 147.6h3v1h-3zM597.6 147.6h3v1h-3zM609.4 147.6h3v1h-3zM630.1 147.6h3v1h-3zM668.5 147.6h3v1h-3zM615.3 148.6h3v1h-3zM624.2 148.6h3v1h-3zM603.5 149.6h3v1h-3zM627.1 149.6h3v1h-3zM674.4 149.6h3v1h-3zM594.6 150.6h3v1h-3zM615.3 150.6h3v1h-3zM668.5 150.6h3v1h-3zM674.4 150.6h3v1h-3zM603.5 151.6h3v1h-3zM618.3 151.6h3v1h-3zM565.0 152.6h3v1h-3zM612.3 152.6h3v1h-3zM624.2 152.6h3v1h-3zM674.4 152.6h3v1h-3zM547.3 153.6h3v1h-3zM547.3 154.6h3v1h-3zM606.4 154.6h3v1h-3zM662.6 154.6h3v1h-3zM550.3 155.6h3v1h-3zM665.6 155.6h3v1h-3zM553.2 156.6h3v1h-3zM568.0 156.6h3v1h-3zM582.8 156.6h3v1h-3zM624.2 156.6h3v1h-3zM674.4 156.6h3v1h-3zM550.3 157.6h3v1h-3zM582.8 157.6h3v1h-3zM591.6 157.6h3v1h-3zM618.3 157.6h3v1h-3zM591.6 158.6h3v1h-3zM615.3 158.6h3v1h-3zM618.3 158.6h3v1h-3zM656.7 158.6h3v1h-3zM653.7 159.6h3v1h-3zM656.7 159.6h3v1h-3zM553.2 160.6h3v1h-3zM553.2 161.6h3v1h-3zM582.8 161.6h3v1h-3zM674.4 161.6h3v1h-3zM606.4 162.6h3v1h-3zM674.4 162.6h3v1h-3zM677.4 162.6h3v1h-3zM609.4 163.6h3v1h-3zM627.1 163.6h3v1h-3zM656.7 163.6h3v1h-3zM547.3 164.6h3v1h-3zM606.4 164.6h3v1h-3zM615.3 164.6h3v1h-3zM665.6 164.6h3v1h-3zM680.3 164.6h3v1h-3zM662.6 165.6h3v1h-3zM615.3 166.6h3v1h-3zM641.9 166.6h3v1h-3zM659.6 166.6h3v1h-3zM588.7 167.6h3v1h-3zM665.6 167.6h3v1h-3zM674.4 167.6h3v1h-3zM644.9 168.6h3v1h-3zM547.3 170.6h3v1h-3zM641.9 170.6h3v1h-3zM606.4 171.6h3v1h-3zM680.3 171.6h3v1h-3zM603.5 172.6h3v1h-3zM571.0 174.6h3v1h-3zM606.4 174.6h3v1h-3zM647.8 174.6h3v1h-3zM615.3 175.6h3v1h-3zM665.6 175.6h3v1h-3zM644.9 176.6h3v1h-3zM647.8 176.6h3v1h-3zM668.5 176.6h3v1h-3zM594.6 177.6h3v1h-3zM641.9 177.6h3v1h-3zM576.9 178.6h3v1h-3zM647.8 178.6h3v1h-3zM653.7 178.6h3v1h-3zM668.5 178.6h3v1h-3zM665.6 179.6h3v1h-3zM680.3 180.6h3v1h-3zM579.8 181.6h3v1h-3zM606.4 181.6h3v1h-3zM576.9 182.6h3v1h-3zM609.4 182.6h3v1h-3zM615.3 182.6h3v1h-3zM647.8 182.6h3v1h-3zM665.6 182.6h3v1h-3zM668.5 182.6h3v1h-3zM600.5 183.6h3v1h-3zM644.9 183.6h3v1h-3zM647.8 183.6h3v1h-3zM571.0 184.6h3v1h-3zM576.9 184.6h3v1h-3zM647.8 184.6h3v1h-3zM600.5 185.6h3v1h-3zM644.9 185.6h3v1h-3zM677.4 185.6h3v1h-3zM603.5 186.6h3v1h-3zM612.3 186.6h3v1h-3zM647.8 186.6h3v1h-3zM576.9 187.6h3v1h-3zM612.3 187.6h3v1h-3zM665.6 187.6h3v1h-3zM636.0 188.6h3v1h-3zM606.4 189.6h3v1h-3zM644.9 189.6h3v1h-3zM662.6 189.6h3v1h-3zM641.9 190.6h3v1h-3zM668.5 190.6h3v1h-3zM680.3 190.6h3v1h-3zM641.9 191.6h3v1h-3zM565.0 192.6h3v1h-3zM600.5 193.6h3v1h-3zM659.6 193.6h3v1h-3zM665.6 193.6h3v1h-3zM568.0 194.6h3v1h-3zM665.6 194.6h3v1h-3zM597.6 197.6h3v1h-3zM653.7 197.6h3v1h-3zM644.9 198.6h3v1h-3zM603.5 199.6h3v1h-3zM641.9 199.6h3v1h-3zM656.7 199.6h3v1h-3zM582.8 200.6h3v1h-3zM597.6 201.6h3v1h-3zM594.6 202.6h3v1h-3zM668.5 202.6h3v1h-3zM671.5 202.6h3v1h-3zM565.0 203.6h3v1h-3zM597.6 203.6h3v1h-3zM600.5 203.6h3v1h-3zM603.5 204.6h3v1h-3zM668.5 204.6h3v1h-3zM656.7 205.6h3v1h-3zM671.5 206.6h3v1h-3zM594.6 207.6h3v1h-3zM641.9 208.5h3v1h-3zM668.5 208.5h3v1h-3zM562.1 209.5h3v1h-3zM665.6 209.5h3v1h-3zM594.6 210.5h3v1h-3zM668.5 210.5h3v1h-3zM562.1 211.5h3v1h-3zM568.0 212.5h3v1h-3zM591.6 212.5h3v1h-3zM668.5 212.5h3v1h-3zM565.0 213.5h3v1h-3zM565.0 214.5h3v1h-3zM653.7 214.5h3v1h-3zM671.5 214.5h3v1h-3zM559.1 215.5h3v1h-3zM582.8 216.5h3v1h-3zM650.8 216.5h3v1h-3zM659.6 216.5h3v1h-3zM565.0 217.5h3v1h-3zM568.0 217.5h3v1h-3zM576.9 217.5h3v1h-3zM659.6 217.5h3v1h-3zM653.7 219.5h3v1h-3zM677.4 219.5h3v1h-3zM565.0 220.5h3v1h-3zM627.1 220.5h3v1h-3zM639.0 220.5h3v1h-3zM668.5 220.5h3v1h-3zM565.0 221.5h3v1h-3zM582.8 221.5h3v1h-3zM659.6 221.5h3v1h-3zM568.0 222.5h3v1h-3zM633.0 222.5h3v1h-3zM636.0 222.5h3v1h-3zM553.2 224.5h3v1h-3zM559.1 224.5h3v1h-3zM656.7 224.5h3v1h-3zM579.8 225.5h3v1h-3zM653.7 226.5h3v1h-3zM568.0 227.5h3v1h-3zM591.6 227.5h3v1h-3zM639.0 227.5h3v1h-3zM547.3 228.5h3v1h-3zM585.7 228.5h3v1h-3zM639.0 228.5h3v1h-3zM556.2 230.5h3v1h-3zM591.6 230.5h3v1h-3zM639.0 230.5h3v1h-3zM647.8 230.5h3v1h-3zM550.3 231.5h3v1h-3zM591.6 231.5h3v1h-3zM591.6 232.5h3v1h-3zM630.1 232.5h3v1h-3zM656.7 232.5h3v1h-3zM627.1 233.5h3v1h-3zM662.6 233.5h3v1h-3zM562.1 234.5h3v1h-3zM615.3 234.5h3v1h-3zM674.4 234.5h3v1h-3zM612.3 236.5h3v1h-3zM636.0 236.5h3v1h-3zM656.7 236.5h3v1h-3zM680.3 236.5h3v1h-3zM618.3 237.5h3v1h-3zM624.2 237.5h3v1h-3zM656.7 237.5h3v1h-3zM553.2 238.5h3v1h-3zM647.8 240.5h3v1h-3zM653.7 240.5h3v1h-3zM559.1 242.5h3v1h-3zM621.2 242.5h3v1h-3zM633.0 242.5h3v1h-3zM639.0 242.5h3v1h-3zM550.3 243.5h3v1h-3zM606.4 243.5h3v1h-3zM559.1 244.5h3v1h-3zM618.3 244.5h3v1h-3zM633.0 244.5h3v1h-3zM618.3 245.5h3v1h-3zM653.7 245.5h3v1h-3zM553.2 246.5h3v1h-3zM579.8 246.5h3v1h-3zM644.9 246.5h3v1h-3zM659.6 246.5h3v1h-3zM671.5 247.5h3v1h-3zM624.2 248.5h3v1h-3zM606.4 249.5h3v1h-3zM547.3 250.5h3v1h-3zM553.2 250.5h3v1h-3zM618.3 250.5h3v1h-3zM639.0 250.5h3v1h-3zM677.4 250.5h3v1h-3zM553.2 251.5h3v1h-3zM656.7 251.5h3v1h-3zM550.3 253.5h3v1h-3zM627.1 253.5h3v1h-3zM630.1 253.5h3v1h-3zM671.5 253.5h3v1h-3zM550.3 254.5h3v1h-3zM641.9 254.5h3v1h-3zM565.0 256.5h3v1h-3zM576.9 256.5h3v1h-3zM630.1 256.5h3v1h-3zM680.3 256.5h3v1h-3zM606.4 257.5h3v1h-3zM674.4 257.5h3v1h-3zM553.2 258.5h3v1h-3zM618.3 258.5h3v1h-3zM633.0 258.5h3v1h-3zM641.9 258.5h3v1h-3zM677.4 259.5h3v1h-3zM559.1 261.5h3v1h-3zM562.1 261.5h3v1h-3zM576.9 261.5h3v1h-3zM644.9 261.5h3v1h-3zM674.4 261.5h3v1h-3zM579.8 262.5h3v1h-3zM597.6 262.5h3v1h-3zM603.5 262.5h3v1h-3zM674.4 262.5h3v1h-3zM609.4 263.5h3v1h-3zM612.3 263.5h3v1h-3zM565.0 264.5h3v1h-3zM665.6 264.5h3v1h-3zM671.5 264.5h3v1h-3zM576.9 265.5h3v1h-3zM579.8 265.5h3v1h-3zM615.3 265.5h3v1h-3zM644.9 265.5h3v1h-3zM609.4 268.5h3v1h-3zM621.2 268.5h3v1h-3zM571.0 269.5h3v1h-3zM624.2 269.5h3v1h-3zM662.6 269.5h3v1h-3zM668.5 269.5h3v1h-3zM674.4 269.5h3v1h-3zM680.3 269.5h3v1h-3zM647.8 270.5h3v1h-3zM680.3 270.5h3v1h-3z"/>
<path fill="#ffe9e9" d="M553.2 144.6h3v1h-3zM606.4 144.6h3v1h-3zM615.3 144.6h3v1h-3zM624.2 144.6h3v1h-3zM662.6 144.6h3v1h-3zM668.5 144.6h3v1h-3zM680.3 144.6h3v1h-3zM556.2 145.6h3v1h-3zM674.4 145.6h3v1h-3zM615.3 146.6h3v1h-3zM630.1 146.6h3v1h-3zM606.4 147.6h3v1h-3zM568.0 149.6h3v1h-3zM594.6 149.6h3v1h-3zM671.5 149.6h3v1h-3zM556.2 150.6h3v1h-3zM606.4 150.6h3v1h-3zM662.6 150.6h3v1h-3zM609.4 151.6h3v1h-3zM662.6 151.6h3v1h-3zM606.4 152.6h3v1h-3zM621.2 152.6h3v1h-3zM553.2 153.6h3v1h-3zM603.5 153.6h3v1h-3zM674.4 153.6h3v1h-3zM568.0 154.6h3v1h-3zM609.4 154.6h3v1h-3zM615.3 154.6h3v1h-3zM624.2 154.6h3v1h-3zM665.6 154.6h3v1h-3zM600.5 155.6h3v1h-3zM621.2 155.6h3v1h-3zM630.1 155.6h3v1h-3zM662.6 155.6h3v1h-3zM547.3 156.6h3v1h-3zM650.8 156.6h3v1h-3zM671.5 156.6h3v1h-3zM600.5 157.6h3v1h-3zM621.2 157.6h3v1h-3zM668.5 157.6h3v1h-3zM585.7 158.6h3v1h-3zM668.5 158.6h3v1h-3zM556.2 161.6h3v1h-3zM653.7 161.6h3v1h-3zM671.5 161.6h3v1h-3zM591.6 162.6h3v1h-3zM594.6 164.6h3v1h-3zM668.5 164.6h3v1h-3zM582.8 165.6h3v1h-3zM597.6 165.6h3v1h-3zM609.4 165.6h3v1h-3zM680.3 165.6h3v1h-3zM553.2 166.6h3v1h-3zM612.3 166.6h3v1h-3zM671.5 168.6h3v1h-3zM600.5 169.6h3v1h-3zM665.6 169.6h3v1h-3zM677.4 169.6h3v1h-3zM576.9 170.6h3v1h-3zM609.4 170.6h3v1h-3zM653.7 170.6h3v1h-3zM659.6 170.6h3v1h-3zM671.5 170.6h3v1h-3zM597.6 171.6h3v1h-3zM656.7 171.6h3v1h-3zM671.5 171.6h3v1h-3zM674.4 172.6h3v1h-3zM680.3 172.6h3v1h-3zM636.0 174.6h3v1h-3zM644.9 175.6h3v1h-3zM671.5 176.6h3v1h-3zM644.9 177.6h3v1h-3zM609.4 178.6h3v1h-3zM656.7 178.6h3v1h-3zM659.6 178.6h3v1h-3zM665.6 178.6h3v1h-3zM674.4 179.6h3v1h-3zM662.6 180.6h3v1h-3zM674.4 180.6h3v1h-3zM594.6 181.6h3v1h-3zM579.8 182.6h3v1h-3zM597.6 182.6h3v1h-3zM641.9 182.6h3v1h-3zM656.7 182.6h3v1h-3zM573.9 183.6h3v1h-3zM573.9 184.6h3v1h-3zM579.8 184.6h3v1h-3zM582.8 184.6h3v1h-3zM653.7 185.6h3v1h-3zM668.5 185.6h3v1h-3zM650.8 186.6h3v1h-3zM650.8 187.6h3v1h-3zM653.7 187.6h3v1h-3zM573.9 188.6h3v1h-3zM644.9 188.6h3v1h-3zM653.7 188.6h3v1h-3zM659.6 188.6h3v1h-3zM662.6 188.6h3v1h-3zM641.9 189.6h3v1h-3zM656.7 189.6h3v1h-3zM576.9 190.6h3v1h-3zM630.1 190.6h3v1h-3zM659.6 191.6h3v1h-3zM662.6 191.6h3v1h-3zM665.6 191.6h3v1h-3zM594.6 192.6h3v1h-3zM582.8 193.6h3v1h-3zM603.5 193.6h3v1h-3zM641.9 193.6h3v1h-3zM647.8 193.6h3v1h-3zM653.7 193.6h3v1h-3zM653.7 194.6h3v1h-3zM597.6 195.6h3v1h-3zM650.8 195.6h3v1h-3zM656.7 195.6h3v1h-3zM600.5 197.6h3v1h-3zM594.6 199.6h3v1h-3zM600.5 199.6h3v1h-3zM600.5 200.6h3v1h-3zM650.8 200.6h3v1h-3zM662.6 200.6h3v1h-3zM650.8 201.6h3v1h-3zM671.5 201.6h3v1h-3zM662.6 202.6h3v1h-3zM594.6 204.6h3v1h-3zM636.0 204.6h3v1h-3zM662.6 205.6h3v1h-3zM600.5 206.6h3v1h-3zM641.9 206.6h3v1h-3zM650.8 206.6h3v1h-3zM579.8 207.6h3v1h-3zM603.5 208.5h3v1h-3zM653.7 208.5h3v1h-3zM644.9 209.5h3v1h-3zM571.0 210.5h3v1h-3zM594.6 211.5h3v1h-3zM647.8 211.5h3v1h-3zM650.8 211.5h3v1h-3zM656.7 211.5h3v1h-3zM662.6 211.5h3v1h-3zM653.7 212.5h3v1h-3zM562.1 214.5h3v1h-3zM630.1 214.5h3v1h-3zM662.6 214.5h3v1h-3zM668.5 214.5h3v1h-3zM591.6 215.5h3v1h-3zM653.7 216.5h3v1h-3zM665.6 216.5h3v1h-3zM633.0 218.5h3v1h-3zM653.7 218.5h3v1h-3zM568.0 219.5h3v1h-3zM600.5 219.5h3v1h-3zM559.1 220.5h3v1h-3zM588.7 220.5h3v1h-3zM600.5 220.5h3v1h-3zM647.8 221.5h3v1h-3zM650.8 221.5h3v1h-3zM647.8 222.5h3v1h-3zM653.7 222.5h3v1h-3zM585.7 223.5h3v1h-3zM565.0 224.5h3v1h-3zM559.1 225.5h3v1h-3zM591.6 225.5h3v1h-3zM585.7 227.5h3v1h-3zM653.7 227.5h3v1h-3zM559.1 228.5h3v1h-3zM562.1 228.5h3v1h-3zM630.1 228.5h3v1h-3zM562.1 229.5h3v1h-3zM588.7 229.5h3v1h-3zM639.0 229.5h3v1h-3zM559.1 230.5h3v1h-3zM565.0 231.5h3v1h-3zM641.9 231.5h3v1h-3zM644.9 231.5h3v1h-3zM591.6 233.5h3v1h-3zM568.0 234.5h3v1h-3zM659.6 234.5h3v1h-3zM650.8 235.5h3v1h-3zM594.6 236.5h3v1h-3zM556.2 237.5h3v1h-3zM644.9 237.5h3v1h-3zM647.8 237.5h3v1h-3zM641.9 238.5h3v1h-3zM547.3 240.5h3v1h-3zM568.0 240.5h3v1h-3zM621.2 241.5h3v1h-3zM647.8 241.5h3v1h-3zM650.8 241.5h3v1h-3zM568.0 242.5h3v1h-3zM573.9 242.5h3v1h-3zM624.2 242.5h3v1h-3zM562.1 243.5h3v1h-3zM559.1 245.5h3v1h-3zM573.9 245.5h3v1h-3zM639.0 245.5h3v1h-3zM644.9 245.5h3v1h-3zM559.1 246.5h3v1h-3zM571.0 246.5h3v1h-3zM573.9 246.5h3v1h-3zM553.2 247.5h3v1h-3zM647.8 247.5h3v1h-3zM627.1 248.5h3v1h-3zM636.0 248.5h3v1h-3zM571.0 249.5h3v1h-3zM579.8 249.5h3v1h-3zM571.0 250.5h3v1h-3zM621.2 250.5h3v1h-3zM627.1 250.5h3v1h-3zM633.0 250.5h3v1h-3zM636.0 250.5h3v1h-3zM556.2 251.5h3v1h-3zM636.0 251.5h3v1h-3zM641.9 251.5h3v1h-3zM647.8 251.5h3v1h-3zM618.3 252.5h3v1h-3zM639.0 252.5h3v1h-3zM659.6 252.5h3v1h-3zM680.3 252.5h3v1h-3zM565.0 253.5h3v1h-3zM579.8 253.5h3v1h-3zM606.4 253.5h3v1h-3zM618.3 253.5h3v1h-3zM624.2 253.5h3v1h-3zM633.0 253.5h3v1h-3zM553.2 254.5h3v1h-3zM571.0 254.5h3v1h-3zM573.9 254.5h3v1h-3zM576.9 254.5h3v1h-3zM612.3 254.5h3v1h-3zM624.2 254.5h3v1h-3zM671.5 254.5h3v1h-3zM547.3 255.5h3v1h-3zM636.0 255.5h3v1h-3zM647.8 255.5h3v1h-3zM556.2 256.5h3v1h-3zM641.9 256.5h3v1h-3zM556.2 257.5h3v1h-3zM612.3 257.5h3v1h-3zM618.3 257.5h3v1h-3zM633.0 257.5h3v1h-3zM559.1 258.5h3v1h-3zM597.6 258.5h3v1h-3zM547.3 259.5h3v1h-3zM639.0 260.5h3v1h-3zM579.8 261.5h3v1h-3zM609.4 261.5h3v1h-3zM624.2 261.5h3v1h-3zM677.4 262.5h3v1h-3zM559.1 263.5h3v1h-3zM600.5 263.5h3v1h-3zM562.1 264.5h3v1h-3zM573.9 264.5h3v1h-3zM615.3 264.5h3v1h-3zM618.3 264.5h3v1h-3zM600.5 265.5h3v1h-3zM636.0 265.5h3v1h-3zM550.3 266.5h3v1h-3zM553.2 266.5h3v1h-3zM573.9 266.5h3v1h-3zM612.3 267.5h3v1h-3zM680.3 267.5h3v1h-3zM556.2 268.5h3v1h-3zM562.1 268.5h3v1h-3zM568.0 268.5h3v1h-3zM615.3 268.5h3v1h-3zM636.0 268.5h3v1h-3zM609.4 269.5h3v1h-3zM627.1 269.5h3v1h-3zM644.9 269.5h3v1h-3zM677.4 269.5h3v1h-3z"/>
<path fill="#ffe2e2" d="M600.5 144.6h3v1h-3zM671.5 144.6h3v1h-3zM612.3 145.6h3v1h-3zM621.2 145.6h3v1h-3zM624.2 145.6h3v1h-3zM547.3 146.6h3v1h-3zM594.6 146.6h3v1h-3zM662.6 146.6h3v1h-3zM665.6 147.6h3v1h-3zM609.4 148.6h3v1h-3zM624.2 149.6h3v1h-3zM618.3 150.6h3v1h-3zM624.2 150.6h3v1h-3zM550.3 151.6h3v1h-3zM621.2 151.6h3v1h-3zM550.3 152.6h3v1h-3zM600.5 152.6h3v1h-3zM603.5 152.6h3v1h-3zM615.3 152.6h3v1h-3zM665.6 152.6h3v1h-3zM550.3 153.6h3v1h-3zM621.2 153.6h3v1h-3zM627.1 153.6h3v1h-3zM665.6 153.6h3v1h-3zM674.4 154.6h3v1h-3zM547.3 155.6h3v1h-3zM624.2 155.6h3v1h-3zM627.1 155.6h3v1h-3zM606.4 156.6h3v1h-3zM612.3 156.6h3v1h-3zM615.3 156.6h3v1h-3zM680.3 156.6h3v1h-3zM553.2 157.6h3v1h-3zM662.6 157.6h3v1h-3zM665.6 157.6h3v1h-3zM662.6 158.6h3v1h-3zM674.4 158.6h3v1h-3zM550.3 159.6h3v1h-3zM603.5 159.6h3v1h-3zM650.8 159.6h3v1h-3zM662.6 159.6h3v1h-3zM659.6 160.6h3v1h-3zM585.7 161.6h3v1h-3zM591.6 161.6h3v1h-3zM680.3 161.6h3v1h-3zM556.2 162.6h3v1h-3zM653.7 162.6h3v1h-3zM556.2 163.6h3v1h-3zM650.8 163.6h3v1h-3zM653.7 164.6h3v1h-3zM662.6 164.6h3v1h-3zM677.4 164.6h3v1h-3zM600.5 165.6h3v1h-3zM606.4 165.6h3v1h-3zM615.3 165.6h3v1h-3zM665.6 165.6h3v1h-3zM656.7 166.6h3v1h-3zM597.6 167.6h3v1h-3zM606.4 167.6h3v1h-3zM677.4 167.6h3v1h-3zM547.3 168.6h3v1h-3zM556.2 168.6h3v1h-3zM653.7 168.6h3v1h-3zM612.3 169.6h3v1h-3zM588.7 170.6h3v1h-3zM674.4 170.6h3v1h-3zM677.4 170.6h3v1h-3zM547.3 171.6h3v1h-3zM612.3 172.6h3v1h-3zM656.7 172.6h3v1h-3zM647.8 173.6h3v1h-3zM668.5 173.6h3v1h-3zM576.9 174.6h3v1h-3zM579.8 174.6h3v1h-3zM656.7 174.6h3v1h-3zM591.6 175.6h3v1h-3zM647.8 175.6h3v1h-3zM668.5 175.6h3v1h-3zM600.5 176.6h3v1h-3zM641.9 176.6h3v1h-3zM662.6 178.6h3v1h-3zM579.8 179.6h3v1h-3zM644.9 179.6h3v1h-3zM668.5 179.6h3v1h-3zM576.9 180.6h3v1h-3zM582.8 180.6h3v1h-3zM647.8 181.6h3v1h-3zM659.6 181.6h3v1h-3zM644.9 184.6h3v1h-3zM650.8 184.6h3v1h-3zM656.7 184.6h3v1h-3zM671.5 184.6h3v1h-3zM579.8 185.6h3v1h-3zM597.6 185.6h3v1h-3zM579.8 186.6h3v1h-3zM591.6 186.6h3v1h-3zM597.6 186.6h3v1h-3zM600.5 186.6h3v1h-3zM653.7 186.6h3v1h-3zM668.5 186.6h3v1h-3zM671.5 186.6h3v1h-3zM582.8 187.6h3v1h-3zM641.9 187.6h3v1h-3zM647.8 187.6h3v1h-3zM668.5 187.6h3v1h-3zM579.8 188.6h3v1h-3zM665.6 188.6h3v1h-3zM576.9 189.6h3v1h-3zM594.6 189.6h3v1h-3zM600.5 189.6h3v1h-3zM571.0 190.6h3v1h-3zM579.8 190.6h3v1h-3zM594.6 190.6h3v1h-3zM579.8 191.6h3v1h-3zM600.5 191.6h3v1h-3zM633.0 191.6h3v1h-3zM671.5 191.6h3v1h-3zM603.5 192.6h3v1h-3zM562.1 194.6h3v1h-3zM571.0 194.6h3v1h-3zM579.8 194.6h3v1h-3zM582.8 194.6h3v1h-3zM606.4 194.6h3v1h-3zM641.9 194.6h3v1h-3zM662.6 194.6h3v1h-3zM644.9 195.6h3v1h-3zM568.0 196.6h3v1h-3zM653.7 196.6h3v1h-3zM576.9 197.6h3v1h-3zM603.5 197.6h3v1h-3zM647.8 197.6h3v1h-3zM665.6 197.6h3v1h-3zM591.6 198.6h3v1h-3zM603.5 198.6h3v1h-3zM662.6 198.6h3v1h-3zM571.0 199.6h3v1h-3zM571.0 200.6h3v1h-3zM653.7 200.6h3v1h-3zM659.6 200.6h3v1h-3zM653.7 201.6h3v1h-3zM659.6 201.6h3v1h-3zM662.6 201.6h3v1h-3zM641.9 202.6h3v1h-3zM644.9 202.6h3v1h-3zM603.5 203.6h3v1h-3zM641.9 203.6h3v1h-3zM582.8 204.6h3v1h-3zM644.9 204.6h3v1h-3zM659.6 204.6h3v1h-3zM562.1 205.6h3v1h-3zM585.7 205.6h3v1h-3zM597.6 205.6h3v1h-3zM659.6 205.6h3v1h-3zM576.9 206.6h3v1h-3zM576.9 207.6h3v1h-3zM612.3 207.6h3v1h-3zM659.6 207.6h3v1h-3zM659.6 208.5h3v1h-3zM582.8 210.5h3v1h-3zM600.5 210.5h3v1h-3zM653.7 210.5h3v1h-3zM665.6 210.5h3v1h-3zM653.7 211.5h3v1h-3zM594.6 212.5h3v1h-3zM662.6 212.5h3v1h-3zM582.8 214.5h3v1h-3zM647.8 216.5h3v1h-3zM656.7 217.5h3v1h-3zM588.7 218.5h3v1h-3zM550.3 219.5h3v1h-3zM565.0 219.5h3v1h-3zM662.6 219.5h3v1h-3zM644.9 221.5h3v1h-3zM559.1 223.5h3v1h-3zM582.8 223.5h3v1h-3zM591.6 223.5h3v1h-3zM641.9 223.5h3v1h-3zM647.8 223.5h3v1h-3zM644.9 224.5h3v1h-3zM653.7 224.5h3v1h-3zM627.1 226.5h3v1h-3zM565.0 227.5h3v1h-3zM636.0 227.5h3v1h-3zM650.8 227.5h3v1h-3zM659.6 227.5h3v1h-3zM588.7 228.5h3v1h-3zM636.0 228.5h3v1h-3zM659.6 228.5h3v1h-3zM633.0 229.5h3v1h-3zM636.0 229.5h3v1h-3zM647.8 229.5h3v1h-3zM656.7 229.5h3v1h-3zM630.1 230.5h3v1h-3zM641.9 230.5h3v1h-3zM644.9 230.5h3v1h-3zM650.8 230.5h3v1h-3zM559.1 231.5h3v1h-3zM636.0 231.5h3v1h-3zM641.9 232.5h3v1h-3zM650.8 232.5h3v1h-3zM550.3 233.5h3v1h-3zM633.0 233.5h3v1h-3zM641.9 235.5h3v1h-3zM630.1 236.5h3v1h-3zM641.9 236.5h3v1h-3zM644.9 236.5h3v1h-3zM630.1 237.5h3v1h-3zM636.0 237.5h3v1h-3zM618.3 238.5h3v1h-3zM571.0 239.5h3v1h-3zM644.9 239.5h3v1h-3zM641.9 240.5h3v1h-3zM547.3 241.5h3v1h-3zM579.8 241.5h3v1h-3zM641.9 242.5h3v1h-3zM579.8 243.5h3v1h-3zM636.0 243.5h3v1h-3zM639.0 243.5h3v1h-3zM562.1 245.5h3v1h-3zM627.1 245.5h3v1h-3zM618.3 246.5h3v1h-3zM547.3 247.5h3v1h-3zM556.2 247.5h3v1h-3zM547.3 248.5h3v1h-3zM559.1 248.5h3v1h-3zM550.3 249.5h3v1h-3zM556.2 249.5h3v1h-3zM627.1 249.5h3v1h-3zM641.9 249.5h3v1h-3zM644.9 249.5h3v1h-3zM559.1 250.5h3v1h-3zM653.7 250.5h3v1h-3zM627.1 251.5h3v1h-3zM639.0 251.5h3v1h-3zM553.2 252.5h3v1h-3zM671.5 252.5h3v1h-3zM636.0 253.5h3v1h-3zM639.0 253.5h3v1h-3zM680.3 253.5h3v1h-3zM579.8 254.5h3v1h-3zM618.3 254.5h3v1h-3zM633.0 254.5h3v1h-3zM550.3 255.5h3v1h-3zM556.2 255.5h3v1h-3zM565.0 255.5h3v1h-3zM633.0 255.5h3v1h-3zM547.3 256.5h3v1h-3zM636.0 256.5h3v1h-3zM547.3 257.5h3v1h-3zM627.1 257.5h3v1h-3zM547.3 258.5h3v1h-3zM568.0 258.5h3v1h-3zM680.3 258.5h3v1h-3zM609.4 259.5h3v1h-3zM559.1 260.5h3v1h-3zM630.1 260.5h3v1h-3zM547.3 261.5h3v1h-3zM633.0 261.5h3v1h-3zM680.3 261.5h3v1h-3zM606.4 262.5h3v1h-3zM609.4 262.5h3v1h-3zM615.3 262.5h3v1h-3zM630.1 262.5h3v1h-3zM639.0 262.5h3v1h-3zM680.3 262.5h3v1h-3zM547.3 263.5h3v1h-3zM553.2 263.5h3v1h-3zM618.3 263.5h3v1h-3zM550.3 264.5h3v1h-3zM568.0 264.5h3v1h-3zM639.0 264.5h3v1h-3zM547.3 265.5h3v1h-3zM559.1 265.5h3v1h-3zM562.1 265.5h3v1h-3zM612.3 266.5h3v1h-3zM618.3 266.5h3v1h-3zM624.2 266.5h3v1h-3zM636.0 266.5h3v1h-3zM571.0 267.5h3v1h-3zM633.0 267.5h3v1h-3zM559.1 269.5h3v1h-3zM576.9 269.5h3v1h-3zM579.8 269.5h3v1h-3zM612.3 269.5h3v1h-3zM573.9 270.5h3v1h-3zM636.0 270.5h3v1h-3z"/>
<path fill="#ffdada" d="M547.3 144.6h3v1h-3zM603.5 145.6h3v1h-3zM606.4 145.6h3v1h-3zM609.4 145.6h3v1h-3zM671.5 145.6h3v1h-3zM627.1 146.6h3v1h-3zM603.5 147.6h3v1h-3zM547.3 148.6h3v1h-3zM550.3 148.6h3v1h-3zM553.2 148.6h3v1h-3zM618.3 148.6h3v1h-3zM621.2 148.6h3v1h-3zM665.6 148.6h3v1h-3zM630.1 149.6h3v1h-3zM603.5 150.6h3v1h-3zM627.1 151.6h3v1h-3zM665.6 151.6h3v1h-3zM553.2 152.6h3v1h-3zM609.4 152.6h3v1h-3zM627.1 152.6h3v1h-3zM668.5 152.6h3v1h-3zM609.4 153.6h3v1h-3zM671.5 153.6h3v1h-3zM680.3 154.6h3v1h-3zM553.2 155.6h3v1h-3zM650.8 155.6h3v1h-3zM671.5 155.6h3v1h-3zM674.4 155.6h3v1h-3zM547.3 157.6h3v1h-3zM612.3 157.6h3v1h-3zM615.3 157.6h3v1h-3zM671.5 157.6h3v1h-3zM585.7 159.6h3v1h-3zM594.6 159.6h3v1h-3zM609.4 159.6h3v1h-3zM615.3 159.6h3v1h-3zM677.4 159.6h3v1h-3zM591.6 160.6h3v1h-3zM609.4 160.6h3v1h-3zM668.5 160.6h3v1h-3zM674.4 160.6h3v1h-3zM680.3 160.6h3v1h-3zM662.6 161.6h3v1h-3zM665.6 161.6h3v1h-3zM677.4 161.6h3v1h-3zM665.6 162.6h3v1h-3zM594.6 163.6h3v1h-3zM653.7 163.6h3v1h-3zM659.6 163.6h3v1h-3zM680.3 163.6h3v1h-3zM603.5 164.6h3v1h-3zM594.6 165.6h3v1h-3zM671.5 165.6h3v1h-3zM609.4 166.6h3v1h-3zM600.5 167.6h3v1h-3zM659.6 167.6h3v1h-3zM671.5 167.6h3v1h-3zM615.3 168.6h3v1h-3zM656.7 168.6h3v1h-3zM650.8 170.6h3v1h-3zM588.7 171.6h3v1h-3zM591.6 171.6h3v1h-3zM594.6 171.6h3v1h-3zM609.4 171.6h3v1h-3zM662.6 171.6h3v1h-3zM668.5 174.6h3v1h-3zM662.6 176.6h3v1h-3zM600.5 178.6h3v1h-3zM573.9 179.6h3v1h-3zM641.9 179.6h3v1h-3zM650.8 179.6h3v1h-3zM662.6 179.6h3v1h-3zM594.6 180.6h3v1h-3zM641.9 180.6h3v1h-3zM647.8 180.6h3v1h-3zM571.0 181.6h3v1h-3zM573.9 181.6h3v1h-3zM576.9 181.6h3v1h-3zM597.6 181.6h3v1h-3zM600.5 181.6h3v1h-3zM650.8 181.6h3v1h-3zM665.6 181.6h3v1h-3zM653.7 182.6h3v1h-3zM571.0 183.6h3v1h-3zM579.8 183.6h3v1h-3zM653.7 183.6h3v1h-3zM665.6 183.6h3v1h-3zM600.5 184.6h3v1h-3zM573.9 185.6h3v1h-3zM582.8 185.6h3v1h-3zM671.5 185.6h3v1h-3zM576.9 186.6h3v1h-3zM662.6 186.6h3v1h-3zM662.6 187.6h3v1h-3zM641.9 188.6h3v1h-3zM650.8 188.6h3v1h-3zM597.6 189.6h3v1h-3zM653.7 189.6h3v1h-3zM644.9 190.6h3v1h-3zM659.6 190.6h3v1h-3zM571.0 191.6h3v1h-3zM597.6 191.6h3v1h-3zM650.8 191.6h3v1h-3zM647.8 192.6h3v1h-3zM668.5 192.6h3v1h-3zM650.8 193.6h3v1h-3zM579.8 195.6h3v1h-3zM603.5 195.6h3v1h-3zM576.9 196.6h3v1h-3zM597.6 196.6h3v1h-3zM650.8 196.6h3v1h-3zM571.0 198.6h3v1h-3zM579.8 198.6h3v1h-3zM644.9 199.6h3v1h-3zM650.8 199.6h3v1h-3zM576.9 200.6h3v1h-3zM641.9 200.6h3v1h-3zM600.5 201.6h3v1h-3zM653.7 202.6h3v1h-3zM588.7 205.6h3v1h-3zM653.7 205.6h3v1h-3zM579.8 206.6h3v1h-3zM588.7 206.6h3v1h-3zM659.6 206.6h3v1h-3zM653.7 207.6h3v1h-3zM585.7 210.5h3v1h-3zM644.9 210.5h3v1h-3zM582.8 211.5h3v1h-3zM641.9 211.5h3v1h-3zM644.9 211.5h3v1h-3zM659.6 211.5h3v1h-3zM591.6 213.5h3v1h-3zM644.9 213.5h3v1h-3zM650.8 213.5h3v1h-3zM653.7 213.5h3v1h-3zM662.6 215.5h3v1h-3zM656.7 216.5h3v1h-3zM582.8 217.5h3v1h-3zM585.7 219.5h3v1h-3zM656.7 219.5h3v1h-3zM644.9 220.5h3v1h-3zM579.8 221.5h3v1h-3zM585.7 221.5h3v1h-3zM547.3 222.5h3v1h-3zM585.7 222.5h3v1h-3zM591.6 222.5h3v1h-3zM630.1 222.5h3v1h-3zM639.0 222.5h3v1h-3zM650.8 223.5h3v1h-3zM639.0 224.5h3v1h-3zM576.9 225.5h3v1h-3zM656.7 225.5h3v1h-3zM576.9 227.5h3v1h-3zM565.0 228.5h3v1h-3zM633.0 228.5h3v1h-3zM662.6 228.5h3v1h-3zM568.0 230.5h3v1h-3zM647.8 231.5h3v1h-3zM656.7 231.5h3v1h-3zM559.1 232.5h3v1h-3zM568.0 232.5h3v1h-3zM639.0 232.5h3v1h-3zM559.1 233.5h3v1h-3zM565.0 233.5h3v1h-3zM630.1 233.5h3v1h-3zM656.7 234.5h3v1h-3zM550.3 236.5h3v1h-3zM571.0 236.5h3v1h-3zM639.0 237.5h3v1h-3zM568.0 238.5h3v1h-3zM585.7 238.5h3v1h-3zM647.8 238.5h3v1h-3zM659.6 238.5h3v1h-3zM639.0 239.5h3v1h-3zM630.1 240.5h3v1h-3zM568.0 241.5h3v1h-3zM644.9 241.5h3v1h-3zM579.8 242.5h3v1h-3zM644.9 242.5h3v1h-3zM556.2 244.5h3v1h-3zM576.9 244.5h3v1h-3zM630.1 244.5h3v1h-3zM547.3 245.5h3v1h-3zM621.2 245.5h3v1h-3zM641.9 245.5h3v1h-3zM568.0 246.5h3v1h-3zM609.4 246.5h3v1h-3zM621.2 246.5h3v1h-3zM641.9 246.5h3v1h-3zM559.1 247.5h3v1h-3zM576.9 247.5h3v1h-3zM624.2 247.5h3v1h-3zM641.9 247.5h3v1h-3zM579.8 248.5h3v1h-3zM630.1 248.5h3v1h-3zM641.9 248.5h3v1h-3zM647.8 248.5h3v1h-3zM573.9 249.5h3v1h-3zM633.0 249.5h3v1h-3zM639.0 249.5h3v1h-3zM647.8 249.5h3v1h-3zM550.3 250.5h3v1h-3zM550.3 251.5h3v1h-3zM633.0 251.5h3v1h-3zM576.9 253.5h3v1h-3zM644.9 253.5h3v1h-3zM606.4 254.5h3v1h-3zM621.2 254.5h3v1h-3zM573.9 255.5h3v1h-3zM579.8 255.5h3v1h-3zM609.4 255.5h3v1h-3zM624.2 255.5h3v1h-3zM627.1 255.5h3v1h-3zM550.3 256.5h3v1h-3zM553.2 256.5h3v1h-3zM568.0 256.5h3v1h-3zM621.2 256.5h3v1h-3zM641.9 257.5h3v1h-3zM571.0 258.5h3v1h-3zM677.4 258.5h3v1h-3zM550.3 259.5h3v1h-3zM621.2 259.5h3v1h-3zM633.0 259.5h3v1h-3zM636.0 259.5h3v1h-3zM639.0 259.5h3v1h-3zM680.3 259.5h3v1h-3zM553.2 260.5h3v1h-3zM568.0 260.5h3v1h-3zM553.2 261.5h3v1h-3zM568.0 261.5h3v1h-3zM547.3 262.5h3v1h-3zM559.1 262.5h3v1h-3zM612.3 262.5h3v1h-3zM621.2 263.5h3v1h-3zM639.0 263.5h3v1h-3zM579.8 264.5h3v1h-3zM603.5 264.5h3v1h-3zM609.4 264.5h3v1h-3zM627.1 265.5h3v1h-3zM565.0 266.5h3v1h-3zM609.4 267.5h3v1h-3zM630.1 267.5h3v1h-3zM644.9 267.5h3v1h-3zM674.4 267.5h3v1h-3zM547.3 268.5h3v1h-3zM624.2 268.5h3v1h-3zM627.1 268.5h3v1h-3zM677.4 268.5h3v1h-3zM547.3 269.5h3v1h-3zM597.6 269.5h3v1h-3zM562.1 270.5h3v1h-3zM612.3 270.5h3v1h-3zM615.3 270.5h3v1h-3z"/>
<path fill="#ffd3d3" d="M665.6 144.6h3v1h-3zM615.3 145.6h3v1h-3zM677.4 145.6h3v1h-3zM553.2 146.6h3v1h-3zM603.5 146.6h3v1h-3zM680.3 146.6h3v1h-3zM662.6 147.6h3v1h-3zM680.3 147.6h3v1h-3zM556.2 148.6h3v1h-3zM594.6 148.6h3v1h-3zM547.3 149.6h3v1h-3zM597.6 149.6h3v1h-3zM606.4 149.6h3v1h-3zM612.3 149.6h3v1h-3zM621.2 149.6h3v1h-3zM609.4 150.6h3v1h-3zM627.1 150.6h3v1h-3zM556.2 151.6h3v1h-3zM594.6 151.6h3v1h-3zM597.6 151.6h3v1h-3zM624.2 151.6h3v1h-3zM662.6 152.6h3v1h-3zM556.2 153.6h3v1h-3zM594.6 153.6h3v1h-3zM597.6 153.6h3v1h-3zM612.3 153.6h3v1h-3zM600.5 154.6h3v1h-3zM612.3 154.6h3v1h-3zM627.1 154.6h3v1h-3zM550.3 156.6h3v1h-3zM600.5 156.6h3v1h-3zM627.1 156.6h3v1h-3zM662.6 156.6h3v1h-3zM585.7 157.6h3v1h-3zM674.4 157.6h3v1h-3zM600.5 158.6h3v1h-3zM556.2 160.6h3v1h-3zM585.7 160.6h3v1h-3zM606.4 160.6h3v1h-3zM653.7 160.6h3v1h-3zM594.6 162.6h3v1h-3zM600.5 162.6h3v1h-3zM650.8 162.6h3v1h-3zM668.5 163.6h3v1h-3zM585.7 164.6h3v1h-3zM591.6 164.6h3v1h-3zM609.4 164.6h3v1h-3zM656.7 164.6h3v1h-3zM588.7 165.6h3v1h-3zM591.6 165.6h3v1h-3zM668.5 165.6h3v1h-3zM585.7 166.6h3v1h-3zM591.6 166.6h3v1h-3zM647.8 166.6h3v1h-3zM650.8 166.6h3v1h-3zM591.6 167.6h3v1h-3zM653.7 167.6h3v1h-3zM656.7 167.6h3v1h-3zM668.5 167.6h3v1h-3zM585.7 168.6h3v1h-3zM594.6 168.6h3v1h-3zM600.5 168.6h3v1h-3zM606.4 168.6h3v1h-3zM612.3 168.6h3v1h-3zM650.8 168.6h3v1h-3zM603.5 169.6h3v1h-3zM656.7 169.6h3v1h-3zM674.4 169.6h3v1h-3zM591.6 170.6h3v1h-3zM668.5 171.6h3v1h-3zM582.8 172.6h3v1h-3zM588.7 172.6h3v1h-3zM591.6 172.6h3v1h-3zM597.6 172.6h3v1h-3zM650.8 172.6h3v1h-3zM582.8 173.6h3v1h-3zM591.6 173.6h3v1h-3zM656.7 173.6h3v1h-3zM600.5 174.6h3v1h-3zM644.9 174.6h3v1h-3zM653.7 174.6h3v1h-3zM671.5 174.6h3v1h-3zM594.6 175.6h3v1h-3zM653.7 176.6h3v1h-3zM597.6 177.6h3v1h-3zM650.8 177.6h3v1h-3zM659.6 177.6h3v1h-3zM671.5 177.6h3v1h-3zM597.6 178.6h3v1h-3zM603.5 178.6h3v1h-3zM647.8 179.6h3v1h-3zM603.5 181.6h3v1h-3zM650.8 182.6h3v1h-3zM659.6 182.6h3v1h-3zM662.6 183.6h3v1h-3zM671.5 183.6h3v1h-3zM662.6 185.6h3v1h-3zM573.9 187.6h3v1h-3zM597.6 188.6h3v1h-3zM600.5 188.6h3v1h-3zM647.8 188.6h3v1h-3zM582.8 190.6h3v1h-3zM585.7 190.6h3v1h-3zM603.5 190.6h3v1h-3zM650.8 190.6h3v1h-3zM582.8 191.6h3v1h-3zM573.9 192.6h3v1h-3zM597.6 192.6h3v1h-3zM641.9 192.6h3v1h-3zM576.9 194.6h3v1h-3zM588.7 196.6h3v1h-3zM600.5 196.6h3v1h-3zM603.5 196.6h3v1h-3zM641.9 196.6h3v1h-3zM656.7 197.6h3v1h-3zM659.6 197.6h3v1h-3zM659.6 198.6h3v1h-3zM582.8 199.6h3v1h-3zM659.6 199.6h3v1h-3zM579.8 200.6h3v1h-3zM588.7 200.6h3v1h-3zM576.9 202.6h3v1h-3zM653.7 203.6h3v1h-3zM656.7 203.6h3v1h-3zM668.5 203.6h3v1h-3zM644.9 207.6h3v1h-3zM571.0 208.5h3v1h-3zM644.9 208.5h3v1h-3zM559.1 209.5h3v1h-3zM568.0 209.5h3v1h-3zM591.6 209.5h3v1h-3zM653.7 209.5h3v1h-3zM650.8 210.5h3v1h-3zM591.6 211.5h3v1h-3zM576.9 212.5h3v1h-3zM582.8 212.5h3v1h-3zM588.7 212.5h3v1h-3zM576.9 213.5h3v1h-3zM585.7 213.5h3v1h-3zM576.9 215.5h3v1h-3zM579.8 215.5h3v1h-3zM641.9 215.5h3v1h-3zM588.7 216.5h3v1h-3zM573.9 217.5h3v1h-3zM571.0 218.5h3v1h-3zM585.7 218.5h3v1h-3zM576.9 219.5h3v1h-3zM579.8 219.5h3v1h-3zM591.6 219.5h3v1h-3zM659.6 220.5h3v1h-3zM644.9 223.5h3v1h-3zM562.1 226.5h3v1h-3zM636.0 226.5h3v1h-3zM644.9 227.5h3v1h-3zM565.0 229.5h3v1h-3zM591.6 229.5h3v1h-3zM573.9 230.5h3v1h-3zM636.0 230.5h3v1h-3zM585.7 232.5h3v1h-3zM588.7 232.5h3v1h-3zM633.0 232.5h3v1h-3zM644.9 232.5h3v1h-3zM562.1 233.5h3v1h-3zM636.0 233.5h3v1h-3zM647.8 233.5h3v1h-3zM636.0 234.5h3v1h-3zM641.9 234.5h3v1h-3zM559.1 235.5h3v1h-3zM573.9 236.5h3v1h-3zM579.8 236.5h3v1h-3zM633.0 236.5h3v1h-3zM647.8 236.5h3v1h-3zM559.1 237.5h3v1h-3zM559.1 238.5h3v1h-3zM571.0 238.5h3v1h-3zM636.0 238.5h3v1h-3zM573.9 239.5h3v1h-3zM630.1 239.5h3v1h-3zM636.0 239.5h3v1h-3zM573.9 240.5h3v1h-3zM639.0 240.5h3v1h-3zM565.0 241.5h3v1h-3zM573.9 241.5h3v1h-3zM630.1 241.5h3v1h-3zM633.0 243.5h3v1h-3zM647.8 244.5h3v1h-3zM633.0 245.5h3v1h-3zM627.1 247.5h3v1h-3zM556.2 248.5h3v1h-3zM562.1 248.5h3v1h-3zM547.3 249.5h3v1h-3zM636.0 249.5h3v1h-3zM568.0 250.5h3v1h-3zM579.8 250.5h3v1h-3zM547.3 252.5h3v1h-3zM565.0 252.5h3v1h-3zM621.2 252.5h3v1h-3zM562.1 254.5h3v1h-3zM627.1 254.5h3v1h-3zM553.2 255.5h3v1h-3zM627.1 256.5h3v1h-3zM562.1 257.5h3v1h-3zM568.0 257.5h3v1h-3zM571.0 257.5h3v1h-3zM624.2 257.5h3v1h-3zM630.1 257.5h3v1h-3zM636.0 257.5h3v1h-3zM639.0 257.5h3v1h-3zM621.2 258.5h3v1h-3zM573.9 260.5h3v1h-3zM618.3 260.5h3v1h-3zM621.2 260.5h3v1h-3zM565.0 261.5h3v1h-3zM621.2 261.5h3v1h-3zM571.0 262.5h3v1h-3zM621.2 262.5h3v1h-3zM624.2 262.5h3v1h-3zM633.0 262.5h3v1h-3zM556.2 263.5h3v1h-3zM677.4 263.5h3v1h-3zM680.3 263.5h3v1h-3zM556.2 264.5h3v1h-3zM576.9 264.5h3v1h-3zM621.2 264.5h3v1h-3zM680.3 264.5h3v1h-3zM565.0 265.5h3v1h-3zM568.0 265.5h3v1h-3zM639.0 265.5h3v1h-3zM677.4 265.5h3v1h-3zM568.0 266.5h3v1h-3zM630.1 266.5h3v1h-3zM547.3 267.5h3v1h-3zM606.4 267.5h3v1h-3zM559.1 268.5h3v1h-3zM612.3 268.5h3v1h-3zM639.0 268.5h3v1h-3zM633.0 269.5h3v1h-3zM553.2 270.5h3v1h-3zM568.0 270.5h3v1h-3zM627.1 270.5h3v1h-3zM639.0 270.5h3v1h-3z"/>
<path fill="#ffcccc" d="M594.6 144.6h3v1h-3zM603.5 144.6h3v1h-3zM553.2 145.6h3v1h-3zM680.3 145.6h3v1h-3zM600.5 146.6h3v1h-3zM609.4 146.6h3v1h-3zM674.4 146.6h3v1h-3zM553.2 147.6h3v1h-3zM600.5 147.6h3v1h-3zM624.2 147.6h3v1h-3zM674.4 147.6h3v1h-3zM662.6 148.6h3v1h-3zM618.3 149.6h3v1h-3zM547.3 151.6h3v1h-3zM612.3 151.6h3v1h-3zM547.3 152.6h3v1h-3zM600.5 153.6h3v1h-3zM597.6 154.6h3v1h-3zM677.4 154.6h3v1h-3zM585.7 155.6h3v1h-3zM594.6 155.6h3v1h-3zM606.4 155.6h3v1h-3zM668.5 155.6h3v1h-3zM677.4 155.6h3v1h-3zM603.5 156.6h3v1h-3zM553.2 158.6h3v1h-3zM594.6 158.6h3v1h-3zM609.4 158.6h3v1h-3zM671.5 158.6h3v1h-3zM680.3 158.6h3v1h-3zM600.5 159.6h3v1h-3zM665.6 159.6h3v1h-3zM680.3 159.6h3v1h-3zM597.6 160.6h3v1h-3zM665.6 160.6h3v1h-3zM612.3 161.6h3v1h-3zM547.3 162.6h3v1h-3zM680.3 162.6h3v1h-3zM603.5 163.6h3v1h-3zM671.5 163.6h3v1h-3zM556.2 164.6h3v1h-3zM600.5 164.6h3v1h-3zM600.5 166.6h3v1h-3zM582.8 167.6h3v1h-3zM609.4 167.6h3v1h-3zM591.6 169.6h3v1h-3zM600.5 170.6h3v1h-3zM665.6 170.6h3v1h-3zM650.8 171.6h3v1h-3zM571.0 172.6h3v1h-3zM671.5 172.6h3v1h-3zM597.6 173.6h3v1h-3zM659.6 173.6h3v1h-3zM665.6 173.6h3v1h-3zM594.6 174.6h3v1h-3zM571.0 175.6h3v1h-3zM603.5 175.6h3v1h-3zM571.0 177.6h3v1h-3zM653.7 177.6h3v1h-3zM656.7 177.6h3v1h-3zM585.7 178.6h3v1h-3zM582.8 179.6h3v1h-3zM606.4 179.6h3v1h-3zM671.5 179.6h3v1h-3zM603.5 180.6h3v1h-3zM582.8 181.6h3v1h-3zM641.9 181.6h3v1h-3zM644.9 181.6h3v1h-3zM662.6 181.6h3v1h-3zM571.0 182.6h3v1h-3zM573.9 182.6h3v1h-3zM594.6 182.6h3v1h-3zM585.7 183.6h3v1h-3zM659.6 183.6h3v1h-3zM641.9 184.6h3v1h-3zM662.6 184.6h3v1h-3zM576.9 185.6h3v1h-3zM650.8 185.6h3v1h-3zM571.0 186.6h3v1h-3zM585.7 186.6h3v1h-3zM656.7 186.6h3v1h-3zM659.6 186.6h3v1h-3zM644.9 187.6h3v1h-3zM571.0 188.6h3v1h-3zM603.5 188.6h3v1h-3zM573.9 190.6h3v1h-3zM597.6 190.6h3v1h-3zM571.0 192.6h3v1h-3zM600.5 192.6h3v1h-3zM665.6 192.6h3v1h-3zM571.0 193.6h3v1h-3zM573.9 194.6h3v1h-3zM573.9 195.6h3v1h-3zM668.5 195.6h3v1h-3zM573.9 196.6h3v1h-3zM579.8 196.6h3v1h-3zM647.8 196.6h3v1h-3zM656.7 196.6h3v1h-3zM653.7 198.6h3v1h-3zM647.8 199.6h3v1h-3zM568.0 201.6h3v1h-3zM633.0 201.6h3v1h-3zM568.0 202.6h3v1h-3zM588.7 202.6h3v1h-3zM647.8 202.6h3v1h-3zM647.8 203.6h3v1h-3zM641.9 204.6h3v1h-3zM650.8 204.6h3v1h-3zM653.7 204.6h3v1h-3zM641.9 205.6h3v1h-3zM650.8 205.6h3v1h-3zM653.7 206.6h3v1h-3zM591.6 207.6h3v1h-3zM579.8 208.5h3v1h-3zM650.8 208.5h3v1h-3zM656.7 208.5h3v1h-3zM571.0 209.5h3v1h-3zM576.9 209.5h3v1h-3zM585.7 209.5h3v1h-3zM588.7 209.5h3v1h-3zM650.8 209.5h3v1h-3zM659.6 209.5h3v1h-3zM591.6 210.5h3v1h-3zM576.9 211.5h3v1h-3zM647.8 212.5h3v1h-3zM650.8 212.5h3v1h-3zM644.9 215.5h3v1h-3zM650.8 215.5h3v1h-3zM644.9 216.5h3v1h-3zM650.8 217.5h3v1h-3zM659.6 218.5h3v1h-3zM559.1 219.5h3v1h-3zM641.9 219.5h3v1h-3zM659.6 219.5h3v1h-3zM582.8 220.5h3v1h-3zM650.8 220.5h3v1h-3zM641.9 221.5h3v1h-3zM576.9 223.5h3v1h-3zM585.7 224.5h3v1h-3zM591.6 224.5h3v1h-3zM644.9 225.5h3v1h-3zM639.0 226.5h3v1h-3zM559.1 229.5h3v1h-3zM576.9 229.5h3v1h-3zM641.9 229.5h3v1h-3zM565.0 230.5h3v1h-3zM571.0 230.5h3v1h-3zM576.9 230.5h3v1h-3zM562.1 232.5h3v1h-3zM639.0 233.5h3v1h-3zM641.9 233.5h3v1h-3zM576.9 235.5h3v1h-3zM647.8 235.5h3v1h-3zM565.0 236.5h3v1h-3zM568.0 236.5h3v1h-3zM639.0 236.5h3v1h-3zM568.0 237.5h3v1h-3zM573.9 237.5h3v1h-3zM573.9 238.5h3v1h-3zM627.1 238.5h3v1h-3zM639.0 238.5h3v1h-3zM562.1 239.5h3v1h-3zM568.0 239.5h3v1h-3zM576.9 239.5h3v1h-3zM641.9 239.5h3v1h-3zM647.8 239.5h3v1h-3zM559.1 240.5h3v1h-3zM550.3 242.5h3v1h-3zM571.0 242.5h3v1h-3zM647.8 242.5h3v1h-3zM565.0 243.5h3v1h-3zM627.1 243.5h3v1h-3zM644.9 243.5h3v1h-3zM579.8 244.5h3v1h-3zM636.0 245.5h3v1h-3zM636.0 246.5h3v1h-3zM565.0 248.5h3v1h-3zM568.0 248.5h3v1h-3zM562.1 249.5h3v1h-3zM630.1 249.5h3v1h-3zM641.9 250.5h3v1h-3zM647.8 250.5h3v1h-3zM571.0 251.5h3v1h-3zM576.9 251.5h3v1h-3zM621.2 251.5h3v1h-3zM630.1 251.5h3v1h-3zM562.1 252.5h3v1h-3zM633.0 252.5h3v1h-3zM644.9 252.5h3v1h-3zM556.2 254.5h3v1h-3zM559.1 255.5h3v1h-3zM609.4 256.5h3v1h-3zM615.3 257.5h3v1h-3zM562.1 258.5h3v1h-3zM606.4 258.5h3v1h-3zM556.2 259.5h3v1h-3zM562.1 259.5h3v1h-3zM565.0 259.5h3v1h-3zM606.4 259.5h3v1h-3zM550.3 260.5h3v1h-3zM627.1 260.5h3v1h-3zM680.3 260.5h3v1h-3zM568.0 262.5h3v1h-3zM615.3 263.5h3v1h-3zM627.1 263.5h3v1h-3zM630.1 263.5h3v1h-3zM547.3 264.5h3v1h-3zM677.4 264.5h3v1h-3zM556.2 265.5h3v1h-3zM606.4 265.5h3v1h-3zM609.4 265.5h3v1h-3zM612.3 265.5h3v1h-3zM630.1 265.5h3v1h-3zM680.3 265.5h3v1h-3zM621.2 266.5h3v1h-3zM677.4 266.5h3v1h-3zM680.3 266.5h3v1h-3zM550.3 267.5h3v1h-3zM556.2 267.5h3v1h-3zM562.1 267.5h3v1h-3zM636.0 267.5h3v1h-3zM556.2 269.5h3v1h-3zM562.1 269.5h3v1h-3zM565.0 269.5h3v1h-3zM559.1 270.5h3v1h-3zM621.2 270.5h3v1h-3z"/>
<path fill="#ffc4c4" d="M621.2 144.6h3v1h-3zM597.6 145.6h3v1h-3zM627.1 145.6h3v1h-3zM597.6 146.6h3v1h-3zM677.4 146.6h3v1h-3zM615.3 147.6h3v1h-3zM627.1 147.6h3v1h-3zM677.4 148.6h3v1h-3zM556.2 149.6h3v1h-3zM600.5 149.6h3v1h-3zM547.3 150.6h3v1h-3zM600.5 150.6h3v1h-3zM600.5 151.6h3v1h-3zM674.4 151.6h3v1h-3zM677.4 152.6h3v1h-3zM677.4 153.6h3v1h-3zM550.3 154.6h3v1h-3zM612.3 155.6h3v1h-3zM597.6 156.6h3v1h-3zM609.4 156.6h3v1h-3zM665.6 156.6h3v1h-3zM677.4 156.6h3v1h-3zM603.5 158.6h3v1h-3zM588.7 159.6h3v1h-3zM668.5 159.6h3v1h-3zM582.8 160.6h3v1h-3zM615.3 160.6h3v1h-3zM671.5 160.6h3v1h-3zM597.6 161.6h3v1h-3zM668.5 161.6h3v1h-3zM582.8 164.6h3v1h-3zM650.8 164.6h3v1h-3zM585.7 165.6h3v1h-3zM594.6 166.6h3v1h-3zM603.5 166.6h3v1h-3zM653.7 166.6h3v1h-3zM665.6 166.6h3v1h-3zM594.6 167.6h3v1h-3zM662.6 167.6h3v1h-3zM597.6 168.6h3v1h-3zM665.6 168.6h3v1h-3zM662.6 169.6h3v1h-3zM671.5 169.6h3v1h-3zM597.6 170.6h3v1h-3zM585.7 173.6h3v1h-3zM600.5 173.6h3v1h-3zM603.5 173.6h3v1h-3zM653.7 173.6h3v1h-3zM656.7 175.6h3v1h-3zM588.7 176.6h3v1h-3zM597.6 176.6h3v1h-3zM680.3 176.6h3v1h-3zM582.8 177.6h3v1h-3zM662.6 177.6h3v1h-3zM582.8 178.6h3v1h-3zM594.6 178.6h3v1h-3zM650.8 178.6h3v1h-3zM594.6 179.6h3v1h-3zM665.6 180.6h3v1h-3zM671.5 180.6h3v1h-3zM600.5 182.6h3v1h-3zM662.6 182.6h3v1h-3zM671.5 182.6h3v1h-3zM576.9 183.6h3v1h-3zM588.7 183.6h3v1h-3zM594.6 183.6h3v1h-3zM597.6 184.6h3v1h-3zM603.5 184.6h3v1h-3zM603.5 185.6h3v1h-3zM603.5 187.6h3v1h-3zM576.9 188.6h3v1h-3zM594.6 188.6h3v1h-3zM571.0 189.6h3v1h-3zM659.6 189.6h3v1h-3zM671.5 189.6h3v1h-3zM653.7 190.6h3v1h-3zM603.5 191.6h3v1h-3zM576.9 192.6h3v1h-3zM582.8 192.6h3v1h-3zM644.9 192.6h3v1h-3zM650.8 192.6h3v1h-3zM662.6 192.6h3v1h-3zM656.7 193.6h3v1h-3zM585.7 194.6h3v1h-3zM644.9 194.6h3v1h-3zM647.8 194.6h3v1h-3zM576.9 195.6h3v1h-3zM600.5 195.6h3v1h-3zM573.9 197.6h3v1h-3zM579.8 197.6h3v1h-3zM585.7 197.6h3v1h-3zM588.7 197.6h3v1h-3zM591.6 197.6h3v1h-3zM641.9 197.6h3v1h-3zM565.0 198.6h3v1h-3zM573.9 198.6h3v1h-3zM656.7 198.6h3v1h-3zM573.9 199.6h3v1h-3zM653.7 199.6h3v1h-3zM656.7 200.6h3v1h-3zM579.8 201.6h3v1h-3zM641.9 201.6h3v1h-3zM573.9 203.6h3v1h-3zM576.9 203.6h3v1h-3zM582.8 203.6h3v1h-3zM650.8 203.6h3v1h-3zM576.9 204.6h3v1h-3zM591.6 204.6h3v1h-3zM647.8 204.6h3v1h-3zM571.0 205.6h3v1h-3zM582.8 205.6h3v1h-3zM591.6 205.6h3v1h-3zM585.7 207.6h3v1h-3zM641.9 207.6h3v1h-3zM573.9 210.5h3v1h-3zM579.8 210.5h3v1h-3zM588.7 210.5h3v1h-3zM579.8 212.5h3v1h-3zM585.7 212.5h3v1h-3zM571.0 213.5h3v1h-3zM647.8 213.5h3v1h-3zM568.0 214.5h3v1h-3zM585.7 214.5h3v1h-3zM588.7 215.5h3v1h-3zM653.7 215.5h3v1h-3zM585.7 216.5h3v1h-3zM591.6 216.5h3v1h-3zM585.7 217.5h3v1h-3zM579.8 218.5h3v1h-3zM562.1 220.5h3v1h-3zM571.0 220.5h3v1h-3zM591.6 220.5h3v1h-3zM647.8 220.5h3v1h-3zM653.7 220.5h3v1h-3zM576.9 222.5h3v1h-3zM573.9 223.5h3v1h-3zM644.9 226.5h3v1h-3zM659.6 226.5h3v1h-3zM647.8 227.5h3v1h-3zM641.9 228.5h3v1h-3zM573.9 232.5h3v1h-3zM647.8 232.5h3v1h-3zM579.8 233.5h3v1h-3zM559.1 234.5h3v1h-3zM565.0 234.5h3v1h-3zM571.0 234.5h3v1h-3zM573.9 234.5h3v1h-3zM630.1 234.5h3v1h-3zM633.0 234.5h3v1h-3zM562.1 235.5h3v1h-3zM565.0 235.5h3v1h-3zM562.1 236.5h3v1h-3zM565.0 238.5h3v1h-3zM565.0 239.5h3v1h-3zM579.8 239.5h3v1h-3zM562.1 240.5h3v1h-3zM571.0 241.5h3v1h-3zM650.8 242.5h3v1h-3zM559.1 243.5h3v1h-3zM571.0 245.5h3v1h-3zM647.8 245.5h3v1h-3zM576.9 246.5h3v1h-3zM630.1 246.5h3v1h-3zM639.0 246.5h3v1h-3zM633.0 248.5h3v1h-3zM639.0 248.5h3v1h-3zM568.0 251.5h3v1h-3zM571.0 252.5h3v1h-3zM630.1 252.5h3v1h-3zM559.1 253.5h3v1h-3zM547.3 254.5h3v1h-3zM630.1 254.5h3v1h-3zM636.0 254.5h3v1h-3zM568.0 255.5h3v1h-3zM621.2 255.5h3v1h-3zM559.1 257.5h3v1h-3zM565.0 257.5h3v1h-3zM550.3 258.5h3v1h-3zM630.1 259.5h3v1h-3zM624.2 260.5h3v1h-3zM627.1 261.5h3v1h-3zM550.3 262.5h3v1h-3zM556.2 262.5h3v1h-3zM618.3 262.5h3v1h-3zM636.0 262.5h3v1h-3zM550.3 263.5h3v1h-3zM633.0 264.5h3v1h-3zM550.3 265.5h3v1h-3zM618.3 265.5h3v1h-3zM633.0 265.5h3v1h-3zM633.0 266.5h3v1h-3zM553.2 267.5h3v1h-3zM677.4 267.5h3v1h-3zM550.3 268.5h3v1h-3zM553.2 268.5h3v1h-3zM568.0 269.5h3v1h-3zM550.3 270.5h3v1h-3zM618.3 270.5h3v1h-3z"/>
<path fill="#ffbdbd" d="M609.4 144.6h3v1h-3zM677.4 144.6h3v1h-3zM550.3 145.6h3v1h-3zM618.3 145.6h3v1h-3zM612.3 146.6h3v1h-3zM621.2 146.6h3v1h-3zM550.3 147.6h3v1h-3zM677.4 147.6h3v1h-3zM627.1 148.6h3v1h-3zM674.4 148.6h3v1h-3zM615.3 149.6h3v1h-3zM597.6 150.6h3v1h-3zM677.4 150.6h3v1h-3zM680.3 150.6h3v1h-3zM606.4 151.6h3v1h-3zM662.6 153.6h3v1h-3zM680.3 153.6h3v1h-3zM609.4 155.6h3v1h-3zM594.6 156.6h3v1h-3zM597.6 157.6h3v1h-3zM671.5 159.6h3v1h-3zM600.5 160.6h3v1h-3zM594.6 161.6h3v1h-3zM612.3 162.6h3v1h-3zM668.5 162.6h3v1h-3zM671.5 162.6h3v1h-3zM582.8 163.6h3v1h-3zM585.7 163.6h3v1h-3zM588.7 163.6h3v1h-3zM582.8 166.6h3v1h-3zM603.5 167.6h3v1h-3zM582.8 168.6h3v1h-3zM591.6 168.6h3v1h-3zM668.5 168.6h3v1h-3zM668.5 169.6h3v1h-3zM594.6 170.6h3v1h-3zM603.5 170.6h3v1h-3zM600.5 171.6h3v1h-3zM585.7 172.6h3v1h-3zM653.7 172.6h3v1h-3zM588.7 173.6h3v1h-3zM594.6 173.6h3v1h-3zM650.8 173.6h3v1h-3zM671.5 173.6h3v1h-3zM597.6 174.6h3v1h-3zM650.8 174.6h3v1h-3zM662.6 174.6h3v1h-3zM659.6 175.6h3v1h-3zM671.5 175.6h3v1h-3zM656.7 176.6h3v1h-3zM659.6 176.6h3v1h-3zM591.6 178.6h3v1h-3zM653.7 179.6h3v1h-3zM659.6 179.6h3v1h-3zM656.7 180.6h3v1h-3zM585.7 181.6h3v1h-3zM585.7 182.6h3v1h-3zM591.6 183.6h3v1h-3zM603.5 183.6h3v1h-3zM659.6 184.6h3v1h-3zM591.6 185.6h3v1h-3zM647.8 185.6h3v1h-3zM656.7 185.6h3v1h-3zM588.7 186.6h3v1h-3zM582.8 188.6h3v1h-3zM585.7 188.6h3v1h-3zM588.7 188.6h3v1h-3zM656.7 188.6h3v1h-3zM573.9 189.6h3v1h-3zM579.8 189.6h3v1h-3zM603.5 189.6h3v1h-3zM650.8 189.6h3v1h-3zM656.7 190.6h3v1h-3zM573.9 191.6h3v1h-3zM653.7 191.6h3v1h-3zM585.7 193.6h3v1h-3zM650.8 194.6h3v1h-3zM641.9 195.6h3v1h-3zM659.6 195.6h3v1h-3zM662.6 195.6h3v1h-3zM591.6 196.6h3v1h-3zM576.9 198.6h3v1h-3zM582.8 198.6h3v1h-3zM588.7 198.6h3v1h-3zM576.9 199.6h3v1h-3zM585.7 199.6h3v1h-3zM573.9 200.6h3v1h-3zM585.7 200.6h3v1h-3zM591.6 200.6h3v1h-3zM647.8 200.6h3v1h-3zM571.0 201.6h3v1h-3zM591.6 201.6h3v1h-3zM647.8 201.6h3v1h-3zM573.9 202.6h3v1h-3zM591.6 202.6h3v1h-3zM656.7 204.6h3v1h-3zM571.0 206.6h3v1h-3zM582.8 206.6h3v1h-3zM647.8 206.6h3v1h-3zM582.8 207.6h3v1h-3zM585.7 208.5h3v1h-3zM579.8 209.5h3v1h-3zM582.8 209.5h3v1h-3zM656.7 209.5h3v1h-3zM656.7 210.5h3v1h-3zM571.0 211.5h3v1h-3zM641.9 212.5h3v1h-3zM656.7 212.5h3v1h-3zM579.8 213.5h3v1h-3zM568.0 215.5h3v1h-3zM585.7 215.5h3v1h-3zM644.9 217.5h3v1h-3zM571.0 221.5h3v1h-3zM573.9 221.5h3v1h-3zM588.7 222.5h3v1h-3zM579.8 223.5h3v1h-3zM576.9 224.5h3v1h-3zM641.9 225.5h3v1h-3zM630.1 226.5h3v1h-3zM630.1 227.5h3v1h-3zM571.0 228.5h3v1h-3zM579.8 228.5h3v1h-3zM644.9 228.5h3v1h-3zM644.9 229.5h3v1h-3zM573.9 231.5h3v1h-3zM573.9 233.5h3v1h-3zM576.9 233.5h3v1h-3zM630.1 235.5h3v1h-3zM636.0 235.5h3v1h-3zM639.0 235.5h3v1h-3zM644.9 235.5h3v1h-3zM565.0 237.5h3v1h-3zM571.0 237.5h3v1h-3zM576.9 237.5h3v1h-3zM579.8 237.5h3v1h-3zM579.8 238.5h3v1h-3zM644.9 240.5h3v1h-3zM568.0 243.5h3v1h-3zM565.0 245.5h3v1h-3zM579.8 245.5h3v1h-3zM556.2 246.5h3v1h-3zM562.1 247.5h3v1h-3zM571.0 247.5h3v1h-3zM630.1 250.5h3v1h-3zM559.1 252.5h3v1h-3zM568.0 253.5h3v1h-3zM621.2 253.5h3v1h-3zM562.1 255.5h3v1h-3zM627.1 258.5h3v1h-3zM565.0 260.5h3v1h-3zM636.0 260.5h3v1h-3zM556.2 261.5h3v1h-3zM618.3 261.5h3v1h-3zM630.1 261.5h3v1h-3zM565.0 262.5h3v1h-3zM562.1 263.5h3v1h-3zM565.0 263.5h3v1h-3zM553.2 264.5h3v1h-3zM624.2 264.5h3v1h-3zM627.1 264.5h3v1h-3zM603.5 266.5h3v1h-3zM627.1 266.5h3v1h-3zM621.2 267.5h3v1h-3zM680.3 268.5h3v1h-3zM606.4 269.5h3v1h-3zM618.3 269.5h3v1h-3zM630.1 269.5h3v1h-3zM636.0 269.5h3v1h-3zM556.2 270.5h3v1h-3z"/>
<path fill="#ffb6b6" d="M556.2 144.6h3v1h-3zM618.3 144.6h3v1h-3zM606.4 148.6h3v1h-3zM680.3 148.6h3v1h-3zM553.2 150.6h3v1h-3zM680.3 151.6h3v1h-3zM597.6 152.6h3v1h-3zM671.5 152.6h3v1h-3zM594.6 157.6h3v1h-3zM677.4 157.6h3v1h-3zM597.6 159.6h3v1h-3zM606.4 159.6h3v1h-3zM603.5 160.6h3v1h-3zM597.6 162.6h3v1h-3zM597.6 163.6h3v1h-3zM662.6 163.6h3v1h-3zM597.6 164.6h3v1h-3zM662.6 166.6h3v1h-3zM671.5 166.6h3v1h-3zM662.6 168.6h3v1h-3zM582.8 169.6h3v1h-3zM650.8 169.6h3v1h-3zM653.7 169.6h3v1h-3zM582.8 171.6h3v1h-3zM600.5 172.6h3v1h-3zM659.6 172.6h3v1h-3zM591.6 174.6h3v1h-3zM588.7 175.6h3v1h-3zM650.8 176.6h3v1h-3zM603.5 177.6h3v1h-3zM665.6 177.6h3v1h-3zM576.9 179.6h3v1h-3zM585.7 179.6h3v1h-3zM597.6 179.6h3v1h-3zM656.7 179.6h3v1h-3zM653.7 180.6h3v1h-3zM653.7 181.6h3v1h-3zM591.6 182.6h3v1h-3zM603.5 182.6h3v1h-3zM582.8 183.6h3v1h-3zM588.7 184.6h3v1h-3zM653.7 184.6h3v1h-3zM585.7 185.6h3v1h-3zM659.6 185.6h3v1h-3zM582.8 186.6h3v1h-3zM641.9 186.6h3v1h-3zM571.0 187.6h3v1h-3zM588.7 189.6h3v1h-3zM591.6 190.6h3v1h-3zM662.6 190.6h3v1h-3zM585.7 191.6h3v1h-3zM656.7 191.6h3v1h-3zM656.7 192.6h3v1h-3zM644.9 193.6h3v1h-3zM656.7 194.6h3v1h-3zM659.6 194.6h3v1h-3zM585.7 195.6h3v1h-3zM571.0 196.6h3v1h-3zM588.7 199.6h3v1h-3zM644.9 200.6h3v1h-3zM659.6 202.6h3v1h-3zM579.8 203.6h3v1h-3zM585.7 203.6h3v1h-3zM591.6 203.6h3v1h-3zM644.9 203.6h3v1h-3zM576.9 205.6h3v1h-3zM579.8 205.6h3v1h-3zM647.8 205.6h3v1h-3zM585.7 206.6h3v1h-3zM571.0 207.6h3v1h-3zM647.8 208.5h3v1h-3zM579.8 211.5h3v1h-3zM641.9 213.5h3v1h-3zM576.9 214.5h3v1h-3zM650.8 214.5h3v1h-3zM641.9 216.5h3v1h-3zM571.0 217.5h3v1h-3zM641.9 217.5h3v1h-3zM647.8 218.5h3v1h-3zM644.9 219.5h3v1h-3zM585.7 220.5h3v1h-3zM576.9 221.5h3v1h-3zM579.8 222.5h3v1h-3zM650.8 222.5h3v1h-3zM571.0 223.5h3v1h-3zM641.9 224.5h3v1h-3zM571.0 226.5h3v1h-3zM576.9 226.5h3v1h-3zM573.9 227.5h3v1h-3zM576.9 228.5h3v1h-3zM568.0 229.5h3v1h-3zM571.0 229.5h3v1h-3zM633.0 230.5h3v1h-3zM576.9 231.5h3v1h-3zM579.8 232.5h3v1h-3zM576.9 234.5h3v1h-3zM579.8 235.5h3v1h-3zM565.0 240.5h3v1h-3zM647.8 243.5h3v1h-3zM562.1 244.5h3v1h-3zM562.1 246.5h3v1h-3zM565.0 247.5h3v1h-3zM568.0 247.5h3v1h-3zM565.0 249.5h3v1h-3zM576.9 249.5h3v1h-3zM556.2 250.5h3v1h-3zM562.1 250.5h3v1h-3zM568.0 252.5h3v1h-3zM636.0 252.5h3v1h-3zM562.1 253.5h3v1h-3zM553.2 257.5h3v1h-3zM568.0 259.5h3v1h-3zM624.2 259.5h3v1h-3zM550.3 261.5h3v1h-3zM627.1 262.5h3v1h-3zM568.0 263.5h3v1h-3zM606.4 263.5h3v1h-3zM624.2 263.5h3v1h-3zM636.0 263.5h3v1h-3zM618.3 267.5h3v1h-3zM630.1 268.5h3v1h-3zM553.2 269.5h3v1h-3zM674.4 270.5h3v1h-3z"/>
<path fill="#ffaeae" d="M597.6 144.6h3v1h-3zM674.4 144.6h3v1h-3zM671.5 148.6h3v1h-3zM550.3 149.6h3v1h-3zM553.2 149.6h3v1h-3zM677.4 149.6h3v1h-3zM550.3 150.6h3v1h-3zM556.2 152.6h3v1h-3zM597.6 155.6h3v1h-3zM606.4 157.6h3v1h-3zM597.6 158.6h3v1h-3zM615.3 161.6h3v1h-3zM588.7 162.6h3v1h-3zM597.6 166.6h3v1h-3zM659.6 168.6h3v1h-3zM582.8 170.6h3v1h-3zM656.7 170.6h3v1h-3zM662.6 170.6h3v1h-3zM668.5 170.6h3v1h-3zM668.5 172.6h3v1h-3zM582.8 174.6h3v1h-3zM665.6 174.6h3v1h-3zM585.7 176.6h3v1h-3zM594.6 176.6h3v1h-3zM591.6 177.6h3v1h-3zM588.7 178.6h3v1h-3zM588.7 179.6h3v1h-3zM585.7 180.6h3v1h-3zM597.6 180.6h3v1h-3zM591.6 181.6h3v1h-3zM582.8 182.6h3v1h-3zM588.7 182.6h3v1h-3zM597.6 183.6h3v1h-3zM656.7 183.6h3v1h-3zM585.7 187.6h3v1h-3zM656.7 187.6h3v1h-3zM582.8 189.6h3v1h-3zM644.9 191.6h3v1h-3zM579.8 192.6h3v1h-3zM653.7 192.6h3v1h-3zM591.6 193.6h3v1h-3zM647.8 195.6h3v1h-3zM582.8 196.6h3v1h-3zM585.7 196.6h3v1h-3zM659.6 196.6h3v1h-3zM582.8 197.6h3v1h-3zM576.9 201.6h3v1h-3zM585.7 201.6h3v1h-3zM588.7 201.6h3v1h-3zM568.0 203.6h3v1h-3zM571.0 203.6h3v1h-3zM579.8 204.6h3v1h-3zM644.9 205.6h3v1h-3zM647.8 207.6h3v1h-3zM573.9 208.5h3v1h-3zM582.8 208.5h3v1h-3zM641.9 210.5h3v1h-3zM647.8 210.5h3v1h-3zM573.9 212.5h3v1h-3zM588.7 214.5h3v1h-3zM644.9 214.5h3v1h-3zM647.8 214.5h3v1h-3zM659.6 214.5h3v1h-3zM571.0 216.5h3v1h-3zM573.9 216.5h3v1h-3zM576.9 216.5h3v1h-3zM647.8 217.5h3v1h-3zM641.9 218.5h3v1h-3zM644.9 218.5h3v1h-3zM656.7 218.5h3v1h-3zM571.0 219.5h3v1h-3zM647.8 219.5h3v1h-3zM641.9 220.5h3v1h-3zM573.9 224.5h3v1h-3zM647.8 224.5h3v1h-3zM573.9 225.5h3v1h-3zM647.8 225.5h3v1h-3zM579.8 226.5h3v1h-3zM571.0 227.5h3v1h-3zM579.8 227.5h3v1h-3zM573.9 229.5h3v1h-3zM579.8 230.5h3v1h-3zM579.8 231.5h3v1h-3zM636.0 232.5h3v1h-3zM644.9 234.5h3v1h-3zM647.8 234.5h3v1h-3zM573.9 235.5h3v1h-3zM644.9 238.5h3v1h-3zM571.0 240.5h3v1h-3zM636.0 240.5h3v1h-3zM633.0 241.5h3v1h-3zM571.0 243.5h3v1h-3zM576.9 243.5h3v1h-3zM636.0 244.5h3v1h-3zM633.0 246.5h3v1h-3zM550.3 248.5h3v1h-3zM576.9 248.5h3v1h-3zM568.0 249.5h3v1h-3zM565.0 250.5h3v1h-3zM565.0 251.5h3v1h-3zM630.1 255.5h3v1h-3zM621.2 257.5h3v1h-3zM565.0 258.5h3v1h-3zM627.1 259.5h3v1h-3zM633.0 268.5h3v1h-3zM550.3 269.5h3v1h-3z"/>
<path fill="#ffa7a7" d="M612.3 144.6h3v1h-3zM615.3 151.6h3v1h-3zM680.3 155.6h3v1h-3zM594.6 160.6h3v1h-3zM662.6 160.6h3v1h-3zM603.5 162.6h3v1h-3zM600.5 163.6h3v1h-3zM588.7 164.6h3v1h-3zM588.7 166.6h3v1h-3zM668.5 166.6h3v1h-3zM585.7 167.6h3v1h-3zM603.5 168.6h3v1h-3zM594.6 169.6h3v1h-3zM597.6 169.6h3v1h-3zM585.7 170.6h3v1h-3zM659.6 171.6h3v1h-3zM585.7 174.6h3v1h-3zM588.7 174.6h3v1h-3zM659.6 174.6h3v1h-3zM582.8 176.6h3v1h-3zM571.0 179.6h3v1h-3zM591.6 179.6h3v1h-3zM588.7 180.6h3v1h-3zM591.6 180.6h3v1h-3zM650.8 180.6h3v1h-3zM585.7 184.6h3v1h-3zM591.6 187.6h3v1h-3zM576.9 191.6h3v1h-3zM591.6 191.6h3v1h-3zM588.7 193.6h3v1h-3zM653.7 195.6h3v1h-3zM647.8 198.6h3v1h-3zM591.6 199.6h3v1h-3zM644.9 201.6h3v1h-3zM582.8 202.6h3v1h-3zM588.7 203.6h3v1h-3zM591.6 206.6h3v1h-3zM573.9 207.6h3v1h-3zM573.9 209.5h3v1h-3zM659.6 210.5h3v1h-3zM644.9 212.5h3v1h-3zM571.0 214.5h3v1h-3zM579.8 214.5h3v1h-3zM641.9 214.5h3v1h-3zM579.8 217.5h3v1h-3zM576.9 218.5h3v1h-3zM650.8 219.5h3v1h-3zM573.9 220.5h3v1h-3zM656.7 220.5h3v1h-3zM571.0 222.5h3v1h-3zM641.9 222.5h3v1h-3zM579.8 224.5h3v1h-3zM571.0 225.5h3v1h-3zM573.9 226.5h3v1h-3zM647.8 226.5h3v1h-3zM641.9 227.5h3v1h-3zM633.0 231.5h3v1h-3zM565.0 232.5h3v1h-3zM571.0 232.5h3v1h-3zM576.9 240.5h3v1h-3zM633.0 240.5h3v1h-3zM639.0 241.5h3v1h-3zM576.9 245.5h3v1h-3zM630.1 245.5h3v1h-3zM550.3 247.5h3v1h-3zM562.1 251.5h3v1h-3zM633.0 256.5h3v1h-3zM550.3 257.5h3v1h-3zM559.1 259.5h3v1h-3zM556.2 260.5h3v1h-3zM553.2 262.5h3v1h-3zM556.2 266.5h3v1h-3zM624.2 267.5h3v1h-3zM547.3 270.5h3v1h-3zM624.2 270.5h3v1h-3z"/>
<path fill="#ffa0a0" d="M612.3 147.6h3v1h-3zM680.3 149.6h3v1h-3zM553.2 151.6h3v1h-3zM615.3 155.6h3v1h-3zM668.5 156.6h3v1h-3zM680.3 157.6h3v1h-3zM659.6 164.6h3v1h-3zM588.7 169.6h3v1h-3zM597.6 175.6h3v1h-3zM653.7 175.6h3v1h-3zM585.7 177.6h3v1h-3zM588.7 177.6h3v1h-3zM647.8 177.6h3v1h-3zM591.6 184.6h3v1h-3zM591.6 188.6h3v1h-3zM585.7 189.6h3v1h-3zM591.6 189.6h3v1h-3zM576.9 193.6h3v1h-3zM591.6 194.6h3v1h-3zM573.9 201.6h3v1h-3zM579.8 202.6h3v1h-3zM573.9 205.6h3v1h-3zM573.9 206.6h3v1h-3zM576.9 208.5h3v1h-3zM585.7 211.5h3v1h-3zM573.9 219.5h3v1h-3zM576.9 220.5h3v1h-3zM579.8 220.5h3v1h-3zM644.9 222.5h3v1h-3zM571.0 224.5h3v1h-3zM641.9 226.5h3v1h-3zM573.9 228.5h3v1h-3zM647.8 228.5h3v1h-3zM579.8 229.5h3v1h-3zM571.0 231.5h3v1h-3zM571.0 233.5h3v1h-3zM579.8 234.5h3v1h-3zM571.0 235.5h3v1h-3zM576.9 236.5h3v1h-3zM633.0 238.5h3v1h-3zM562.1 241.5h3v1h-3zM562.1 242.5h3v1h-3zM565.0 242.5h3v1h-3zM636.0 242.5h3v1h-3zM565.0 244.5h3v1h-3zM568.0 245.5h3v1h-3zM630.1 247.5h3v1h-3zM639.0 247.5h3v1h-3zM644.9 247.5h3v1h-3zM565.0 254.5h3v1h-3zM618.3 268.5h3v1h-3z"/>
<path fill="#ff9898" d="M547.3 147.6h3v1h-3zM677.4 151.6h3v1h-3zM603.5 157.6h3v1h-3zM600.5 161.6h3v1h-3zM585.7 162.6h3v1h-3zM588.7 168.6h3v1h-3zM594.6 172.6h3v1h-3zM603.5 174.6h3v1h-3zM585.7 175.6h3v1h-3zM600.5 175.6h3v1h-3zM594.6 186.6h3v1h-3zM588.7 190.6h3v1h-3zM582.8 195.6h3v1h-3zM591.6 195.6h3v1h-3zM585.7 202.6h3v1h-3zM650.8 202.6h3v1h-3zM647.8 209.5h3v1h-3zM576.9 210.5h3v1h-3zM571.0 212.5h3v1h-3zM573.9 214.5h3v1h-3zM647.8 215.5h3v1h-3zM639.0 234.5h3v1h-3zM633.0 237.5h3v1h-3zM630.1 238.5h3v1h-3zM633.0 239.5h3v1h-3zM576.9 241.5h3v1h-3zM565.0 246.5h3v1h-3zM553.2 265.5h3v1h-3z"/>
<path fill="#ff9191" d="M585.7 169.6h3v1h-3zM591.6 176.6h3v1h-3zM588.7 191.6h3v1h-3zM585.7 192.6h3v1h-3zM588.7 192.6h3v1h-3zM591.6 192.6h3v1h-3zM588.7 194.6h3v1h-3zM585.7 198.6h3v1h-3zM571.0 204.6h3v1h-3zM573.9 211.5h3v1h-3zM573.9 215.5h3v1h-3zM633.0 235.5h3v1h-3zM630.1 243.5h3v1h-3zM636.0 247.5h3v1h-3z"/>
<path fill="#ff8a8a" d="M550.3 144.6h3v1h-3zM585.7 171.6h3v1h-3zM582.8 175.6h3v1h-3zM603.5 179.6h3v1h-3zM588.7 195.6h3v1h-3zM573.9 218.5h3v1h-3zM576.9 232.5h3v1h-3zM576.9 238.5h3v1h-3zM639.0 244.5h3v1h-3zM633.0 247.5h3v1h-3z"/>
<path fill="#ff8282" d="M588.7 181.6h3v1h-3zM650.8 183.6h3v1h-3zM573.9 204.6h3v1h-3zM573.9 213.5h3v1h-3zM571.0 215.5h3v1h-3zM579.8 216.5h3v1h-3zM573.9 222.5h3v1h-3z"/>
<path fill="#ff7b7b" d="M680.3 152.6h3v1h-3zM588.7 185.6h3v1h-3zM588.7 187.6h3v1h-3zM641.9 209.5h3v1h-3z"/>
</g></g>
<rect x="547.4" y="272.1" width="36" height="2.7" fill="#a6a6a6"/>
<rect x="583.4" y="272.1" width="35.6" height="2.7" fill="#000"/>
<rect x="619" y="272.1" width="31.9" height="2.7" fill="#a6a6a6"/>
<rect x="650.9" y="272.1" width="32.6" height="2.7" fill="#000"/>
<text x="581.8" y="281.6" font-size="7.5" font-weight="bold" text-anchor="middle" fill="#111">CON</text>
<text x="649.4" y="281.6" font-size="7.5" font-weight="bold" text-anchor="middle" fill="#111">MMI</text>
</svg></body></html>
